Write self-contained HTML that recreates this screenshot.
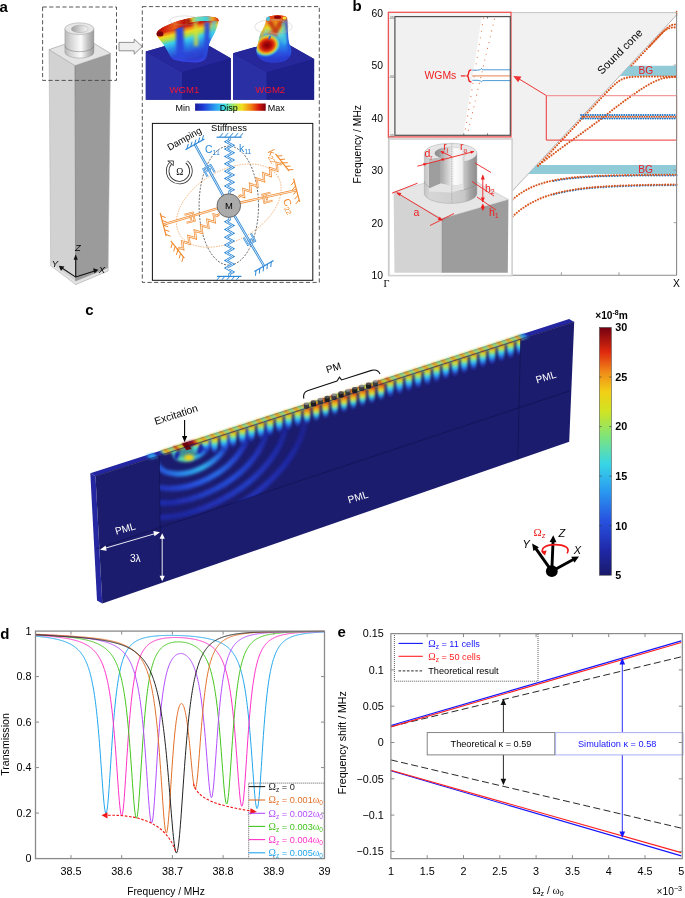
<!DOCTYPE html>
<html><head><meta charset="utf-8"><title>Figure</title>
<style>html,body{margin:0;padding:0;background:#fff;width:685px;height:898px;overflow:hidden;font-family:"Liberation Sans",sans-serif}
svg{display:block;will-change:transform}</style></head>
<body><svg width="685" height="898" viewBox="0 0 685 898">
<rect x="0" y="0" width="685" height="898" fill="#fff"/>
<defs><linearGradient id="cbarC" x1="0" x2="0" y1="1" y2="0"><stop offset="0" stop-color="#1a1a6a"/><stop offset="0.1" stop-color="#1f28a8"/><stop offset="0.22" stop-color="#2752e0"/><stop offset="0.34" stop-color="#2a9af0"/><stop offset="0.45" stop-color="#38d6e6"/><stop offset="0.56" stop-color="#7ee47a"/><stop offset="0.66" stop-color="#cfe424"/><stop offset="0.74" stop-color="#f2d016"/><stop offset="0.82" stop-color="#f08a18"/><stop offset="0.9" stop-color="#e02a0e"/><stop offset="1" stop-color="#740010"/></linearGradient><linearGradient id="lobe" x1="0" x2="0" y1="0" y2="1"><stop offset="0" stop-color="#e88c18"/><stop offset="0.14" stop-color="#ecc820"/><stop offset="0.28" stop-color="#a8e050"/><stop offset="0.44" stop-color="#40d2e8"/><stop offset="0.64" stop-color="#2a78ec"/><stop offset="0.84" stop-color="#2434b4" stop-opacity="0.6"/><stop offset="1" stop-color="#1c1c6e" stop-opacity="0"/></linearGradient><linearGradient id="lobeR" x1="0" x2="0" y1="0" y2="1"><stop offset="0" stop-color="#c81008"/><stop offset="0.2" stop-color="#f08a18"/><stop offset="0.4" stop-color="#d8e030"/><stop offset="0.6" stop-color="#38d0e6"/><stop offset="0.8" stop-color="#2a60e0" stop-opacity="0.7"/><stop offset="1" stop-color="#1c1c6e" stop-opacity="0"/></linearGradient><filter id="bl08" filterUnits="userSpaceOnUse" x="0" y="0" width="685" height="898"><feGaussianBlur stdDeviation="0.8"/></filter><filter id="bl15" filterUnits="userSpaceOnUse" x="0" y="0" width="685" height="898"><feGaussianBlur stdDeviation="1.5"/></filter><filter id="bl25" filterUnits="userSpaceOnUse" x="0" y="0" width="685" height="898"><feGaussianBlur stdDeviation="2.2"/></filter><clipPath id="fieldclip"><polygon points="159.50,455.57 520.60,339.18 518.50,408.08 160.00,527.94"/></clipPath><clipPath id="frontclip"><polygon points="95.50,476.20 574.20,321.90 569.20,441.80 102.30,603.60"/></clipPath></defs>
<text x="85.30" y="314.60" font-family="Liberation Sans" font-size="15" text-anchor="start" fill="#000" font-weight="bold" >c</text>
<polygon points="90.30,473.30 95.50,476.20 102.30,603.60 97.00,600.60" fill="#2427a0" stroke="none" stroke-width="1" />
<polygon points="95.50,476.20 574.20,321.90 569.20,441.80 102.30,603.60" fill="#1c1c6e" stroke="none" stroke-width="1" />
<polygon points="90.30,473.30 569.10,319.10 574.20,321.90 95.50,476.20" fill="#2326a0" stroke="none" stroke-width="1" />
<defs><linearGradient id="rg1" gradientUnits="userSpaceOnUse" x1="150" y1="0" x2="204.0" y2="0"><stop offset="0" stop-color="#2879e8"/><stop offset="0.3" stop-color="#36d1e6"/><stop offset="0.55" stop-color="#64dea1"/><stop offset="0.8" stop-color="#2da7ed"/><stop offset="1" stop-color="#264dda"/></linearGradient><linearGradient id="rg2" gradientUnits="userSpaceOnUse" x1="150" y1="0" x2="224.6" y2="0"><stop offset="0" stop-color="#264eda"/><stop offset="0.3" stop-color="#298fed"/><stop offset="0.55" stop-color="#2fafec"/><stop offset="0.8" stop-color="#286de6"/><stop offset="1" stop-color="#223ac0"/></linearGradient><linearGradient id="rg3" gradientUnits="userSpaceOnUse" x1="150" y1="0" x2="245.2" y2="0"><stop offset="0" stop-color="#2137bc"/><stop offset="0.3" stop-color="#2752e0"/><stop offset="0.55" stop-color="#286ae5"/><stop offset="0.8" stop-color="#2444ce"/><stop offset="1" stop-color="#1f29a9"/></linearGradient><linearGradient id="rg4" gradientUnits="userSpaceOnUse" x1="150" y1="0" x2="265.9" y2="0"><stop offset="0" stop-color="#1f2bac"/><stop offset="0.3" stop-color="#2340c8"/><stop offset="0.55" stop-color="#254bd6"/><stop offset="0.8" stop-color="#2135ba"/><stop offset="1" stop-color="#1e259b"/></linearGradient><linearGradient id="rg5" gradientUnits="userSpaceOnUse" x1="150" y1="0" x2="286.5" y2="0"><stop offset="0" stop-color="#1e26a0"/><stop offset="0.3" stop-color="#2134b8"/><stop offset="0.55" stop-color="#233dc4"/><stop offset="0.8" stop-color="#1f2cad"/><stop offset="1" stop-color="#1d2291"/></linearGradient><linearGradient id="rg6" gradientUnits="userSpaceOnUse" x1="150" y1="0" x2="307.1" y2="0"><stop offset="0" stop-color="#1d2496"/><stop offset="0.3" stop-color="#1f2bac"/><stop offset="0.55" stop-color="#2132b6"/><stop offset="0.8" stop-color="#1e26a2"/><stop offset="1" stop-color="#1c218a"/></linearGradient></defs>
<g clip-path="url(#fieldclip)"><g filter="url(#bl15)"><ellipse cx="192.0" cy="446.0" rx="19.0" ry="11.5" transform="rotate(-27 192.0 446.0)" fill="none" stroke="url(#rg1)" stroke-width="5.0"/><ellipse cx="192.0" cy="446.0" rx="39.6" ry="24.0" transform="rotate(-27 192.0 446.0)" fill="none" stroke="url(#rg2)" stroke-width="5.5"/><ellipse cx="192.0" cy="446.0" rx="60.2" ry="36.5" transform="rotate(-27 192.0 446.0)" fill="none" stroke="url(#rg3)" stroke-width="5.5"/><ellipse cx="192.0" cy="446.0" rx="80.8" ry="49.0" transform="rotate(-27 192.0 446.0)" fill="none" stroke="url(#rg4)" stroke-width="5.5"/><ellipse cx="192.0" cy="446.0" rx="101.5" ry="61.5" transform="rotate(-27 192.0 446.0)" fill="none" stroke="url(#rg5)" stroke-width="5.5"/><ellipse cx="192.0" cy="446.0" rx="122.1" ry="74.0" transform="rotate(-27 192.0 446.0)" fill="none" stroke="url(#rg6)" stroke-width="5.5"/></g><g filter="url(#bl08)"><path d="M192.30,444.99 L199.70,442.62 C199.51,449.31 198.22,454.81 196.00,454.81 C193.78,454.81 192.49,449.31 192.30,444.99 Z" fill="url(#lobe)"/><path d="M201.55,442.01 L208.95,439.64 C208.76,446.32 207.47,451.82 205.25,451.82 C203.03,451.82 201.74,446.32 201.55,442.01 Z" fill="url(#lobe)"/><path d="M210.80,439.03 L218.20,436.66 C218.01,446.59 216.72,455.34 214.50,455.34 C212.28,455.34 210.99,446.59 210.80,439.03 Z" fill="url(#lobe)"/><path d="M220.05,436.05 L227.45,433.68 C227.26,443.61 225.97,452.36 223.75,452.36 C221.53,452.36 220.24,443.61 220.05,436.05 Z" fill="url(#lobe)"/><path d="M229.30,433.06 L236.70,430.70 C236.51,440.63 235.22,449.38 233.00,449.38 C230.78,449.38 229.49,440.63 229.30,433.06 Z" fill="url(#lobe)"/><path d="M238.55,430.08 L245.95,427.71 C245.76,437.65 244.47,446.40 242.25,446.40 C240.03,446.40 238.74,437.65 238.55,430.08 Z" fill="url(#lobe)"/><path d="M247.80,427.10 L255.20,424.73 C255.01,434.67 253.72,443.42 251.50,443.42 C249.28,443.42 247.99,434.67 247.80,427.10 Z" fill="url(#lobe)"/><path d="M257.05,424.12 L264.45,421.75 C264.26,431.68 262.97,440.43 260.75,440.43 C258.53,440.43 257.24,431.68 257.05,424.12 Z" fill="url(#lobe)"/><path d="M266.30,421.14 L273.70,418.77 C273.51,428.70 272.22,437.45 270.00,437.45 C267.78,437.45 266.49,428.70 266.30,421.14 Z" fill="url(#lobe)"/><path d="M275.55,418.16 L282.95,415.79 C282.76,425.72 281.47,434.47 279.25,434.47 C277.03,434.47 275.74,425.72 275.55,418.16 Z" fill="url(#lobe)"/><path d="M284.80,415.17 L292.20,412.81 C292.01,422.74 290.72,431.49 288.50,431.49 C286.28,431.49 284.99,422.74 284.80,415.17 Z" fill="url(#lobe)"/><path d="M294.05,412.19 L301.45,409.82 C301.26,419.76 299.97,428.51 297.75,428.51 C295.53,428.51 294.24,419.76 294.05,412.19 Z" fill="url(#lobe)"/><path d="M303.30,409.21 L310.70,406.84 C310.51,416.78 309.22,425.53 307.00,425.53 C304.78,425.53 303.49,416.78 303.30,409.21 Z" fill="url(#lobeR)"/><path d="M312.55,406.23 L319.95,403.86 C319.76,413.80 318.47,422.55 316.25,422.55 C314.03,422.55 312.74,413.80 312.55,406.23 Z" fill="url(#lobeR)"/><path d="M321.80,403.25 L329.20,400.88 C329.01,410.81 327.72,419.56 325.50,419.56 C323.28,419.56 321.99,410.81 321.80,403.25 Z" fill="url(#lobeR)"/><path d="M331.05,400.27 L338.45,397.90 C338.26,407.83 336.97,416.58 334.75,416.58 C332.53,416.58 331.24,407.83 331.05,400.27 Z" fill="url(#lobeR)"/><path d="M340.30,397.28 L347.70,394.92 C347.51,404.85 346.22,413.60 344.00,413.60 C341.78,413.60 340.49,404.85 340.30,397.28 Z" fill="url(#lobeR)"/><path d="M349.55,394.30 L356.95,391.94 C356.76,401.87 355.47,410.62 353.25,410.62 C351.03,410.62 349.74,401.87 349.55,394.30 Z" fill="url(#lobeR)"/><path d="M358.80,391.32 L366.20,388.95 C366.01,398.89 364.72,407.64 362.50,407.64 C360.28,407.64 358.99,398.89 358.80,391.32 Z" fill="url(#lobeR)"/><path d="M368.05,388.34 L375.45,385.97 C375.26,395.91 373.97,404.66 371.75,404.66 C369.53,404.66 368.24,395.91 368.05,388.34 Z" fill="url(#lobeR)"/><path d="M377.30,385.36 L384.70,382.99 C384.51,392.92 383.22,401.67 381.00,401.67 C378.78,401.67 377.49,392.92 377.30,385.36 Z" fill="url(#lobeR)"/><path d="M386.55,382.38 L393.95,380.01 C393.76,389.94 392.47,398.69 390.25,398.69 C388.03,398.69 386.74,389.94 386.55,382.38 Z" fill="url(#lobe)"/><path d="M395.80,379.40 L403.20,377.03 C403.01,386.96 401.72,395.71 399.50,395.71 C397.28,395.71 395.99,386.96 395.80,379.40 Z" fill="url(#lobe)"/><path d="M405.05,376.41 L412.45,374.05 C412.26,383.98 410.97,392.73 408.75,392.73 C406.53,392.73 405.24,383.98 405.05,376.41 Z" fill="url(#lobe)"/><path d="M414.30,373.43 L421.70,371.06 C421.51,381.00 420.22,389.75 418.00,389.75 C415.78,389.75 414.49,381.00 414.30,373.43 Z" fill="url(#lobe)"/><path d="M423.55,370.45 L430.95,368.08 C430.76,378.02 429.47,386.77 427.25,386.77 C425.03,386.77 423.74,378.02 423.55,370.45 Z" fill="url(#lobe)"/><path d="M432.80,367.47 L440.20,365.10 C440.01,375.04 438.72,383.79 436.50,383.79 C434.28,383.79 432.99,375.04 432.80,367.47 Z" fill="url(#lobe)"/><path d="M442.05,364.49 L449.45,362.12 C449.26,372.05 447.97,380.80 445.75,380.80 C443.53,380.80 442.24,372.05 442.05,364.49 Z" fill="url(#lobe)"/><path d="M451.30,361.51 L458.70,359.14 C458.51,369.07 457.22,377.82 455.00,377.82 C452.78,377.82 451.49,369.07 451.30,361.51 Z" fill="url(#lobe)"/><path d="M460.55,358.52 L467.95,356.16 C467.76,366.09 466.47,374.84 464.25,374.84 C462.03,374.84 460.74,366.09 460.55,358.52 Z" fill="url(#lobe)"/><path d="M469.80,355.54 L477.20,353.17 C477.01,363.11 475.72,371.86 473.50,371.86 C471.28,371.86 469.99,363.11 469.80,355.54 Z" fill="url(#lobe)"/><path d="M479.05,352.56 L486.45,350.19 C486.26,360.13 484.97,368.88 482.75,368.88 C480.53,368.88 479.24,360.13 479.05,352.56 Z" fill="url(#lobe)"/><path d="M488.30,349.58 L495.70,347.21 C495.51,357.15 494.22,365.90 492.00,365.90 C489.78,365.90 488.49,357.15 488.30,349.58 Z" fill="url(#lobe)"/><path d="M497.55,346.60 L504.95,344.23 C504.76,354.16 503.47,362.91 501.25,362.91 C499.03,362.91 497.74,354.16 497.55,346.60 Z" fill="url(#lobe)"/><path d="M506.80,343.62 L514.20,341.25 C514.01,351.18 512.72,359.93 510.50,359.93 C508.28,359.93 506.99,351.18 506.80,343.62 Z" fill="url(#lobe)"/><path d="M516.05,340.63 L523.45,338.27 C523.26,348.20 521.97,356.95 519.75,356.95 C517.53,356.95 516.24,348.20 516.05,340.63 Z" fill="url(#lobe)"/></g><ellipse cx="188" cy="452" rx="11" ry="6" transform="rotate(-15 188 452)" fill="#57dcb4" filter="url(#bl15)" opacity="0.6"/><ellipse cx="189" cy="457.5" rx="5" ry="3" fill="#f2d016" filter="url(#bl15)"/><ellipse cx="176.8" cy="455.5" rx="2.4" ry="4.2" transform="rotate(20 176.8 455.5)" fill="#1f28a8" filter="url(#bl08)"/><ellipse cx="200.2" cy="449.5" rx="2.4" ry="4.2" transform="rotate(20 200.2 449.5)" fill="#1f28a8" filter="url(#bl08)"/></g>
<g filter="url(#bl08)"><polygon points="159.25,450.89 161.40,450.20 166.50,453.81 164.35,454.51" fill="#64dea1" stroke="none" stroke-width="1" /><polygon points="161.10,450.30 163.25,449.61 168.35,453.22 166.20,453.91" fill="#e0da1d" stroke="none" stroke-width="1" /><polygon points="162.95,449.70 165.10,449.01 170.20,452.62 168.05,453.31" fill="#f08a18" stroke="none" stroke-width="1" /><polygon points="164.80,449.11 166.95,448.41 172.05,452.03 169.90,452.72" fill="#f1be16" stroke="none" stroke-width="1" /><polygon points="166.65,448.51 168.80,447.82 173.90,451.43 171.75,452.12" fill="#9ee457" stroke="none" stroke-width="1" /><polygon points="168.50,447.92 170.65,447.22 175.75,450.83 173.60,451.53" fill="#64dea1" stroke="none" stroke-width="1" /><polygon points="170.35,447.32 172.50,446.63 177.60,450.24 175.45,450.93" fill="#e0da1d" stroke="none" stroke-width="1" /><polygon points="172.20,446.72 174.35,446.03 179.45,449.64 177.30,450.33" fill="#ca210e" stroke="none" stroke-width="1" /><polygon points="174.05,446.13 176.20,445.44 181.30,449.04 179.15,449.74" fill="#e85a13" stroke="none" stroke-width="1" /><polygon points="175.90,445.53 178.05,444.84 183.15,448.45 181.00,449.14" fill="#e0da1d" stroke="none" stroke-width="1" /><polygon points="177.75,444.94 179.90,444.24 185.00,447.85 182.85,448.54" fill="#aee446" stroke="none" stroke-width="1" /><polygon points="179.60,444.34 181.75,443.65 186.85,447.26 184.70,447.95" fill="#f09b17" stroke="none" stroke-width="1" /><polygon points="181.45,443.74 183.60,443.05 188.70,446.66 186.55,447.35" fill="#89080f" stroke="none" stroke-width="1" /><polygon points="183.30,443.15 185.45,442.46 190.55,446.06 188.40,446.76" fill="#89080f" stroke="none" stroke-width="1" /><polygon points="185.15,442.55 187.30,441.86 192.40,445.47 190.25,446.16" fill="#89080f" stroke="none" stroke-width="1" /><polygon points="187.00,441.96 189.15,441.26 194.25,444.87 192.10,445.56" fill="#89080f" stroke="none" stroke-width="1" /><polygon points="188.85,441.36 191.00,440.67 196.10,444.27 193.95,444.97" fill="#89080f" stroke="none" stroke-width="1" /><polygon points="190.70,440.77 192.85,440.07 197.95,443.68 195.80,444.37" fill="#ca210e" stroke="none" stroke-width="1" /><polygon points="192.55,440.17 194.70,439.48 199.80,443.08 197.65,443.77" fill="#e85a13" stroke="none" stroke-width="1" /><polygon points="194.40,439.57 196.55,438.88 201.65,442.48 199.50,443.18" fill="#e0da1d" stroke="none" stroke-width="1" /><polygon points="196.25,438.98 198.40,438.29 203.50,441.89 201.35,442.58" fill="#aee446" stroke="none" stroke-width="1" /><polygon points="198.10,438.38 200.25,437.69 205.35,441.29 203.20,441.98" fill="#e0da1d" stroke="none" stroke-width="1" /><polygon points="199.95,437.79 202.10,437.09 207.20,440.70 205.05,441.39" fill="#f08a18" stroke="none" stroke-width="1" /><polygon points="201.80,437.19 203.95,436.50 209.05,440.10 206.90,440.79" fill="#f1be16" stroke="none" stroke-width="1" /><polygon points="203.65,436.60 205.80,435.90 210.90,439.50 208.75,440.20" fill="#9ee457" stroke="none" stroke-width="1" /><polygon points="205.50,436.00 207.65,435.31 212.75,438.91 210.60,439.60" fill="#64dea1" stroke="none" stroke-width="1" /><polygon points="207.35,435.40 209.50,434.71 214.60,438.31 212.45,439.00" fill="#e0da1d" stroke="none" stroke-width="1" /><polygon points="209.20,434.81 211.35,434.12 216.45,437.71 214.30,438.41" fill="#f08a18" stroke="none" stroke-width="1" /><polygon points="211.05,434.21 213.20,433.52 218.30,437.12 216.15,437.81" fill="#f1be16" stroke="none" stroke-width="1" /><polygon points="212.90,433.62 215.05,432.92 220.15,436.52 218.00,437.21" fill="#9ee457" stroke="none" stroke-width="1" /><polygon points="214.75,433.02 216.90,432.33 222.00,435.93 219.85,436.62" fill="#64dea1" stroke="none" stroke-width="1" /><polygon points="216.60,432.42 218.75,431.73 223.85,435.33 221.70,436.02" fill="#e0da1d" stroke="none" stroke-width="1" /><polygon points="218.45,431.83 220.60,431.14 225.70,434.73 223.55,435.43" fill="#f08a18" stroke="none" stroke-width="1" /><polygon points="220.30,431.23 222.45,430.54 227.55,434.14 225.40,434.83" fill="#f1be16" stroke="none" stroke-width="1" /><polygon points="222.15,430.64 224.30,429.94 229.40,433.54 227.25,434.23" fill="#9ee457" stroke="none" stroke-width="1" /><polygon points="224.00,430.04 226.15,429.35 231.25,432.94 229.10,433.64" fill="#64dea1" stroke="none" stroke-width="1" /><polygon points="225.85,429.45 228.00,428.75 233.10,432.35 230.95,433.04" fill="#e0da1d" stroke="none" stroke-width="1" /><polygon points="227.70,428.85 229.85,428.16 234.95,431.75 232.80,432.44" fill="#f08a18" stroke="none" stroke-width="1" /><polygon points="229.55,428.25 231.70,427.56 236.80,431.15 234.65,431.85" fill="#f1be16" stroke="none" stroke-width="1" /><polygon points="231.40,427.66 233.55,426.97 238.65,430.56 236.50,431.25" fill="#9ee457" stroke="none" stroke-width="1" /><polygon points="233.25,427.06 235.40,426.37 240.50,429.96 238.35,430.65" fill="#64dea1" stroke="none" stroke-width="1" /><polygon points="235.10,426.47 237.25,425.77 242.35,429.37 240.20,430.06" fill="#e0da1d" stroke="none" stroke-width="1" /><polygon points="236.95,425.87 239.10,425.18 244.20,428.77 242.05,429.46" fill="#f08a18" stroke="none" stroke-width="1" /><polygon points="238.80,425.27 240.95,424.58 246.05,428.17 243.90,428.87" fill="#f1be16" stroke="none" stroke-width="1" /><polygon points="240.65,424.68 242.80,423.99 247.90,427.58 245.75,428.27" fill="#9ee457" stroke="none" stroke-width="1" /><polygon points="242.50,424.08 244.65,423.39 249.75,426.98 247.60,427.67" fill="#64dea1" stroke="none" stroke-width="1" /><polygon points="244.35,423.49 246.50,422.79 251.60,426.38 249.45,427.08" fill="#e0da1d" stroke="none" stroke-width="1" /><polygon points="246.20,422.89 248.35,422.20 253.45,425.79 251.30,426.48" fill="#f08a18" stroke="none" stroke-width="1" /><polygon points="248.05,422.30 250.20,421.60 255.30,425.19 253.15,425.88" fill="#f1be16" stroke="none" stroke-width="1" /><polygon points="249.90,421.70 252.05,421.01 257.15,424.60 255.00,425.29" fill="#9ee457" stroke="none" stroke-width="1" /><polygon points="251.75,421.10 253.90,420.41 259.00,424.00 256.85,424.69" fill="#64dea1" stroke="none" stroke-width="1" /><polygon points="253.60,420.51 255.75,419.82 260.85,423.40 258.70,424.10" fill="#e0da1d" stroke="none" stroke-width="1" /><polygon points="255.45,419.91 257.60,419.22 262.70,422.81 260.55,423.50" fill="#f08a18" stroke="none" stroke-width="1" /><polygon points="257.30,419.32 259.45,418.62 264.55,422.21 262.40,422.90" fill="#f1be16" stroke="none" stroke-width="1" /><polygon points="259.15,418.72 261.30,418.03 266.40,421.61 264.25,422.31" fill="#9ee457" stroke="none" stroke-width="1" /><polygon points="261.00,418.13 263.15,417.43 268.25,421.02 266.10,421.71" fill="#64dea1" stroke="none" stroke-width="1" /><polygon points="262.85,417.53 265.00,416.84 270.10,420.42 267.95,421.11" fill="#e0da1d" stroke="none" stroke-width="1" /><polygon points="264.70,416.93 266.85,416.24 271.95,419.82 269.80,420.52" fill="#f08a18" stroke="none" stroke-width="1" /><polygon points="266.55,416.34 268.70,415.65 273.80,419.23 271.65,419.92" fill="#f1be16" stroke="none" stroke-width="1" /><polygon points="268.40,415.74 270.55,415.05 275.65,418.63 273.50,419.33" fill="#9ee457" stroke="none" stroke-width="1" /><polygon points="270.25,415.15 272.40,414.45 277.50,418.04 275.35,418.73" fill="#64dea1" stroke="none" stroke-width="1" /><polygon points="272.10,414.55 274.25,413.86 279.35,417.44 277.20,418.13" fill="#e0da1d" stroke="none" stroke-width="1" /><polygon points="273.95,413.95 276.10,413.26 281.20,416.84 279.05,417.54" fill="#f08a18" stroke="none" stroke-width="1" /><polygon points="275.80,413.36 277.95,412.67 283.05,416.25 280.90,416.94" fill="#f1be16" stroke="none" stroke-width="1" /><polygon points="277.65,412.76 279.80,412.07 284.90,415.65 282.75,416.34" fill="#9ee457" stroke="none" stroke-width="1" /><polygon points="279.50,412.17 281.65,411.47 286.75,415.05 284.60,415.75" fill="#64dea1" stroke="none" stroke-width="1" /><polygon points="281.35,411.57 283.50,410.88 288.60,414.46 286.45,415.15" fill="#e0da1d" stroke="none" stroke-width="1" /><polygon points="283.20,410.98 285.35,410.28 290.45,413.86 288.30,414.55" fill="#f08a18" stroke="none" stroke-width="1" /><polygon points="285.05,410.38 287.20,409.69 292.30,413.27 290.15,413.96" fill="#f1be16" stroke="none" stroke-width="1" /><polygon points="286.90,409.78 289.05,409.09 294.15,412.67 292.00,413.36" fill="#9ee457" stroke="none" stroke-width="1" /><polygon points="288.75,409.19 290.90,408.50 296.00,412.07 293.85,412.77" fill="#64dea1" stroke="none" stroke-width="1" /><polygon points="290.60,408.59 292.75,407.90 297.85,411.48 295.70,412.17" fill="#e0da1d" stroke="none" stroke-width="1" /><polygon points="292.45,408.00 294.60,407.30 299.70,410.88 297.55,411.57" fill="#f08a18" stroke="none" stroke-width="1" /><polygon points="294.30,407.40 296.45,406.71 301.55,410.28 299.40,410.98" fill="#f1be16" stroke="none" stroke-width="1" /><polygon points="296.15,406.80 298.30,406.11 303.40,409.69 301.25,410.38" fill="#9ee457" stroke="none" stroke-width="1" /><polygon points="298.00,406.21 300.15,405.52 305.25,409.09 303.10,409.78" fill="#64dea1" stroke="none" stroke-width="1" /><polygon points="299.85,405.61 302.00,404.92 307.10,408.49 304.95,409.19" fill="#e0da1d" stroke="none" stroke-width="1" /><polygon points="301.70,405.02 303.85,404.33 308.95,407.90 306.80,408.59" fill="#f08a18" stroke="none" stroke-width="1" /><polygon points="303.55,404.42 305.70,403.73 310.80,407.30 308.65,408.00" fill="#f1be16" stroke="none" stroke-width="1" /><polygon points="305.40,403.83 307.55,403.13 312.65,406.71 310.50,407.40" fill="#d7df20" stroke="none" stroke-width="1" /><polygon points="307.25,403.23 309.40,402.54 314.50,406.11 312.35,406.80" fill="#9ee457" stroke="none" stroke-width="1" /><polygon points="309.10,402.63 311.25,401.94 316.35,405.51 314.20,406.21" fill="#f1ad17" stroke="none" stroke-width="1" /><polygon points="310.95,402.04 313.10,401.35 318.20,404.92 316.05,405.61" fill="#e02a0e" stroke="none" stroke-width="1" /><polygon points="312.80,401.44 314.95,400.75 320.05,404.32 317.90,405.01" fill="#ec7215" stroke="none" stroke-width="1" /><polygon points="314.65,400.85 316.80,400.15 321.90,403.72 319.75,404.42" fill="#d7df20" stroke="none" stroke-width="1" /><polygon points="316.50,400.25 318.65,399.56 323.75,403.13 321.60,403.82" fill="#9ee457" stroke="none" stroke-width="1" /><polygon points="318.35,399.66 320.50,398.96 325.60,402.53 323.45,403.22" fill="#f1ad17" stroke="none" stroke-width="1" /><polygon points="320.20,399.06 322.35,398.37 327.45,401.94 325.30,402.63" fill="#e02a0e" stroke="none" stroke-width="1" /><polygon points="322.05,398.46 324.20,397.77 329.30,401.34 327.15,402.03" fill="#ec7215" stroke="none" stroke-width="1" /><polygon points="323.90,397.87 326.05,397.18 331.15,400.74 329.00,401.44" fill="#d7df20" stroke="none" stroke-width="1" /><polygon points="325.75,397.27 327.90,396.58 333.00,400.15 330.85,400.84" fill="#9ee457" stroke="none" stroke-width="1" /><polygon points="327.60,396.68 329.75,395.98 334.85,399.55 332.70,400.24" fill="#f1ad17" stroke="none" stroke-width="1" /><polygon points="329.45,396.08 331.60,395.39 336.70,398.95 334.55,399.65" fill="#e02a0e" stroke="none" stroke-width="1" /><polygon points="331.30,395.48 333.45,394.79 338.55,398.36 336.40,399.05" fill="#ec7215" stroke="none" stroke-width="1" /><polygon points="333.15,394.89 335.30,394.20 340.40,397.76 338.25,398.45" fill="#d7df20" stroke="none" stroke-width="1" /><polygon points="335.00,394.29 337.15,393.60 342.25,397.16 340.10,397.86" fill="#9ee457" stroke="none" stroke-width="1" /><polygon points="336.85,393.70 339.00,393.00 344.10,396.57 341.95,397.26" fill="#f1ad17" stroke="none" stroke-width="1" /><polygon points="338.70,393.10 340.85,392.41 345.95,395.97 343.80,396.67" fill="#e02a0e" stroke="none" stroke-width="1" /><polygon points="340.55,392.51 342.70,391.81 347.80,395.38 345.65,396.07" fill="#ec7215" stroke="none" stroke-width="1" /><polygon points="342.40,391.91 344.55,391.22 349.65,394.78 347.50,395.47" fill="#d7df20" stroke="none" stroke-width="1" /><polygon points="344.25,391.31 346.40,390.62 351.50,394.18 349.35,394.88" fill="#9ee457" stroke="none" stroke-width="1" /><polygon points="346.10,390.72 348.25,390.03 353.35,393.59 351.20,394.28" fill="#f1ad17" stroke="none" stroke-width="1" /><polygon points="347.95,390.12 350.10,389.43 355.20,392.99 353.05,393.68" fill="#e02a0e" stroke="none" stroke-width="1" /><polygon points="349.80,389.53 351.95,388.83 357.05,392.39 354.90,393.09" fill="#ec7215" stroke="none" stroke-width="1" /><polygon points="351.65,388.93 353.80,388.24 358.90,391.80 356.75,392.49" fill="#d7df20" stroke="none" stroke-width="1" /><polygon points="353.50,388.34 355.65,387.64 360.75,391.20 358.60,391.89" fill="#9ee457" stroke="none" stroke-width="1" /><polygon points="355.35,387.74 357.50,387.05 362.60,390.61 360.45,391.30" fill="#f1ad17" stroke="none" stroke-width="1" /><polygon points="357.20,387.14 359.35,386.45 364.45,390.01 362.30,390.70" fill="#e02a0e" stroke="none" stroke-width="1" /><polygon points="359.05,386.55 361.20,385.86 366.30,389.41 364.15,390.11" fill="#ec7215" stroke="none" stroke-width="1" /><polygon points="360.90,385.95 363.05,385.26 368.15,388.82 366.00,389.51" fill="#d7df20" stroke="none" stroke-width="1" /><polygon points="362.75,385.36 364.90,384.66 370.00,388.22 367.85,388.91" fill="#9ee457" stroke="none" stroke-width="1" /><polygon points="364.60,384.76 366.75,384.07 371.85,387.62 369.70,388.32" fill="#f1ad17" stroke="none" stroke-width="1" /><polygon points="366.45,384.16 368.60,383.47 373.70,387.03 371.55,387.72" fill="#e02a0e" stroke="none" stroke-width="1" /><polygon points="368.30,383.57 370.45,382.88 375.55,386.43 373.40,387.12" fill="#ec7215" stroke="none" stroke-width="1" /><polygon points="370.15,382.97 372.30,382.28 377.40,385.83 375.25,386.53" fill="#d7df20" stroke="none" stroke-width="1" /><polygon points="372.00,382.38 374.15,381.68 379.25,385.24 377.10,385.93" fill="#9ee457" stroke="none" stroke-width="1" /><polygon points="373.85,381.78 376.00,381.09 381.10,384.64 378.95,385.34" fill="#f1ad17" stroke="none" stroke-width="1" /><polygon points="375.70,381.19 377.85,380.49 382.95,384.05 380.80,384.74" fill="#e02a0e" stroke="none" stroke-width="1" /><polygon points="377.55,380.59 379.70,379.90 384.80,383.45 382.65,384.14" fill="#ec7215" stroke="none" stroke-width="1" /><polygon points="379.40,379.99 381.55,379.30 386.65,382.85 384.50,383.55" fill="#d7df20" stroke="none" stroke-width="1" /><polygon points="381.25,379.40 383.40,378.71 388.50,382.26 386.35,382.95" fill="#9ee457" stroke="none" stroke-width="1" /><polygon points="383.10,378.80 385.25,378.11 390.35,381.66 388.20,382.35" fill="#f1ad17" stroke="none" stroke-width="1" /><polygon points="384.95,378.21 387.10,377.51 392.20,381.06 390.05,381.76" fill="#e02a0e" stroke="none" stroke-width="1" /><polygon points="386.80,377.61 388.95,376.92 394.05,380.47 391.90,381.16" fill="#f1be16" stroke="none" stroke-width="1" /><polygon points="388.65,377.01 390.80,376.32 395.90,379.87 393.75,380.56" fill="#9ee457" stroke="none" stroke-width="1" /><polygon points="390.50,376.42 392.65,375.73 397.75,379.28 395.60,379.97" fill="#64dea1" stroke="none" stroke-width="1" /><polygon points="392.35,375.82 394.50,375.13 399.60,378.68 397.45,379.37" fill="#e0da1d" stroke="none" stroke-width="1" /><polygon points="394.20,375.23 396.35,374.54 401.45,378.08 399.30,378.78" fill="#f08a18" stroke="none" stroke-width="1" /><polygon points="396.05,374.63 398.20,373.94 403.30,377.49 401.15,378.18" fill="#f1be16" stroke="none" stroke-width="1" /><polygon points="397.90,374.04 400.05,373.34 405.15,376.89 403.00,377.58" fill="#9ee457" stroke="none" stroke-width="1" /><polygon points="399.75,373.44 401.90,372.75 407.00,376.29 404.85,376.99" fill="#64dea1" stroke="none" stroke-width="1" /><polygon points="401.60,372.84 403.75,372.15 408.85,375.70 406.70,376.39" fill="#e0da1d" stroke="none" stroke-width="1" /><polygon points="403.45,372.25 405.60,371.56 410.70,375.10 408.55,375.79" fill="#f08a18" stroke="none" stroke-width="1" /><polygon points="405.30,371.65 407.45,370.96 412.55,374.50 410.40,375.20" fill="#f1be16" stroke="none" stroke-width="1" /><polygon points="407.15,371.06 409.30,370.36 414.40,373.91 412.25,374.60" fill="#9ee457" stroke="none" stroke-width="1" /><polygon points="409.00,370.46 411.15,369.77 416.25,373.31 414.10,374.01" fill="#64dea1" stroke="none" stroke-width="1" /><polygon points="410.85,369.87 413.00,369.17 418.10,372.72 415.95,373.41" fill="#e0da1d" stroke="none" stroke-width="1" /><polygon points="412.70,369.27 414.85,368.58 419.95,372.12 417.80,372.81" fill="#f08a18" stroke="none" stroke-width="1" /><polygon points="414.55,368.67 416.70,367.98 421.80,371.52 419.65,372.22" fill="#f1be16" stroke="none" stroke-width="1" /><polygon points="416.40,368.08 418.55,367.39 423.65,370.93 421.50,371.62" fill="#9ee457" stroke="none" stroke-width="1" /><polygon points="418.25,367.48 420.40,366.79 425.50,370.33 423.35,371.02" fill="#64dea1" stroke="none" stroke-width="1" /><polygon points="420.10,366.89 422.25,366.19 427.35,369.73 425.20,370.43" fill="#e0da1d" stroke="none" stroke-width="1" /><polygon points="421.95,366.29 424.10,365.60 429.20,369.14 427.05,369.83" fill="#f08a18" stroke="none" stroke-width="1" /><polygon points="423.80,365.69 425.95,365.00 431.05,368.54 428.90,369.23" fill="#f1be16" stroke="none" stroke-width="1" /><polygon points="425.65,365.10 427.80,364.41 432.90,367.95 430.75,368.64" fill="#9ee457" stroke="none" stroke-width="1" /><polygon points="427.50,364.50 429.65,363.81 434.75,367.35 432.60,368.04" fill="#64dea1" stroke="none" stroke-width="1" /><polygon points="429.35,363.91 431.50,363.21 436.60,366.75 434.45,367.45" fill="#e0da1d" stroke="none" stroke-width="1" /><polygon points="431.20,363.31 433.35,362.62 438.45,366.16 436.30,366.85" fill="#f08a18" stroke="none" stroke-width="1" /><polygon points="433.05,362.72 435.20,362.02 440.30,365.56 438.15,366.25" fill="#f1be16" stroke="none" stroke-width="1" /><polygon points="434.90,362.12 437.05,361.43 442.15,364.96 440.00,365.66" fill="#9ee457" stroke="none" stroke-width="1" /><polygon points="436.75,361.52 438.90,360.83 444.00,364.37 441.85,365.06" fill="#64dea1" stroke="none" stroke-width="1" /><polygon points="438.60,360.93 440.75,360.24 445.85,363.77 443.70,364.46" fill="#e0da1d" stroke="none" stroke-width="1" /><polygon points="440.45,360.33 442.60,359.64 447.70,363.17 445.55,363.87" fill="#f08a18" stroke="none" stroke-width="1" /><polygon points="442.30,359.74 444.45,359.04 449.55,362.58 447.40,363.27" fill="#f1be16" stroke="none" stroke-width="1" /><polygon points="444.15,359.14 446.30,358.45 451.40,361.98 449.25,362.68" fill="#9ee457" stroke="none" stroke-width="1" /><polygon points="446.00,358.54 448.15,357.85 453.25,361.39 451.10,362.08" fill="#64dea1" stroke="none" stroke-width="1" /><polygon points="447.85,357.95 450.00,357.26 455.10,360.79 452.95,361.48" fill="#e0da1d" stroke="none" stroke-width="1" /><polygon points="449.70,357.35 451.85,356.66 456.95,360.19 454.80,360.89" fill="#f08a18" stroke="none" stroke-width="1" /><polygon points="451.55,356.76 453.70,356.07 458.80,359.60 456.65,360.29" fill="#f1be16" stroke="none" stroke-width="1" /><polygon points="453.40,356.16 455.55,355.47 460.65,359.00 458.50,359.69" fill="#9ee457" stroke="none" stroke-width="1" /><polygon points="455.25,355.57 457.40,354.87 462.50,358.40 460.35,359.10" fill="#64dea1" stroke="none" stroke-width="1" /><polygon points="457.10,354.97 459.25,354.28 464.35,357.81 462.20,358.50" fill="#e0da1d" stroke="none" stroke-width="1" /><polygon points="458.95,354.37 461.10,353.68 466.20,357.21 464.05,357.90" fill="#f08a18" stroke="none" stroke-width="1" /><polygon points="460.80,353.78 462.95,353.09 468.05,356.62 465.90,357.31" fill="#f1be16" stroke="none" stroke-width="1" /><polygon points="462.65,353.18 464.80,352.49 469.90,356.02 467.75,356.71" fill="#9ee457" stroke="none" stroke-width="1" /><polygon points="464.50,352.59 466.65,351.89 471.75,355.42 469.60,356.12" fill="#64dea1" stroke="none" stroke-width="1" /><polygon points="466.35,351.99 468.50,351.30 473.60,354.83 471.45,355.52" fill="#e0da1d" stroke="none" stroke-width="1" /><polygon points="468.20,351.40 470.35,350.70 475.45,354.23 473.30,354.92" fill="#f08a18" stroke="none" stroke-width="1" /><polygon points="470.05,350.80 472.20,350.11 477.30,353.63 475.15,354.33" fill="#f1be16" stroke="none" stroke-width="1" /><polygon points="471.90,350.20 474.05,349.51 479.15,353.04 477.00,353.73" fill="#9ee457" stroke="none" stroke-width="1" /><polygon points="473.75,349.61 475.90,348.92 481.00,352.44 478.85,353.13" fill="#64dea1" stroke="none" stroke-width="1" /><polygon points="475.60,349.01 477.75,348.32 482.85,351.84 480.70,352.54" fill="#e0da1d" stroke="none" stroke-width="1" /><polygon points="477.45,348.42 479.60,347.72 484.70,351.25 482.55,351.94" fill="#f08a18" stroke="none" stroke-width="1" /><polygon points="479.30,347.82 481.45,347.13 486.55,350.65 484.40,351.35" fill="#f1be16" stroke="none" stroke-width="1" /><polygon points="481.15,347.22 483.30,346.53 488.40,350.06 486.25,350.75" fill="#9ee457" stroke="none" stroke-width="1" /><polygon points="483.00,346.63 485.15,345.94 490.25,349.46 488.10,350.15" fill="#64dea1" stroke="none" stroke-width="1" /><polygon points="484.85,346.03 487.00,345.34 492.10,348.86 489.95,349.56" fill="#e0da1d" stroke="none" stroke-width="1" /><polygon points="486.70,345.44 488.85,344.74 493.95,348.27 491.80,348.96" fill="#f08a18" stroke="none" stroke-width="1" /><polygon points="488.55,344.84 490.70,344.15 495.80,347.67 493.65,348.36" fill="#f1be16" stroke="none" stroke-width="1" /><polygon points="490.40,344.25 492.55,343.55 497.65,347.07 495.50,347.77" fill="#9ee457" stroke="none" stroke-width="1" /><polygon points="492.25,343.65 494.40,342.96 499.50,346.48 497.35,347.17" fill="#64dea1" stroke="none" stroke-width="1" /><polygon points="494.10,343.05 496.25,342.36 501.35,345.88 499.20,346.57" fill="#e0da1d" stroke="none" stroke-width="1" /><polygon points="495.95,342.46 498.10,341.77 503.20,345.29 501.05,345.98" fill="#f08a18" stroke="none" stroke-width="1" /><polygon points="497.80,341.86 499.95,341.17 505.05,344.69 502.90,345.38" fill="#f1be16" stroke="none" stroke-width="1" /><polygon points="499.65,341.27 501.80,340.57 506.90,344.09 504.75,344.79" fill="#9ee457" stroke="none" stroke-width="1" /><polygon points="501.50,340.67 503.65,339.98 508.75,343.50 506.60,344.19" fill="#64dea1" stroke="none" stroke-width="1" /><polygon points="503.35,340.08 505.50,339.38 510.60,342.90 508.45,343.59" fill="#e0da1d" stroke="none" stroke-width="1" /><polygon points="505.20,339.48 507.35,338.79 512.45,342.30 510.30,343.00" fill="#f08a18" stroke="none" stroke-width="1" /><polygon points="507.05,338.88 509.20,338.19 514.30,341.71 512.15,342.40" fill="#f1be16" stroke="none" stroke-width="1" /><polygon points="508.90,338.29 511.05,337.60 516.15,341.11 514.00,341.80" fill="#9ee457" stroke="none" stroke-width="1" /><polygon points="510.75,337.69 512.90,337.00 518.00,340.52 515.85,341.21" fill="#64dea1" stroke="none" stroke-width="1" /><polygon points="512.60,337.10 514.75,336.40 519.85,339.92 517.70,340.61" fill="#e0da1d" stroke="none" stroke-width="1" /><polygon points="514.45,336.50 516.60,335.81 521.70,339.32 519.55,340.02" fill="#f08a18" stroke="none" stroke-width="1" /><polygon points="516.30,335.90 518.45,335.21 523.55,338.73 521.40,339.42" fill="#f1be16" stroke="none" stroke-width="1" /><polygon points="518.15,335.31 520.30,334.62 525.40,338.13 523.25,338.82" fill="#9ee457" stroke="none" stroke-width="1" /></g>
<path d="M146,455.4 L153,453.1 L158,457.1 L151,459.3 Z" fill="#2a9af0" filter="url(#bl08)"/>
<path d="M518,335.6 L524,333.6 L529,337.5 L523,339.4 Z" fill="#2a9af0" filter="url(#bl08)" opacity="0.8"/>
<polygon points="182.00,443.77 187.00,442.16 191.50,448.76 186.50,450.37" fill="#6e0008" stroke="none" stroke-width="1" />
<rect x="303.90" y="403.79" width="5.2" height="3.8" fill="#3c3c3c"/><ellipse cx="306.50" cy="403.79" rx="2.6" ry="1.3" fill="#8a8a8a"/><ellipse cx="306.50" cy="407.59" rx="2.6" ry="1.2" fill="#3c3c3c"/><rect x="310.80" y="401.56" width="5.2" height="3.8" fill="#1e1e1e"/><ellipse cx="313.40" cy="401.56" rx="2.6" ry="1.3" fill="#555"/><ellipse cx="313.40" cy="405.36" rx="2.6" ry="1.2" fill="#1e1e1e"/><rect x="317.70" y="399.34" width="5.2" height="3.8" fill="#3c3c3c"/><ellipse cx="320.30" cy="399.34" rx="2.6" ry="1.3" fill="#8a8a8a"/><ellipse cx="320.30" cy="403.14" rx="2.6" ry="1.2" fill="#3c3c3c"/><rect x="324.60" y="397.12" width="5.2" height="3.8" fill="#1e1e1e"/><ellipse cx="327.20" cy="397.12" rx="2.6" ry="1.3" fill="#555"/><ellipse cx="327.20" cy="400.92" rx="2.6" ry="1.2" fill="#1e1e1e"/><rect x="331.50" y="394.89" width="5.2" height="3.8" fill="#3c3c3c"/><ellipse cx="334.10" cy="394.89" rx="2.6" ry="1.3" fill="#8a8a8a"/><ellipse cx="334.10" cy="398.69" rx="2.6" ry="1.2" fill="#3c3c3c"/><rect x="338.40" y="392.67" width="5.2" height="3.8" fill="#1e1e1e"/><ellipse cx="341.00" cy="392.67" rx="2.6" ry="1.3" fill="#555"/><ellipse cx="341.00" cy="396.47" rx="2.6" ry="1.2" fill="#1e1e1e"/><rect x="345.30" y="390.44" width="5.2" height="3.8" fill="#3c3c3c"/><ellipse cx="347.90" cy="390.44" rx="2.6" ry="1.3" fill="#8a8a8a"/><ellipse cx="347.90" cy="394.24" rx="2.6" ry="1.2" fill="#3c3c3c"/><rect x="352.20" y="388.22" width="5.2" height="3.8" fill="#1e1e1e"/><ellipse cx="354.80" cy="388.22" rx="2.6" ry="1.3" fill="#555"/><ellipse cx="354.80" cy="392.02" rx="2.6" ry="1.2" fill="#1e1e1e"/><rect x="359.10" y="386.00" width="5.2" height="3.8" fill="#3c3c3c"/><ellipse cx="361.70" cy="386.00" rx="2.6" ry="1.3" fill="#8a8a8a"/><ellipse cx="361.70" cy="389.80" rx="2.6" ry="1.2" fill="#3c3c3c"/><rect x="366.00" y="383.77" width="5.2" height="3.8" fill="#1e1e1e"/><ellipse cx="368.60" cy="383.77" rx="2.6" ry="1.3" fill="#555"/><ellipse cx="368.60" cy="387.57" rx="2.6" ry="1.2" fill="#1e1e1e"/><rect x="372.90" y="381.55" width="5.2" height="3.8" fill="#3c3c3c"/><ellipse cx="375.50" cy="381.55" rx="2.6" ry="1.3" fill="#8a8a8a"/><ellipse cx="375.50" cy="385.35" rx="2.6" ry="1.2" fill="#3c3c3c"/>
<line x1="159.50" y1="455.57" x2="160.60" y2="582.00" stroke="#0c0c40" stroke-width="0.5" />
<line x1="520.60" y1="339.18" x2="517.80" y2="459.50" stroke="#0c0c40" stroke-width="0.5" />
<line x1="96.00" y1="548.80" x2="569.60" y2="391.00" stroke="#0c0c40" stroke-width="0.5" />
<polyline points="95.50,476.20 574.20,321.90" fill="none" stroke="#12124a" stroke-width="0.6" />
<line x1="103.50" y1="548.70" x2="156.60" y2="533.20" stroke="#fff" stroke-width="0.9" />
<polygon points="100.00,549.70 105.60,545.60 106.60,550.80" fill="#fff" stroke="none" stroke-width="1" />
<polygon points="160.00,532.20 154.40,536.30 153.40,531.10" fill="#fff" stroke="none" stroke-width="1" />
<line x1="162.20" y1="537.00" x2="162.20" y2="577.50" stroke="#fff" stroke-width="0.9" />
<polygon points="162.20,533.20 159.60,538.80 164.80,538.80" fill="#fff" stroke="none" stroke-width="1" />
<polygon points="162.20,581.30 159.60,575.70 164.80,575.70" fill="#fff" stroke="none" stroke-width="1" />
<text x="126.20" y="532.00" font-family="Liberation Sans" font-size="10.1" text-anchor="middle" fill="#fff" font-weight="normal" transform="rotate(-16 126.20 532.00)" >PML</text>
<text x="135.30" y="561.60" font-family="Liberation Sans" font-size="10.2" text-anchor="middle" fill="#fff" font-weight="normal" >3λ</text>
<text x="359.00" y="500.50" font-family="Liberation Sans" font-size="10.1" text-anchor="middle" fill="#fff" font-weight="normal" transform="rotate(-17 359.00 500.50)" >PML</text>
<text x="547.00" y="380.50" font-family="Liberation Sans" font-size="10.1" text-anchor="middle" fill="#fff" font-weight="normal" transform="rotate(-17 547.00 380.50)" >PML</text>
<text x="177.20" y="418.00" font-family="Liberation Sans" font-size="10.4" text-anchor="middle" fill="#000" font-weight="normal" transform="rotate(-18 177.20 418.00)" >Excitation</text>
<line x1="184.60" y1="420.00" x2="184.60" y2="437.00" stroke="#000" stroke-width="1.1" />
<polygon points="184.60,442.20 182.00,436.00 187.20,436.00" fill="#000" stroke="none" stroke-width="1" />
<path d="M303.8,398.6 C303,394 304,392 307.5,390.8 L337,381 L339.5,377.2 L341.5,379.9 L371.5,370.4 C375,369.5 378.5,370.5 380,374" fill="none" stroke="#111" stroke-width="1.1"/>
<text x="334.50" y="371.00" font-family="Liberation Sans" font-size="10.0" text-anchor="middle" fill="#000" font-weight="normal" transform="rotate(-17 334.50 371.00)" >PM</text>
<line x1="551.80" y1="571.20" x2="553.03" y2="541.69" stroke="#000" stroke-width="2.9" /><polygon points="553.30,535.20 556.41,542.34 549.61,542.05" fill="#000" stroke="none" stroke-width="1" />
<line x1="551.80" y1="571.20" x2="535.86" y2="548.70" stroke="#000" stroke-width="2.9" /><polygon points="532.10,543.40 538.92,547.15 533.37,551.08" fill="#000" stroke="none" stroke-width="1" />
<line x1="551.80" y1="571.20" x2="573.29" y2="559.51" stroke="#000" stroke-width="2.9" /><polygon points="579.00,556.40 574.48,562.73 571.23,556.76" fill="#000" stroke="none" stroke-width="1" />
<circle cx="551.8" cy="571.2" r="5.9" fill="#000"/>
<path d="M543.8,553.6 C539.5,549 545,544.6 554.7,544.6 C564,544.6 570.5,547.5 567.2,553.4" fill="none" stroke="#f01818" stroke-width="1.6"/>
<polygon points="545.00,555.60 541.00,551.20 546.60,550.40" fill="#f01818" stroke="none" stroke-width="1" />
<text x="561.80" y="536.60" font-family="Liberation Sans" font-size="11.0" text-anchor="middle" fill="#000" font-weight="normal" font-style="italic" >Z</text>
<text x="526.20" y="547.80" font-family="Liberation Sans" font-size="11.0" text-anchor="middle" fill="#000" font-weight="normal" font-style="italic" >Y</text>
<text x="577.40" y="554.40" font-family="Liberation Sans" font-size="11.0" text-anchor="middle" fill="#000" font-weight="normal" font-style="italic" >X</text>
<text x="533.60" y="535.80" font-family="Liberation Serif" font-size="11.0" text-anchor="start" fill="#f01818" font-weight="normal" >Ω<tspan font-family="Liberation Sans" font-size="7.5" dy="2">z</tspan></text>
<rect x="599.5" y="327.5" width="11.8" height="247.7" fill="url(#cbarC)" stroke="#333" stroke-width="0.5"/>
<text x="615.20" y="331.40" font-family="Liberation Sans" font-size="10.8" text-anchor="start" fill="#000" font-weight="bold" >30</text>
<line x1="599.50" y1="377.04" x2="601.50" y2="377.04" stroke="#333" stroke-width="0.6" />
<line x1="611.30" y1="377.04" x2="609.30" y2="377.04" stroke="#333" stroke-width="0.6" />
<text x="615.20" y="380.94" font-family="Liberation Sans" font-size="10.8" text-anchor="start" fill="#000" font-weight="bold" >25</text>
<line x1="599.50" y1="426.58" x2="601.50" y2="426.58" stroke="#333" stroke-width="0.6" />
<line x1="611.30" y1="426.58" x2="609.30" y2="426.58" stroke="#333" stroke-width="0.6" />
<text x="615.20" y="430.48" font-family="Liberation Sans" font-size="10.8" text-anchor="start" fill="#000" font-weight="bold" >20</text>
<line x1="599.50" y1="476.12" x2="601.50" y2="476.12" stroke="#333" stroke-width="0.6" />
<line x1="611.30" y1="476.12" x2="609.30" y2="476.12" stroke="#333" stroke-width="0.6" />
<text x="615.20" y="480.02" font-family="Liberation Sans" font-size="10.8" text-anchor="start" fill="#000" font-weight="bold" >15</text>
<line x1="599.50" y1="525.66" x2="601.50" y2="525.66" stroke="#333" stroke-width="0.6" />
<line x1="611.30" y1="525.66" x2="609.30" y2="525.66" stroke="#333" stroke-width="0.6" />
<text x="615.20" y="529.56" font-family="Liberation Sans" font-size="10.8" text-anchor="start" fill="#000" font-weight="bold" >10</text>
<text x="615.20" y="579.10" font-family="Liberation Sans" font-size="10.8" text-anchor="start" fill="#000" font-weight="bold" >5</text>
<text x="595.20" y="319.00" font-family="Liberation Sans" font-size="10.2" text-anchor="start" fill="#000" font-weight="bold" >×10<tspan font-size="7" dy="-3.8">-8</tspan><tspan dy="3.8">m</tspan></text>
<defs><linearGradient id="cylA" x1="0" x2="1" y1="0" y2="0"><stop offset="0" stop-color="#b8b8b8"/><stop offset="0.2" stop-color="#d4d4d4"/><stop offset="0.55" stop-color="#fbfbfb"/><stop offset="0.8" stop-color="#c0c0c0"/><stop offset="1" stop-color="#9a9a9a"/></linearGradient><linearGradient id="holeA" x1="0" x2="1" y1="0" y2="0"><stop offset="0" stop-color="#a0a0a0"/><stop offset="0.6" stop-color="#d8d8d8"/><stop offset="1" stop-color="#f4f4f4"/></linearGradient><linearGradient id="jetH" x1="0" x2="1" y1="0" y2="0"><stop offset="0" stop-color="#1a1a9a"/><stop offset="0.12" stop-color="#1f3ed8"/><stop offset="0.3" stop-color="#2aa6f2"/><stop offset="0.42" stop-color="#3ee0e0"/><stop offset="0.55" stop-color="#a6e85a"/><stop offset="0.66" stop-color="#f2e21e"/><stop offset="0.8" stop-color="#f07a12"/><stop offset="0.9" stop-color="#d81a0e"/><stop offset="1" stop-color="#7a0008"/></linearGradient><linearGradient id="wgm1g" x1="0" x2="0" y1="1" y2="0"><stop offset="0" stop-color="#2a34c8"/><stop offset="0.25" stop-color="#2f7ee8"/><stop offset="0.45" stop-color="#3cc8ec"/><stop offset="0.6" stop-color="#9ee27a"/><stop offset="0.72" stop-color="#f2dc28"/><stop offset="0.84" stop-color="#f0741a"/><stop offset="0.93" stop-color="#c8140c"/><stop offset="1" stop-color="#e65a10"/></linearGradient><linearGradient id="wgm2g" x1="0" x2="0" y1="1" y2="0"><stop offset="0" stop-color="#2a34c8"/><stop offset="0.18" stop-color="#3aa8f0"/><stop offset="0.3" stop-color="#f0e030"/><stop offset="0.42" stop-color="#d01a0c"/><stop offset="0.55" stop-color="#f08a1a"/><stop offset="0.7" stop-color="#3cc8ec"/><stop offset="0.85" stop-color="#e03a10"/><stop offset="1" stop-color="#f0c020"/></linearGradient><filter id="blur1" filterUnits="userSpaceOnUse" x="0" y="0" width="685" height="898"><feGaussianBlur stdDeviation="1.2"/></filter><filter id="blur15a" filterUnits="userSpaceOnUse" x="0" y="0" width="685" height="898"><feGaussianBlur stdDeviation="1.6"/></filter><filter id="blur06" filterUnits="userSpaceOnUse" x="0" y="0" width="685" height="898"><feGaussianBlur stdDeviation="0.6"/></filter></defs>
<text x="-0.50" y="11.80" font-family="Liberation Sans" font-size="15" text-anchor="start" fill="#000" font-weight="bold" >a</text>
<polygon points="49.00,49.60 75.00,65.60 75.70,284.60 50.70,265.70" fill="#d2d2d2" stroke="none" stroke-width="1" />
<polygon points="75.00,65.60 110.60,53.50 108.10,271.00 75.70,284.60" fill="#9b9b9b" stroke="none" stroke-width="1" />
<polygon points="49.00,49.60 84.60,37.50 110.60,53.50 75.00,65.60" fill="#e4e4e4" stroke="#8a8a8a" stroke-width="0.5" />
<line x1="75.00" y1="65.60" x2="75.70" y2="284.60" stroke="#7c7c7c" stroke-width="0.7" />
<polygon points="50.70,265.70 50.90,262.50 75.70,281.30 108.20,268.00 108.10,271.00 75.70,284.60" fill="#e2e2e2" stroke="none" stroke-width="1" />
<polyline points="49.00,49.60 50.70,265.70 75.70,284.60 108.10,271.00 110.60,53.50" fill="none" stroke="#b0b0b0" stroke-width="0.5" />
<path d="M64.9,28.7 L64.9,52.2 A14.5,5.9 0 0 0 93.9,52.2 L93.9,28.7 Z" fill="url(#cylA)" stroke="#888" stroke-width="0.4"/>
<path d="M64.9,45.8 A14.5,5.9 0 0 0 93.9,45.8" fill="none" stroke="#777" stroke-width="0.5"/>
<ellipse cx="79.4" cy="28.7" rx="14.5" ry="5.9" fill="#e6e6e6" stroke="#888" stroke-width="0.4"/>
<ellipse cx="79.7" cy="29.0" rx="8.4" ry="3.7" fill="url(#holeA)" stroke="#888" stroke-width="0.3"/>
<rect x="42.6" y="7.0" width="73.9" height="73.4" fill="none" stroke="#444" stroke-width="0.9" stroke-dasharray="4.2,2.4"/>
<line x1="75.70" y1="277.10" x2="75.70" y2="258.00" stroke="#111" stroke-width="1.1" />
<polygon points="75.70,254.30 73.60,259.80 77.80,259.80" fill="#111" stroke="none" stroke-width="1" />
<line x1="75.70" y1="277.10" x2="62.00" y2="268.00" stroke="#111" stroke-width="1.1" />
<polygon points="58.90,265.70 61.00,271.00 64.40,266.60" fill="#111" stroke="none" stroke-width="1" />
<line x1="75.70" y1="277.10" x2="94.60" y2="271.00" stroke="#111" stroke-width="1.1" />
<polygon points="98.30,269.80 93.00,268.30 94.60,273.40" fill="#111" stroke="none" stroke-width="1" />
<text x="77.90" y="251.20" font-family="Liberation Sans" font-size="9.5" text-anchor="middle" fill="#000" font-weight="normal" font-style="italic" >Z</text>
<text x="54.80" y="266.60" font-family="Liberation Sans" font-size="9.5" text-anchor="middle" fill="#000" font-weight="normal" font-style="italic" >Y</text>
<text x="101.80" y="273.20" font-family="Liberation Sans" font-size="9.5" text-anchor="middle" fill="#000" font-weight="normal" font-style="italic" >X</text>
<polygon points="119.00,42.40 134.20,42.40 134.20,39.00 142.20,46.60 134.20,54.20 134.20,50.80 119.00,50.80" fill="#efefef" stroke="#666" stroke-width="0.7" />
<rect x="142.3" y="6.6" width="177.0" height="275.8" fill="none" stroke="#444" stroke-width="0.9" stroke-dasharray="4.2,2.4"/>
<polygon points="145.80,51.40 194.60,37.50 230.80,58.30 230.80,99.70 145.80,99.70" fill="#1d1f8a" stroke="none" stroke-width="1" /><polygon points="145.80,51.40 182.00,72.20 182.00,99.70 145.80,99.70" fill="#2b2fa4" stroke="none" stroke-width="1" /><polygon points="182.00,72.20 230.80,58.30 230.80,99.70 182.00,99.70" fill="#1d1f8a" stroke="none" stroke-width="1" /><polygon points="145.80,51.40 194.60,37.50 230.80,58.30 182.00,72.20" fill="#25279a" stroke="none" stroke-width="1" />
<polygon points="233.10,53.20 280.50,40.00 314.10,59.00 314.10,99.70 233.10,99.70" fill="#1d1f8a" stroke="none" stroke-width="1" /><polygon points="233.10,53.20 266.70,72.20 266.70,99.70 233.10,99.70" fill="#2b2fa4" stroke="none" stroke-width="1" /><polygon points="266.70,72.20 314.10,59.00 314.10,99.70 266.70,99.70" fill="#1d1f8a" stroke="none" stroke-width="1" /><polygon points="233.10,53.20 280.50,40.00 314.10,59.00 266.70,72.20" fill="#25279a" stroke="none" stroke-width="1" />
<clipPath id="cw1"><path d="M156.4,34.6 C156.2,32.5 157.5,30.6 160,29 C164,26.4 168.5,24.4 173.4,22.6 C177,21.2 181,20 185,19.1 C189,18 193,17.3 196.7,16.8 C201,16.2 205,16.0 208.4,16.2 C211,16.4 213.5,16.7 215.4,17.3 C217.5,18 219.2,19.2 218.9,20.8 C218,24.5 216.8,28 215.4,31.4 C213.6,35.5 211.2,39 209.6,43 C208.2,47 207.8,51 207.2,54.7 C206.6,57 205.8,58.6 204.9,59.4 C202.5,61.5 199.5,62.2 196.7,62.4 C192.8,62.6 189,62.3 185,61.7 C180.5,61.1 176.5,60.6 173.4,59.4 C171.5,58.3 170.3,56.6 169.3,54.7 C167.5,51.2 165.8,48.2 164,45.4 C162.5,43.3 160.8,41.4 159.3,39.5 C158,37.8 156.9,36.3 156.4,34.6 Z"/></clipPath>
<linearGradient id="w1side" gradientUnits="userSpaceOnUse" x1="188" y1="25.5" x2="197" y2="63"><stop offset="0" stop-color="#c81a0c"/><stop offset="0.07" stop-color="#f07a18"/><stop offset="0.15" stop-color="#f0d820"/><stop offset="0.24" stop-color="#a8e050"/><stop offset="0.34" stop-color="#3cd0e8"/><stop offset="0.5" stop-color="#2a8ae8"/><stop offset="0.7" stop-color="#2a4ad8"/><stop offset="1" stop-color="#2a34c0"/></linearGradient><linearGradient id="w1top" gradientUnits="userSpaceOnUse" x1="156" y1="0" x2="219" y2="0"><stop offset="0" stop-color="#8a0408"/><stop offset="0.12" stop-color="#d02010"/><stop offset="0.3" stop-color="#e86018"/><stop offset="0.45" stop-color="#c01008"/><stop offset="0.55" stop-color="#f0c020"/><stop offset="0.65" stop-color="#70e0b0"/><stop offset="0.8" stop-color="#40d0e0"/><stop offset="0.9" stop-color="#f0a020"/><stop offset="1" stop-color="#d02010"/></linearGradient>
<g clip-path="url(#cw1)"><path d="M156.4,34.6 C156.2,32.5 157.5,30.6 160,29 C164,26.4 168.5,24.4 173.4,22.6 C177,21.2 181,20 185,19.1 C189,18 193,17.3 196.7,16.8 C201,16.2 205,16.0 208.4,16.2 C211,16.4 213.5,16.7 215.4,17.3 C217.5,18 219.2,19.2 218.9,20.8 C218,24.5 216.8,28 215.4,31.4 C213.6,35.5 211.2,39 209.6,43 C208.2,47 207.8,51 207.2,54.7 C206.6,57 205.8,58.6 204.9,59.4 C202.5,61.5 199.5,62.2 196.7,62.4 C192.8,62.6 189,62.3 185,61.7 C180.5,61.1 176.5,60.6 173.4,59.4 C171.5,58.3 170.3,56.6 169.3,54.7 C167.5,51.2 165.8,48.2 164,45.4 C162.5,43.3 160.8,41.4 159.3,39.5 C158,37.8 156.9,36.3 156.4,34.6 Z" fill="url(#w1side)"/><path d="M179.5,27 C180,38 180.5,50 181,66" stroke="#2a46dc" stroke-width="8" fill="none" filter="url(#blur15a)"/><path d="M207,22 C207.5,34 207,48 206,62" stroke="#2a4ada" stroke-width="5.5" fill="none" filter="url(#blur15a)" opacity="0.95"/><path d="M195.5,22 C196,30 196.5,38 196,46" stroke="#d8e030" stroke-width="4" fill="none" filter="url(#blur15a)" opacity="0.8"/><path d="M214.5,20 C214,27 213,32 211.5,38" stroke="#40c8f0" stroke-width="4" fill="none" filter="url(#blur15a)" opacity="0.8"/><path d="M170,60 C180,64 195,64 206,60" stroke="#3a44e8" stroke-width="5" fill="none" filter="url(#blur15a)" opacity="0.9"/><path d="M156.4,34.6 C156.2,32.5 157.5,30.6 160,29 C164,26.4 168.5,24.4 173.4,22.6 C180,20.2 188,18 196.7,16.8 C204,16 211,16.2 215.4,17.3 C217.5,18 219.2,19.2 218.9,20.8 C212,21 204,21 199,21.3 C194,21.8 190,22.5 186,24.5 C180,27.5 175,29.5 170,31 C165,32.5 160,34 156.4,34.6 Z" fill="url(#w1top)" filter="url(#blur06)"/><ellipse cx="188.5" cy="21.5" rx="3" ry="3.5" fill="#a00808" filter="url(#blur1)" opacity="0.8"/><ellipse cx="160" cy="34" rx="3.5" ry="2.5" fill="#7a0408" filter="url(#blur06)"/></g>
<ellipse cx="184.5" cy="20.5" rx="14.8" ry="4.6" fill="none" stroke="#aaa" stroke-width="0.35"/>
<ellipse cx="184.5" cy="54.5" rx="13" ry="3.6" fill="none" stroke="#6060c0" stroke-width="0.3" opacity="0.6"/>
<clipPath id="cw2"><path d="M266.5,17.6 C268,16.6 269.5,16.2 271.3,15.9 C273.6,15.4 276,15.1 278.3,15.0 C281,15 284,15.8 286.2,16.8 C287,17.3 287.5,17.9 287.5,18.5 C287.7,22.5 287.8,26 287.9,29.9 C288.1,33 288.2,36 288.4,38.7 C288.7,41 289.1,43 289.7,44.8 C290.4,46.5 291.2,48.2 291.4,50 C291.6,52 291.3,53.8 290.5,55.3 C289.6,57.2 288.5,58.6 287,59.7 C285,61.1 282.6,61.9 280,62.3 C277,62.8 274,62.9 271.3,62.7 C268,62.4 265,61.8 262.5,60.6 C260.2,59.4 258.4,57.6 257.3,55.3 C256.5,53.4 256.2,51.3 256.4,49.2 C256.7,47 257.4,45 258.1,43 C258.8,40 259.2,37 259.9,34.3 C260.5,32.6 261.5,31.2 262.5,29.9 C263.6,27.9 264.5,25.8 265.1,23.8 C265.6,21.6 265.8,19.4 266.5,17.6 Z"/></clipPath>
<linearGradient id="w2side" gradientUnits="userSpaceOnUse" x1="0" y1="16" x2="0" y2="63"><stop offset="0" stop-color="#e03a10"/><stop offset="0.12" stop-color="#f08a18"/><stop offset="0.25" stop-color="#e8d828"/><stop offset="0.4" stop-color="#60d8d0"/><stop offset="0.6" stop-color="#2a90ee"/><stop offset="0.8" stop-color="#2a50e0"/><stop offset="1" stop-color="#2a34c0"/></linearGradient><radialGradient id="w2bulge" cx="0.5" cy="0.5" r="0.5"><stop offset="0" stop-color="#7a0006"/><stop offset="0.3" stop-color="#b80a0a"/><stop offset="0.5" stop-color="#e04010"/><stop offset="0.66" stop-color="#f0b820"/><stop offset="0.8" stop-color="#80e0a0" stop-opacity="0.8"/><stop offset="0.92" stop-color="#30a0f0" stop-opacity="0.4"/><stop offset="1" stop-color="#3070f0" stop-opacity="0"/></radialGradient>
<g clip-path="url(#cw2)"><path d="M266.5,17.6 C268,16.6 269.5,16.2 271.3,15.9 C273.6,15.4 276,15.1 278.3,15.0 C281,15 284,15.8 286.2,16.8 C287,17.3 287.5,17.9 287.5,18.5 C287.7,22.5 287.8,26 287.9,29.9 C288.1,33 288.2,36 288.4,38.7 C288.7,41 289.1,43 289.7,44.8 C290.4,46.5 291.2,48.2 291.4,50 C291.6,52 291.3,53.8 290.5,55.3 C289.6,57.2 288.5,58.6 287,59.7 C285,61.1 282.6,61.9 280,62.3 C277,62.8 274,62.9 271.3,62.7 C268,62.4 265,61.8 262.5,60.6 C260.2,59.4 258.4,57.6 257.3,55.3 C256.5,53.4 256.2,51.3 256.4,49.2 C256.7,47 257.4,45 258.1,43 C258.8,40 259.2,37 259.9,34.3 C260.5,32.6 261.5,31.2 262.5,29.9 C263.6,27.9 264.5,25.8 265.1,23.8 C265.6,21.6 265.8,19.4 266.5,17.6 Z" fill="url(#w2side)"/><path d="M262,40 C265,34 271,30 276,29 C279,31 278,36 274,40 Z" fill="#e85a14" filter="url(#blur15a)" opacity="0.8"/><ellipse cx="267" cy="45.2" rx="14.5" ry="12" transform="rotate(-20 267 45.2)" fill="url(#w2bulge)"/><path d="M267,19 C271,20 274,22 275.5,27 C277,22 280,20 285,19 C283,25 280,30 276,34 C272,31 269,26 267,19 Z" fill="#c01a0c" filter="url(#blur1)" opacity="0.75"/><path d="M262,22 C263,28 263,33 261,38" stroke="#f0a018" stroke-width="3" fill="none" filter="url(#blur1)" opacity="0.8"/><path d="M286,20 C287,30 289,42 290,56" stroke="#2a50e0" stroke-width="4" fill="none" filter="url(#blur1)" opacity="0.85"/><path d="M283,22 C283.5,30 284,36 285,44" stroke="#40c8e8" stroke-width="2.5" fill="none" filter="url(#blur1)" opacity="0.8"/><path d="M258,58 C266,63 280,63 290,57" stroke="#2a3cd0" stroke-width="4" fill="none" filter="url(#blur1)" opacity="0.9"/><ellipse cx="277" cy="16.8" rx="10" ry="2" fill="#e84a14" filter="url(#blur06)"/><ellipse cx="277.5" cy="17.2" rx="3.5" ry="1.6" fill="#8a0408" filter="url(#blur06)"/><ellipse cx="268" cy="18.5" rx="2" ry="2.5" fill="#40c8e8" filter="url(#blur06)"/><ellipse cx="284.5" cy="18" rx="2" ry="1.5" fill="#f0e040" filter="url(#blur06)"/><ellipse cx="269.6" cy="37.6" rx="0.9" ry="2.2" transform="rotate(25 269.6 37.6)" fill="#2a60e0"/></g>
<ellipse cx="273.5" cy="26.8" rx="18.8" ry="7.4" fill="none" stroke="#aaa" stroke-width="0.35"/>
<ellipse cx="276.5" cy="26.8" rx="12.5" ry="6.6" fill="none" stroke="#bbb" stroke-width="0.3"/>
<text x="184.50" y="92.80" font-family="Liberation Sans" font-size="9.6" text-anchor="middle" fill="#ee1530" font-weight="normal" >WGM1</text>
<text x="270.30" y="92.80" font-family="Liberation Sans" font-size="9.6" text-anchor="middle" fill="#ee1530" font-weight="normal" >WGM2</text>
<rect x="195.1" y="103.5" width="70.6" height="7.3" fill="url(#jetH)"/>
<text x="175.50" y="110.60" font-family="Liberation Sans" font-size="9.0" text-anchor="start" fill="#000" font-weight="normal" >Min</text>
<text x="228.70" y="110.60" font-family="Liberation Sans" font-size="9.0" text-anchor="middle" fill="#000" font-weight="normal" >Disp</text>
<text x="267.70" y="110.60" font-family="Liberation Sans" font-size="9.0" text-anchor="start" fill="#000" font-weight="normal" >Max</text>
<rect x="152.4" y="123.4" width="160.4" height="156.9" fill="#fff" stroke="#111" stroke-width="1"/>
<ellipse cx="228.8" cy="205.6" rx="29.7" ry="59.5" fill="none" stroke="#222" stroke-width="0.7" stroke-dasharray="2,1.4"/>
<ellipse cx="228.8" cy="205.6" rx="57" ry="35" transform="rotate(-30 228.8 205.6)" fill="none" stroke="#f08a2e" stroke-width="0.6" stroke-dasharray="1.4,1.2"/>
<path d="M229.50,137.30 L229.50,139.80 L226.10,141.65 L232.90,145.34 L226.10,149.03 L232.90,152.73 L226.10,156.42 L232.90,160.11 L226.10,163.80 L232.90,167.50 L226.10,171.19 L232.90,174.88 L226.10,178.57 L232.90,182.27 L226.10,185.96 L232.90,189.65 L229.50,191.50 L229.50,194.00" fill="none" stroke="#2a86d6" stroke-width="2.3" stroke-linejoin="miter"/><path d="M229.50,137.30 L229.50,139.80 L226.10,141.65 L232.90,145.34 L226.10,149.03 L232.90,152.73 L226.10,156.42 L232.90,160.11 L226.10,163.80 L232.90,167.50 L226.10,171.19 L232.90,174.88 L226.10,178.57 L232.90,182.27 L226.10,185.96 L232.90,189.65 L229.50,191.50 L229.50,194.00" fill="none" stroke="#fff" stroke-width="0.8" stroke-linejoin="miter"/>
<path d="M229.50,217.30 L229.50,219.80 L226.10,221.73 L232.90,225.60 L226.10,229.46 L232.90,233.32 L226.10,237.19 L232.90,241.05 L226.10,244.92 L232.90,248.78 L226.10,252.65 L232.90,256.51 L226.10,260.38 L232.90,264.24 L226.10,268.10 L232.90,271.97 L229.50,273.90 L229.50,276.40" fill="none" stroke="#2a86d6" stroke-width="2.3" stroke-linejoin="miter"/><path d="M229.50,217.30 L229.50,219.80 L226.10,221.73 L232.90,225.60 L226.10,229.46 L232.90,233.32 L226.10,237.19 L232.90,241.05 L226.10,244.92 L232.90,248.78 L226.10,252.65 L232.90,256.51 L226.10,260.38 L232.90,264.24 L226.10,268.10 L232.90,271.97 L229.50,273.90 L229.50,276.40" fill="none" stroke="#fff" stroke-width="0.8" stroke-linejoin="miter"/>
<line x1="216.60" y1="137.20" x2="241.60" y2="137.20" stroke="#2a86d6" stroke-width="1.2" /><line x1="219.60" y1="137.20" x2="222.94" y2="133.22" stroke="#2a86d6" stroke-width="1.0" /><line x1="224.60" y1="137.20" x2="227.94" y2="133.22" stroke="#2a86d6" stroke-width="1.0" /><line x1="229.60" y1="137.20" x2="232.94" y2="133.22" stroke="#2a86d6" stroke-width="1.0" /><line x1="234.60" y1="137.20" x2="237.94" y2="133.22" stroke="#2a86d6" stroke-width="1.0" /><line x1="239.60" y1="137.20" x2="242.94" y2="133.22" stroke="#2a86d6" stroke-width="1.0" />
<line x1="217.00" y1="276.40" x2="241.40" y2="276.40" stroke="#2a86d6" stroke-width="1.2" /><line x1="219.93" y1="276.40" x2="216.97" y2="279.92" stroke="#2a86d6" stroke-width="1.0" /><line x1="224.81" y1="276.40" x2="221.85" y2="279.92" stroke="#2a86d6" stroke-width="1.0" /><line x1="229.69" y1="276.40" x2="226.73" y2="279.92" stroke="#2a86d6" stroke-width="1.0" /><line x1="234.57" y1="276.40" x2="231.61" y2="279.92" stroke="#2a86d6" stroke-width="1.0" /><line x1="239.45" y1="276.40" x2="236.49" y2="279.92" stroke="#2a86d6" stroke-width="1.0" />
<path d="M194.90,144.40 L223.12,195.60" fill="none" stroke="#2a86d6" stroke-width="2.4" stroke-linejoin="miter"/><path d="M194.90,144.40 L223.12,195.60" fill="none" stroke="#fff" stroke-width="0.8" stroke-linejoin="miter"/>
<path d="M234.48,215.60 L264.00,266.00" fill="none" stroke="#2a86d6" stroke-width="2.4" stroke-linejoin="miter"/><path d="M234.48,215.60 L264.00,266.00" fill="none" stroke="#fff" stroke-width="0.8" stroke-linejoin="miter"/>
<path d="M214.76,172.30 L210.59,164.95 L203.36,169.06 L207.53,176.41" fill="none" stroke="#2a86d6" stroke-width="1.9"/><path d="M214.76,172.30 L210.59,164.95 L203.36,169.06 L207.53,176.41" fill="none" stroke="#fff" stroke-width="0.6"/><path d="M210.84,168.55 L206.32,171.12" fill="none" stroke="#2a86d6" stroke-width="1.8"/><path d="M210.84,168.55 L206.32,171.12" fill="none" stroke="#fff" stroke-width="0.5"/>
<path d="M243.74,237.70 L247.91,245.05 L255.14,240.94 L250.97,233.59" fill="none" stroke="#2a86d6" stroke-width="1.9"/><path d="M243.74,237.70 L247.91,245.05 L255.14,240.94 L250.97,233.59" fill="none" stroke="#fff" stroke-width="0.6"/><path d="M247.66,241.45 L252.18,238.88" fill="none" stroke="#2a86d6" stroke-width="1.8"/><path d="M247.66,241.45 L252.18,238.88" fill="none" stroke="#fff" stroke-width="0.5"/>
<line x1="204.46" y1="138.97" x2="185.34" y2="149.83" stroke="#2a86d6" stroke-width="1.2" /><line x1="202.17" y1="140.27" x2="203.55" y2="135.26" stroke="#2a86d6" stroke-width="1.0" /><line x1="198.34" y1="142.44" x2="199.72" y2="137.43" stroke="#2a86d6" stroke-width="1.0" /><line x1="194.52" y1="144.62" x2="195.90" y2="139.60" stroke="#2a86d6" stroke-width="1.0" /><line x1="190.69" y1="146.79" x2="192.07" y2="141.78" stroke="#2a86d6" stroke-width="1.0" /><line x1="186.87" y1="148.97" x2="188.25" y2="143.95" stroke="#2a86d6" stroke-width="1.0" />
<line x1="273.56" y1="260.57" x2="254.44" y2="271.43" stroke="#2a86d6" stroke-width="1.2" /><line x1="271.27" y1="261.87" x2="270.78" y2="267.05" stroke="#2a86d6" stroke-width="1.0" /><line x1="267.44" y1="264.04" x2="266.95" y2="269.22" stroke="#2a86d6" stroke-width="1.0" /><line x1="263.62" y1="266.22" x2="263.13" y2="271.39" stroke="#2a86d6" stroke-width="1.0" /><line x1="259.79" y1="268.39" x2="259.30" y2="273.57" stroke="#2a86d6" stroke-width="1.0" /><line x1="255.97" y1="270.57" x2="255.48" y2="275.74" stroke="#2a86d6" stroke-width="1.0" />
<path d="M163.20,224.60 L217.66,208.47" fill="none" stroke="#f08a2e" stroke-width="2.4" stroke-linejoin="miter"/><path d="M163.20,224.60 L217.66,208.47" fill="none" stroke="#fff" stroke-width="0.8" stroke-linejoin="miter"/>
<path d="M239.94,202.73 L296.60,190.20" fill="none" stroke="#f08a2e" stroke-width="2.4" stroke-linejoin="miter"/><path d="M239.94,202.73 L296.60,190.20" fill="none" stroke="#fff" stroke-width="0.8" stroke-linejoin="miter"/>
<path d="M270.57,192.64 L262.38,194.75 L264.46,202.80 L272.64,200.69" fill="none" stroke="#f08a2e" stroke-width="1.9"/><path d="M270.57,192.64 L262.38,194.75 L264.46,202.80 L272.64,200.69" fill="none" stroke="#fff" stroke-width="0.6"/><path d="M265.92,195.44 L267.22,200.48" fill="none" stroke="#f08a2e" stroke-width="1.8"/><path d="M265.92,195.44 L267.22,200.48" fill="none" stroke="#fff" stroke-width="0.5"/>
<path d="M186.63,222.76 L194.82,220.65 L192.74,212.60 L184.56,214.71" fill="none" stroke="#f08a2e" stroke-width="1.9"/><path d="M186.63,222.76 L194.82,220.65 L192.74,212.60 L184.56,214.71" fill="none" stroke="#fff" stroke-width="0.6"/><path d="M191.28,219.96 L189.98,214.92" fill="none" stroke="#f08a2e" stroke-width="1.8"/><path d="M191.28,219.96 L189.98,214.92" fill="none" stroke="#fff" stroke-width="0.5"/>
<line x1="293.60" y1="178.58" x2="299.60" y2="201.82" stroke="#f08a2e" stroke-width="1.2" /><line x1="294.32" y1="181.37" x2="290.94" y2="185.32" stroke="#f08a2e" stroke-width="1.0" /><line x1="295.52" y1="186.02" x2="292.14" y2="189.97" stroke="#f08a2e" stroke-width="1.0" /><line x1="296.72" y1="190.66" x2="293.34" y2="194.62" stroke="#f08a2e" stroke-width="1.0" /><line x1="297.92" y1="195.31" x2="294.54" y2="199.26" stroke="#f08a2e" stroke-width="1.0" /><line x1="299.12" y1="199.96" x2="295.74" y2="203.91" stroke="#f08a2e" stroke-width="1.0" />
<line x1="160.20" y1="212.98" x2="166.20" y2="236.22" stroke="#f08a2e" stroke-width="1.2" /><line x1="160.92" y1="215.77" x2="165.79" y2="217.59" stroke="#f08a2e" stroke-width="1.0" /><line x1="162.12" y1="220.42" x2="166.99" y2="222.24" stroke="#f08a2e" stroke-width="1.0" /><line x1="163.32" y1="225.06" x2="168.19" y2="226.89" stroke="#f08a2e" stroke-width="1.0" /><line x1="164.52" y1="229.71" x2="169.39" y2="231.54" stroke="#f08a2e" stroke-width="1.0" /><line x1="165.72" y1="234.36" x2="170.59" y2="236.19" stroke="#f08a2e" stroke-width="1.0" />
<path d="M238.50,197.20 L240.46,195.65 L244.11,196.85 L243.46,189.20 L250.75,191.60 L250.11,183.95 L257.40,186.35 L256.75,178.70 L264.05,181.10 L263.40,173.45 L270.69,175.85 L270.05,168.20 L277.34,170.60 L276.69,162.95 L280.34,164.15 L282.30,162.60" fill="none" stroke="#f08a2e" stroke-width="2.3" stroke-linejoin="miter"/><path d="M238.50,197.20 L240.46,195.65 L244.11,196.85 L243.46,189.20 L250.75,191.60 L250.11,183.95 L257.40,186.35 L256.75,178.70 L264.05,181.10 L263.40,173.45 L270.69,175.85 L270.05,168.20 L277.34,170.60 L276.69,162.95 L280.34,164.15 L282.30,162.60" fill="none" stroke="#fff" stroke-width="0.8" stroke-linejoin="miter"/>
<path d="M219.30,214.00 L217.40,215.62 L213.74,214.54 L214.74,222.10 L207.43,219.93 L208.42,227.49 L201.11,225.32 L202.11,232.89 L194.79,230.71 L195.79,238.28 L188.48,236.11 L189.47,243.67 L182.16,241.50 L183.16,249.06 L179.50,247.98 L177.60,249.60" fill="none" stroke="#f08a2e" stroke-width="2.3" stroke-linejoin="miter"/><path d="M219.30,214.00 L217.40,215.62 L213.74,214.54 L214.74,222.10 L207.43,219.93 L208.42,227.49 L201.11,225.32 L202.11,232.89 L194.79,230.71 L195.79,238.28 L188.48,236.11 L189.47,243.67 L182.16,241.50 L183.16,249.06 L179.50,247.98 L177.60,249.60" fill="none" stroke="#fff" stroke-width="0.8" stroke-linejoin="miter"/>
<line x1="275.48" y1="153.97" x2="289.12" y2="171.23" stroke="#f08a2e" stroke-width="1.2" /><line x1="277.12" y1="156.04" x2="282.31" y2="155.74" stroke="#f08a2e" stroke-width="1.0" /><line x1="279.85" y1="159.49" x2="285.04" y2="159.19" stroke="#f08a2e" stroke-width="1.0" /><line x1="282.57" y1="162.95" x2="287.76" y2="162.65" stroke="#f08a2e" stroke-width="1.0" /><line x1="285.30" y1="166.40" x2="290.49" y2="166.10" stroke="#f08a2e" stroke-width="1.0" /><line x1="288.03" y1="169.85" x2="293.22" y2="169.55" stroke="#f08a2e" stroke-width="1.0" />
<line x1="170.78" y1="240.97" x2="184.42" y2="258.23" stroke="#f08a2e" stroke-width="1.2" /><line x1="172.42" y1="243.04" x2="170.92" y2="248.02" stroke="#f08a2e" stroke-width="1.0" /><line x1="175.15" y1="246.49" x2="173.65" y2="251.47" stroke="#f08a2e" stroke-width="1.0" /><line x1="177.87" y1="249.95" x2="176.38" y2="254.93" stroke="#f08a2e" stroke-width="1.0" /><line x1="180.60" y1="253.40" x2="179.11" y2="258.38" stroke="#f08a2e" stroke-width="1.0" /><line x1="183.33" y1="256.85" x2="181.83" y2="261.83" stroke="#f08a2e" stroke-width="1.0" />
<circle cx="228.8" cy="205.6" r="11.8" fill="#ababab" stroke="#444" stroke-width="0.7"/>
<text x="228.80" y="209.00" font-family="Liberation Sans" font-size="9.4" text-anchor="middle" fill="#000" font-weight="normal" >M</text>
<text x="185.80" y="141.60" font-family="Liberation Sans" font-size="9.4" text-anchor="middle" fill="#000" font-weight="normal" transform="rotate(-29 185.80 141.60)" >Damping</text>
<text x="229.00" y="131.00" font-family="Liberation Sans" font-size="9.4" text-anchor="middle" fill="#000" font-weight="normal" >Stiffness</text>
<text x="205.00" y="153.00" font-family="Liberation Sans" font-size="10.4" text-anchor="start" fill="#2a86d6" font-weight="normal" >C<tspan font-size="7" dy="2.3">11</tspan></text>
<text x="239.00" y="152.00" font-family="Liberation Sans" font-size="10.4" text-anchor="start" fill="#2a86d6" font-weight="normal" >k<tspan font-size="7" dy="2.3">11</tspan></text>
<text x="270.50" y="157.50" font-family="Liberation Sans" font-size="10.0" text-anchor="middle" fill="#f08a2e" font-weight="normal" transform="rotate(62 270.50 157.50)" >k<tspan font-size="7" dy="2.3">22</tspan></text>
<text x="286.00" y="207.50" font-family="Liberation Sans" font-size="10.4" text-anchor="middle" fill="#f08a2e" font-weight="normal" transform="rotate(62 286.00 207.50)" >C<tspan font-size="7" dy="2.3">22</tspan></text>
<path d="M186.47,161.82 A11.65,11.65 0 1 1 170.64,163.20" fill="none" stroke="#2a2a2a" stroke-width="3.4"/>
<path d="M186.47,161.82 A11.65,11.65 0 1 1 170.64,163.20" fill="none" stroke="#fff" stroke-width="1.8"/>
<polygon points="173.47,160.91 167.79,161.00 170.92,162.91 173.22,165.72" fill="#fff" stroke="#2a2a2a" stroke-width="0.8" />
<text x="179.90" y="174.60" font-family="Liberation Serif" font-size="9.5" text-anchor="middle" fill="#000" font-weight="normal" >Ω</text>
<text x="352.60" y="11.00" font-family="Liberation Sans" font-size="15" text-anchor="start" fill="#000" font-weight="bold" >b</text>
<polygon points="388.50,12.60 676.60,12.60 676.60,15.00 433.72,275.20 388.50,275.20" fill="#f1f1f1" stroke="none" stroke-width="1" />
<line x1="676.60" y1="15.00" x2="433.72" y2="275.20" stroke="#9a9a9a" stroke-width="0.7" />
<polygon points="629.27,65.70 676.60,65.70 676.60,75.90 619.75,75.90" fill="#92cbd8" stroke="none" stroke-width="1" />
<polygon points="536.58,165.00 676.60,165.00 676.60,173.90 528.28,173.90" fill="#92cbd8" stroke="none" stroke-width="1" />
<text x="645.80" y="74.40" font-family="Liberation Sans" font-size="10.2" text-anchor="middle" fill="#e8202a" font-weight="normal" >BG</text>
<text x="645.60" y="173.00" font-family="Liberation Sans" font-size="10.2" text-anchor="middle" fill="#e8202a" font-weight="normal" >BG</text>
<text x="622.60" y="54.20" font-family="Liberation Sans" font-size="11.0" text-anchor="middle" fill="#000" font-weight="normal" transform="rotate(-45 622.60 54.20)" >Sound cone</text>
<path d="M553.60,181.03 L554.97,180.76 L556.33,180.50 L557.70,180.25 L559.07,180.02 L560.43,179.79 L561.80,179.58 L563.17,179.38 L564.53,179.18 L565.90,179.00 L567.27,178.82 L568.63,178.65 L570.00,178.49 L571.37,178.34 L572.73,178.20 L574.10,178.06 L575.47,177.93 L576.83,177.80 L578.20,177.68 L579.57,177.57 L580.93,177.46 L582.30,177.36 L583.67,177.26 L585.03,177.17 L586.40,177.08 L587.77,176.99 L589.13,176.91 L590.50,176.84 L591.87,176.76 L593.23,176.69 L594.60,176.63 L595.97,176.56 L597.33,176.50 L598.70,176.45 L600.07,176.39 L601.43,176.34 L602.80,176.29 L604.17,176.24 L605.53,176.20 L606.90,176.15 L608.27,176.11 L609.63,176.08 L611.00,176.04 L612.37,176.00 L613.73,175.97 L615.10,175.94 L616.47,175.91 L617.83,175.88 L619.20,175.85 L620.57,175.82 L621.93,175.80 L623.30,175.78 L624.67,175.75 L626.03,175.73 L627.40,175.71 L628.77,175.69 L630.13,175.67 L631.50,175.66 L632.87,175.64 L634.23,175.62 L635.60,175.61 L636.97,175.59 L638.33,175.58 L639.70,175.56 L641.07,175.55 L642.43,175.54 L643.80,175.53 L645.17,175.52 L646.53,175.51 L647.90,175.50 L649.27,175.49 L650.63,175.48 L652.00,175.47 L653.37,175.46 L654.73,175.45 L656.10,175.45 L657.47,175.44 L658.83,175.43 L660.20,175.43 L661.57,175.42 L662.93,175.42 L664.30,175.41 L665.67,175.40 L667.03,175.40 L668.40,175.40 L669.77,175.39 L671.13,175.39 L672.50,175.38 L673.87,175.38 L675.23,175.37 L676.60,175.37" fill="none" stroke="#1f77c4" stroke-width="2.0" stroke-linecap="round" stroke-dasharray="0,2.8"/>
<path d="M553.60,194.54 L554.97,194.16 L556.33,193.80 L557.70,193.45 L559.07,193.11 L560.43,192.79 L561.80,192.48 L563.17,192.18 L564.53,191.89 L565.90,191.61 L567.27,191.35 L568.63,191.10 L570.00,190.85 L571.37,190.62 L572.73,190.39 L574.10,190.18 L575.47,189.97 L576.83,189.77 L578.20,189.58 L579.57,189.39 L580.93,189.22 L582.30,189.05 L583.67,188.88 L585.03,188.73 L586.40,188.57 L587.77,188.43 L589.13,188.29 L590.50,188.16 L591.87,188.03 L593.23,187.91 L594.60,187.79 L595.97,187.67 L597.33,187.56 L598.70,187.46 L600.07,187.36 L601.43,187.26 L602.80,187.17 L604.17,187.08 L605.53,186.99 L606.90,186.91 L608.27,186.83 L609.63,186.76 L611.00,186.68 L612.37,186.61 L613.73,186.54 L615.10,186.48 L616.47,186.42 L617.83,186.36 L619.20,186.30 L620.57,186.25 L621.93,186.19 L623.30,186.14 L624.67,186.09 L626.03,186.05 L627.40,186.00 L628.77,185.96 L630.13,185.92 L631.50,185.88 L632.87,185.84 L634.23,185.80 L635.60,185.76 L636.97,185.73 L638.33,185.70 L639.70,185.67 L641.07,185.64 L642.43,185.61 L643.80,185.58 L645.17,185.55 L646.53,185.53 L647.90,185.50 L649.27,185.48 L650.63,185.46 L652.00,185.43 L653.37,185.41 L654.73,185.39 L656.10,185.37 L657.47,185.35 L658.83,185.34 L660.20,185.32 L661.57,185.30 L662.93,185.29 L664.30,185.27 L665.67,185.26 L667.03,185.24 L668.40,185.23 L669.77,185.22 L671.13,185.20 L672.50,185.19 L673.87,185.18 L675.23,185.17 L676.60,185.16" fill="none" stroke="#1f77c4" stroke-width="2.0" stroke-linecap="round" stroke-dasharray="0,2.8"/>
<path d="M512.60,199.50 L513.97,198.32 L515.33,197.19 L516.70,196.12 L518.07,195.10 L519.43,194.13 L520.80,193.20 L522.17,192.32 L523.53,191.48 L524.90,190.68 L526.27,189.92 L527.63,189.20 L529.00,188.51 L530.37,187.85 L531.73,187.22 L533.10,186.63 L534.47,186.06 L535.83,185.52 L537.20,185.00 L538.57,184.51 L539.93,184.04 L541.30,183.60 L542.67,183.17 L544.03,182.77 L545.40,182.39 L546.77,182.02 L548.13,181.67 L549.50,181.34 L550.87,181.02 L552.23,180.72 L553.60,180.43 L554.97,180.16 L556.33,179.90 L557.70,179.65 L559.07,179.42 L560.43,179.19 L561.80,178.98 L563.17,178.78 L564.53,178.58 L565.90,178.40 L567.27,178.22 L568.63,178.05 L570.00,177.89 L571.37,177.74 L572.73,177.60 L574.10,177.46 L575.47,177.33 L576.83,177.20 L578.20,177.08 L579.57,176.97 L580.93,176.86 L582.30,176.76 L583.67,176.66 L585.03,176.57 L586.40,176.48 L587.77,176.39 L589.13,176.31 L590.50,176.24 L591.87,176.16 L593.23,176.09 L594.60,176.03 L595.97,175.96 L597.33,175.90 L598.70,175.85 L600.07,175.79 L601.43,175.74 L602.80,175.69 L604.17,175.64 L605.53,175.60 L606.90,175.55 L608.27,175.51 L609.63,175.48 L611.00,175.44 L612.37,175.40 L613.73,175.37 L615.10,175.34 L616.47,175.31 L617.83,175.28 L619.20,175.25 L620.57,175.22 L621.93,175.20 L623.30,175.18 L624.67,175.15 L626.03,175.13 L627.40,175.11 L628.77,175.09 L630.13,175.07 L631.50,175.06 L632.87,175.04 L634.23,175.02 L635.60,175.01 L636.97,174.99 L638.33,174.98 L639.70,174.96 L641.07,174.95 L642.43,174.94 L643.80,174.93 L645.17,174.92 L646.53,174.91 L647.90,174.90 L649.27,174.89 L650.63,174.88 L652.00,174.87 L653.37,174.86 L654.73,174.85 L656.10,174.85 L657.47,174.84 L658.83,174.83 L660.20,174.83 L661.57,174.82 L662.93,174.82 L664.30,174.81 L665.67,174.80 L667.03,174.80 L668.40,174.80 L669.77,174.79 L671.13,174.79 L672.50,174.78 L673.87,174.78 L675.23,174.77 L676.60,174.77" fill="none" stroke="#d9541c" stroke-width="2.1" stroke-linecap="round" stroke-dasharray="0,2.8"/>
<path d="M512.60,216.50 L513.97,215.23 L515.33,214.01 L516.70,212.84 L518.07,211.72 L519.43,210.64 L520.80,209.60 L522.17,208.60 L523.53,207.65 L524.90,206.73 L526.27,205.84 L527.63,204.99 L529.00,204.18 L530.37,203.39 L531.73,202.64 L533.10,201.92 L534.47,201.23 L535.83,200.56 L537.20,199.92 L538.57,199.30 L539.93,198.71 L541.30,198.14 L542.67,197.60 L544.03,197.07 L545.40,196.57 L546.77,196.09 L548.13,195.62 L549.50,195.18 L550.87,194.75 L552.23,194.34 L553.60,193.94 L554.97,193.56 L556.33,193.20 L557.70,192.85 L559.07,192.51 L560.43,192.19 L561.80,191.88 L563.17,191.58 L564.53,191.29 L565.90,191.01 L567.27,190.75 L568.63,190.50 L570.00,190.25 L571.37,190.02 L572.73,189.79 L574.10,189.58 L575.47,189.37 L576.83,189.17 L578.20,188.98 L579.57,188.79 L580.93,188.62 L582.30,188.45 L583.67,188.28 L585.03,188.13 L586.40,187.97 L587.77,187.83 L589.13,187.69 L590.50,187.56 L591.87,187.43 L593.23,187.31 L594.60,187.19 L595.97,187.07 L597.33,186.96 L598.70,186.86 L600.07,186.76 L601.43,186.66 L602.80,186.57 L604.17,186.48 L605.53,186.39 L606.90,186.31 L608.27,186.23 L609.63,186.16 L611.00,186.08 L612.37,186.01 L613.73,185.94 L615.10,185.88 L616.47,185.82 L617.83,185.76 L619.20,185.70 L620.57,185.65 L621.93,185.59 L623.30,185.54 L624.67,185.49 L626.03,185.45 L627.40,185.40 L628.77,185.36 L630.13,185.32 L631.50,185.28 L632.87,185.24 L634.23,185.20 L635.60,185.16 L636.97,185.13 L638.33,185.10 L639.70,185.07 L641.07,185.04 L642.43,185.01 L643.80,184.98 L645.17,184.95 L646.53,184.93 L647.90,184.90 L649.27,184.88 L650.63,184.86 L652.00,184.83 L653.37,184.81 L654.73,184.79 L656.10,184.77 L657.47,184.75 L658.83,184.74 L660.20,184.72 L661.57,184.70 L662.93,184.69 L664.30,184.67 L665.67,184.66 L667.03,184.64 L668.40,184.63 L669.77,184.62 L671.13,184.60 L672.50,184.59 L673.87,184.58 L675.23,184.57 L676.60,184.56" fill="none" stroke="#d9541c" stroke-width="2.1" stroke-linecap="round" stroke-dasharray="0,2.8"/>
<path d="M631.50,65.52 L632.14,64.83 L632.79,64.14 L633.43,63.44 L634.08,62.75 L634.72,62.06 L635.37,61.37 L636.01,60.68 L636.65,59.99 L637.30,59.30 L637.94,58.61 L638.59,57.92 L639.23,57.23 L639.88,56.54 L640.52,55.85 L641.16,55.16 L641.81,54.47 L642.45,53.78 L643.10,53.09 L643.74,52.40 L644.39,51.71 L645.03,51.02 L645.67,50.33 L646.32,49.64 L646.96,48.95 L647.61,48.26 L648.25,47.57 L648.90,46.88 L649.54,46.19 L650.18,45.50 L650.83,44.81 L651.47,44.12 L652.12,43.43 L652.76,42.74 L653.41,42.05 L654.05,41.37 L654.69,40.68 L655.34,39.99 L655.98,39.31 L656.63,38.62 L657.27,37.94 L657.92,37.26 L658.56,36.59 L659.20,35.92 L659.85,35.25 L660.49,34.59 L661.14,33.95 L661.78,33.31 L662.43,32.69 L663.07,32.09 L663.71,31.52 L664.36,30.97 L665.00,30.46 L665.65,29.98 L666.29,29.55 L666.94,29.16 L667.58,28.82 L668.22,28.53 L668.87,28.29 L669.51,28.08 L670.16,27.91 L670.80,27.78 L671.45,27.67 L672.09,27.59 L672.73,27.52 L673.38,27.47 L674.02,27.43 L674.67,27.40 L675.31,27.38 L675.96,27.36 L676.60,27.34" fill="none" stroke="#d9541c" stroke-width="2.1" stroke-linecap="round" stroke-dasharray="0,2.8"/>
<path d="M650.00,45.90 L650.68,45.17 L651.36,44.44 L652.05,43.70 L652.73,42.97 L653.41,42.24 L654.09,41.51 L654.77,40.78 L655.46,40.05 L656.14,39.32 L656.82,38.59 L657.50,37.86 L658.18,37.13 L658.87,36.40 L659.55,35.67 L660.23,34.95 L660.91,34.22 L661.59,33.50 L662.28,32.77 L662.96,32.06 L663.64,31.34 L664.32,30.64 L665.01,29.94 L665.69,29.27 L666.37,28.61 L667.05,27.98 L667.73,27.38 L668.42,26.83 L669.10,26.33 L669.78,25.90 L670.46,25.53 L671.14,25.23 L671.83,24.99 L672.51,24.80 L673.19,24.66 L673.87,24.56 L674.55,24.48 L675.24,24.43 L675.92,24.39 L676.60,24.36" fill="none" stroke="#d9541c" stroke-width="2.1" stroke-linecap="round" stroke-dasharray="0,2.8"/>
<path d="M538.00,165.78 L538.99,164.72 L539.98,163.66 L540.97,162.60 L541.96,161.54 L542.95,160.48 L543.94,159.42 L544.93,158.36 L545.92,157.30 L546.91,156.24 L547.90,155.18 L548.89,154.12 L549.88,153.06 L550.87,151.99 L551.86,150.93 L552.85,149.87 L553.84,148.81 L554.83,147.75 L555.82,146.69 L556.81,145.63 L557.80,144.57 L558.79,143.51 L559.78,142.45 L560.77,141.39 L561.76,140.33 L562.75,139.27 L563.74,138.21 L564.73,137.15 L565.72,136.09 L566.71,135.03 L567.70,133.96 L568.69,132.90 L569.68,131.84 L570.67,130.78 L571.66,129.72 L572.65,128.66 L573.64,127.60 L574.63,126.54 L575.62,125.48 L576.61,124.42 L577.60,123.36 L578.59,122.30 L579.58,121.24 L580.57,120.18 L581.56,119.12 L582.55,118.06 L583.54,117.00 L584.53,115.94 L585.52,114.87 L586.51,113.81 L587.50,112.75 L588.49,111.69 L589.48,110.63 L590.47,109.57 L591.46,108.51 L592.45,107.45 L593.44,106.40 L594.43,105.34 L595.42,104.28 L596.41,103.22 L597.40,102.16 L598.39,101.11 L599.38,100.05 L600.37,99.00 L601.36,97.94 L602.35,96.89 L603.34,95.85 L604.33,94.80 L605.32,93.76 L606.31,92.73 L607.30,91.70 L608.29,90.68 L609.28,89.67 L610.27,88.68 L611.26,87.70 L612.25,86.74 L613.24,85.80 L614.23,84.89 L615.22,84.02 L616.21,83.18 L617.20,82.39 L618.19,81.65 L619.18,80.96 L620.17,80.33 L621.16,79.77 L622.15,79.26 L623.14,78.82 L624.13,78.43 L625.12,78.11 L626.11,77.83 L627.10,77.60 L628.09,77.41 L629.08,77.25 L630.07,77.12 L631.06,77.02 L632.05,76.93 L633.04,76.86 L634.03,76.81 L635.02,76.77 L636.01,76.73 L637.00,76.70 L637.99,76.68 L638.98,76.67 L639.97,76.65 L640.96,76.64 L641.95,76.63 L642.94,76.63 L643.93,76.62 L644.92,76.62 L645.91,76.61 L646.90,76.61 L647.89,76.61 L648.88,76.61 L649.87,76.60 L650.86,76.60 L651.85,76.60 L652.84,76.60 L653.83,76.60 L654.82,76.60 L655.81,76.60 L656.80,76.60 L657.79,76.60 L658.78,76.60 L659.77,76.60 L660.76,76.60 L661.75,76.60 L662.74,76.60 L663.73,76.60 L664.72,76.60 L665.71,76.60 L666.70,76.60 L667.69,76.60 L668.68,76.60 L669.67,76.60 L670.66,76.60 L671.65,76.60 L672.64,76.60 L673.63,76.60 L674.62,76.60 L675.61,76.60 L676.60,76.60" fill="none" stroke="#d9541c" stroke-width="2.1" stroke-linecap="round" stroke-dasharray="0,2.8"/>
<path d="M538.00,165.50 L539.07,164.70 L540.42,163.68 L542.00,162.49 L543.78,161.15 L545.71,159.69 L547.75,158.16 L549.86,156.57 L552.00,154.96 L554.12,153.37 L556.19,151.83 L558.17,150.36 L560.00,149.00 L561.74,147.72 L563.45,146.47 L565.14,145.24 L566.81,144.03 L568.48,142.83 L570.12,141.64 L571.77,140.45 L573.41,139.27 L575.05,138.09 L576.69,136.91 L578.34,135.71 L580.00,134.50 L581.68,133.28 L583.37,132.05 L585.07,130.81 L586.78,129.56 L588.49,128.32 L590.19,127.07 L591.88,125.84 L593.56,124.60 L595.21,123.38 L596.84,122.17 L598.44,120.98 L600.00,119.80 L601.52,118.64 L603.02,117.48 L604.48,116.34 L605.93,115.20 L607.35,114.08 L608.75,112.96 L610.14,111.86 L611.52,110.76 L612.89,109.68 L614.26,108.61 L615.63,107.55 L617.00,106.50 L618.37,105.46 L619.74,104.44 L621.09,103.42 L622.44,102.41 L623.79,101.42 L625.12,100.43 L626.45,99.46 L627.78,98.50 L629.09,97.55 L630.40,96.62 L631.70,95.70 L633.00,94.80 L634.29,93.91 L635.57,93.02 L636.84,92.14 L638.11,91.27 L639.37,90.41 L640.62,89.57 L641.87,88.75 L643.11,87.94 L644.34,87.17 L645.57,86.41 L646.79,85.69 L648.00,85.00 L649.20,84.33 L650.38,83.68 L651.56,83.05 L652.72,82.44 L653.87,81.86 L655.02,81.30 L656.17,80.77 L657.33,80.27 L658.48,79.80 L659.64,79.36 L660.82,78.96 L662.00,78.60 L663.24,78.28 L664.57,78.01 L665.95,77.78 L667.36,77.59 L668.78,77.43 L670.17,77.30 L671.52,77.19 L672.79,77.10 L673.96,77.02 L675.00,76.94 L675.89,76.87 L676.60,76.80" fill="none" stroke="#d9541c" stroke-width="2.1" stroke-linecap="round" stroke-dasharray="0,2.8"/>
<path d="M581.00,114.90 L676.60,114.90" fill="none" stroke="#1f77c4" stroke-width="2.0" stroke-linecap="round" stroke-dasharray="0,2.4"/>
<path d="M581.00,118.60 L676.60,118.60" fill="none" stroke="#1f77c4" stroke-width="2.0" stroke-linecap="round" stroke-dasharray="0,2.4"/>
<path d="M582.20,116.75 L676.60,116.75" fill="none" stroke="#d9541c" stroke-width="1.9" stroke-linecap="round" stroke-dasharray="0,2.4"/>
<path d="M676.60,11.60 L676.60,16.00" fill="none" stroke="#d9541c" stroke-width="1.6" stroke-linecap="round" stroke-dasharray="0,1.8"/>
<polyline points="546.30,95.50 546.30,140.10 676.60,140.10 676.60,95.50" fill="none" stroke="#ee3434" stroke-width="1" />
<line x1="546.30" y1="95.70" x2="676.60" y2="95.70" stroke="#f59a9a" stroke-width="1.2" />
<line x1="546.30" y1="95.50" x2="518.50" y2="78.60" stroke="#ee3434" stroke-width="1" />
<polygon points="513.20,76.00 521.40,76.60 518.20,82.20" fill="#ee3434" stroke="none" stroke-width="1" />
<line x1="388.50" y1="12.60" x2="676.60" y2="12.60" stroke="#b8b8b8" stroke-width="0.8" />
<line x1="676.60" y1="12.60" x2="676.60" y2="275.20" stroke="#8a8a8a" stroke-width="1.1" />
<line x1="388.50" y1="275.20" x2="676.60" y2="275.20" stroke="#8a8a8a" stroke-width="1.1" />
<line x1="388.50" y1="12.60" x2="388.50" y2="275.20" stroke="#8a8a8a" stroke-width="1.1" />
<line x1="446.12" y1="275.20" x2="446.12" y2="272.20" stroke="#8a8a8a" stroke-width="0.8" />
<line x1="503.74" y1="275.20" x2="503.74" y2="272.20" stroke="#8a8a8a" stroke-width="0.8" />
<line x1="561.36" y1="275.20" x2="561.36" y2="272.20" stroke="#8a8a8a" stroke-width="0.8" />
<line x1="618.98" y1="275.20" x2="618.98" y2="272.20" stroke="#8a8a8a" stroke-width="0.8" />
<line x1="676.60" y1="222.68" x2="673.60" y2="222.68" stroke="#8a8a8a" stroke-width="0.8" />
<line x1="676.60" y1="170.16" x2="673.60" y2="170.16" stroke="#8a8a8a" stroke-width="0.8" />
<line x1="676.60" y1="117.64" x2="673.60" y2="117.64" stroke="#8a8a8a" stroke-width="0.8" />
<line x1="676.60" y1="65.12" x2="673.60" y2="65.12" stroke="#8a8a8a" stroke-width="0.8" />
<text x="382.90" y="279.20" font-family="Liberation Sans" font-size="10.3" text-anchor="end" fill="#000" font-weight="normal" >10</text>
<text x="382.90" y="226.68" font-family="Liberation Sans" font-size="10.3" text-anchor="end" fill="#000" font-weight="normal" >20</text>
<text x="382.90" y="174.16" font-family="Liberation Sans" font-size="10.3" text-anchor="end" fill="#000" font-weight="normal" >30</text>
<text x="382.90" y="121.64" font-family="Liberation Sans" font-size="10.3" text-anchor="end" fill="#000" font-weight="normal" >40</text>
<text x="382.90" y="69.12" font-family="Liberation Sans" font-size="10.3" text-anchor="end" fill="#000" font-weight="normal" >50</text>
<text x="382.90" y="16.60" font-family="Liberation Sans" font-size="10.3" text-anchor="end" fill="#000" font-weight="normal" >60</text>
<text x="386.40" y="287.00" font-family="Liberation Serif" font-size="10.3" text-anchor="middle" fill="#000" font-weight="normal" >Γ</text>
<text x="676.40" y="287.00" font-family="Liberation Sans" font-size="10.3" text-anchor="middle" fill="#000" font-weight="normal" >X</text>
<text x="361.40" y="144.20" font-family="Liberation Sans" font-size="10.3" text-anchor="middle" fill="#000" font-weight="normal" transform="rotate(-90 361.40 144.20)" >Frequency / MHz</text>
<rect x="388.4" y="12.3" width="122.6" height="124.6" fill="#f4f4f4" stroke="#f05555" stroke-width="1.3"/>
<rect x="394.9" y="16.6" width="115.4" height="118.7" fill="#fff"/>
<polygon points="394.90,16.60 481.80,16.60 463.40,135.30 394.90,135.30" fill="#f1f1f1" stroke="none" stroke-width="1" />
<path d="M483.50,18.20 L465.00,132.80" fill="none" stroke="#e07448" stroke-width="1.2" stroke-linecap="round" stroke-dasharray="0,6.6"/>
<path d="M494.40,19.20 L467.80,132.80" fill="none" stroke="#e07448" stroke-width="1.2" stroke-linecap="round" stroke-dasharray="0,6.0"/>
<polyline points="472.30,70.20 478.00,70.10 480.50,69.60 481.50,68.40 482.50,69.80 510.30,69.80" fill="none" stroke="#3a8fd0" stroke-width="0.9" />
<polyline points="472.30,75.90 510.30,75.90" fill="none" stroke="#e0753a" stroke-width="0.9" />
<polyline points="472.30,80.30 478.00,80.30 480.50,81.00 481.50,81.80 482.50,80.60 510.30,80.60" fill="none" stroke="#3a8fd0" stroke-width="0.9" />
<rect x="394.9" y="16.6" width="115.4" height="118.7" fill="none" stroke="#505050" stroke-width="1.2"/>
<line x1="463.80" y1="135.30" x2="463.80" y2="133.30" stroke="#4a4a4a" stroke-width="0.7" />
<line x1="487.50" y1="135.30" x2="487.50" y2="133.30" stroke="#4a4a4a" stroke-width="0.7" />
<line x1="487.50" y1="16.60" x2="487.50" y2="18.60" stroke="#4a4a4a" stroke-width="0.7" />
<text x="391.80" y="18.60" font-family="Liberation Sans" font-size="4.2" text-anchor="middle" fill="#666" font-weight="normal" >45</text>
<text x="391.80" y="77.50" font-family="Liberation Sans" font-size="4.2" text-anchor="middle" fill="#666" font-weight="normal" >40</text>
<text x="391.80" y="136.50" font-family="Liberation Sans" font-size="4.2" text-anchor="middle" fill="#666" font-weight="normal" >35</text>
<text x="456.30" y="79.20" font-family="Liberation Sans" font-size="10.4" text-anchor="end" fill="#ee2020" font-weight="normal" >WGMs</text>
<line x1="460.80" y1="75.90" x2="465.60" y2="75.90" stroke="#ee2020" stroke-width="1.2" />
<path d="M471.4,69.8 C468.8,69.8 468.6,71 468.6,73 C468.6,74.8 468.2,75.6 466.6,75.9 C468.2,76.2 468.6,77 468.6,78.8 C468.6,80.8 468.8,82 471.4,82" fill="none" stroke="#ee2020" stroke-width="1.3"/>
<rect x="388.9" y="139.0" width="123.2" height="136.6" fill="#fff" stroke="#d0d0d0" stroke-width="1.6"/>
<polygon points="393.60,191.90 442.00,218.50 442.00,272.80 394.50,272.80" fill="#d3d3d3" stroke="none" stroke-width="1" />
<polygon points="442.00,218.50 508.40,199.50 507.80,272.80 442.00,272.80" fill="#9d9d9d" stroke="none" stroke-width="1" />
<polygon points="393.60,191.90 460.00,172.90 508.40,199.50 442.00,218.50" fill="#e6e6e6" stroke="#aaa" stroke-width="0.4" />
<line x1="442.00" y1="218.50" x2="442.00" y2="272.80" stroke="#888" stroke-width="0.4" />
<defs><linearGradient id="cylB" gradientUnits="userSpaceOnUse" x1="424.3" x2="476.9" y1="0" y2="0"><stop offset="0" stop-color="#c4c4c4"/><stop offset="0.1" stop-color="#d6d6d6"/><stop offset="0.5" stop-color="#d0d0d0"/><stop offset="0.76" stop-color="#c8c8c8"/><stop offset="0.86" stop-color="#a8a8a8"/><stop offset="1" stop-color="#8c8c8c"/></linearGradient><linearGradient id="cylBin" gradientUnits="userSpaceOnUse" x1="440.7" x2="464" y1="0" y2="0"><stop offset="0" stop-color="#a8a8a8"/><stop offset="0.3" stop-color="#d0d0d0"/><stop offset="0.6" stop-color="#fbfbfb"/><stop offset="0.9" stop-color="#f0f0f0"/><stop offset="1" stop-color="#d8d8d8"/></linearGradient><linearGradient id="holeB" gradientUnits="userSpaceOnUse" x1="434.8" x2="466.4" y1="0" y2="0"><stop offset="0" stop-color="#8a8a8a"/><stop offset="0.5" stop-color="#c0c0c0"/><stop offset="1" stop-color="#e8e8e8"/></linearGradient></defs>
<path d="M424.3,153.2 L424.3,193.5 A26.3,9.9 0 0 0 476.90000000000003,193.5 L476.90000000000003,153.2 Z" fill="url(#cylB)" stroke="#9a9a9a" stroke-width="0.4"/>
<path d="M424.3,181.2 A26.3,9.9 0 0 0 476.90000000000003,181.2" fill="none" stroke="#8a8a8a" stroke-width="0.5"/>
<ellipse cx="450.6" cy="153.2" rx="26.3" ry="9.9" fill="#e6e6e6" stroke="#9a9a9a" stroke-width="0.4"/>
<ellipse cx="450.6" cy="153.2" rx="15.8" ry="5.95" fill="url(#holeB)" stroke="#999" stroke-width="0.3"/>
<polygon points="440.70,148.56 442.64,148.06 444.58,147.70 446.52,147.45 448.47,147.30 450.41,147.25 452.35,147.29 454.29,147.41 456.23,147.64 458.18,147.98 460.12,148.45 462.06,149.10 464.00,150.05 464.00,184.20 451.80,185.80 440.70,183.60" fill="url(#cylBin)" stroke="none" stroke-width="1" />
<polygon points="429.00,159.40 434.80,158.60 440.70,157.40 440.70,183.60 429.00,188.40" fill="#9e9e9e" stroke="none" stroke-width="1" />
<polygon points="429.00,159.40 440.70,157.40 440.70,160.50 429.00,163.00" fill="#bdbdbd" stroke="none" stroke-width="1" />
<polygon points="429.00,188.40 440.70,183.60 451.80,185.80 464.00,184.20 464.00,189.50 451.80,192.60 429.00,191.60" fill="#e4e4e4" stroke="none" stroke-width="1" />
<line x1="464.00" y1="157.00" x2="464.00" y2="189.50" stroke="#b0b0b0" stroke-width="0.5" />
<line x1="451.80" y1="143.30" x2="451.80" y2="203.40" stroke="#888" stroke-width="0.5" stroke-dasharray="1.5,1"/>
<line x1="392.00" y1="193.20" x2="417.50" y2="183.20" stroke="#ee2020" stroke-width="0.9" />
<line x1="430.00" y1="225.50" x2="454.00" y2="213.50" stroke="#ee2020" stroke-width="0.9" />
<line x1="397.00" y1="192.80" x2="442.00" y2="220.00" stroke="#ee2020" stroke-width="0.9" />
<polygon points="396.00,192.20 401.50,193.00 399.40,196.00" fill="#ee2020" stroke="none" stroke-width="1" />
<polygon points="443.20,220.60 437.60,219.80 439.60,216.80" fill="#ee2020" stroke="none" stroke-width="1" />
<text x="416.40" y="216.00" font-family="Liberation Sans" font-size="10.5" text-anchor="middle" fill="#ee2020" font-weight="normal" >a</text>
<line x1="475.00" y1="163.00" x2="491.00" y2="172.50" stroke="#ee2020" stroke-width="0.9" />
<line x1="472.00" y1="181.50" x2="494.00" y2="196.00" stroke="#ee2020" stroke-width="0.9" />
<line x1="477.00" y1="197.00" x2="496.00" y2="210.00" stroke="#ee2020" stroke-width="0.9" />
<line x1="482.80" y1="175.50" x2="482.80" y2="202.00" stroke="#ee2020" stroke-width="0.9" />
<polygon points="482.80,174.50 480.80,179.50 484.80,179.50" fill="#ee2020" stroke="none" stroke-width="1" />
<polygon points="482.80,202.50 480.80,197.50 484.80,197.50" fill="#ee2020" stroke="none" stroke-width="1" />
<polygon points="482.80,203.50 480.80,207.50 484.80,207.50" fill="#ee2020" stroke="none" stroke-width="1" />
<polygon points="482.80,211.00 480.80,207.00 484.80,207.00" fill="#ee2020" stroke="none" stroke-width="1" />
<text x="485.00" y="191.50" font-family="Liberation Sans" font-size="10.5" text-anchor="start" fill="#ee2020" font-weight="normal" >h<tspan font-size="7" dy="2.5">2</tspan></text>
<text x="489.00" y="215.50" font-family="Liberation Sans" font-size="10.5" text-anchor="start" fill="#ee2020" font-weight="normal" >h<tspan font-size="7" dy="2.5">1</tspan></text>
<line x1="417.30" y1="166.20" x2="474.00" y2="151.50" stroke="#ee2020" stroke-width="0.9" />
<polygon points="427.00,163.60 423.94,166.08 423.11,162.99" fill="#ee2020" stroke="none" stroke-width="1" />
<polygon points="440.30,160.10 443.38,157.64 444.19,160.74" fill="#ee2020" stroke="none" stroke-width="1" />
<polygon points="474.20,151.40 471.12,153.86 470.31,150.76" fill="#ee2020" stroke="none" stroke-width="1" />
<line x1="451.80" y1="156.60" x2="441.00" y2="151.50" stroke="#ee2020" stroke-width="0.9" />
<polygon points="440.40,151.20 444.34,151.30 442.97,154.19" fill="#ee2020" stroke="none" stroke-width="1" />
<text x="428.50" y="157.00" font-family="Liberation Sans" font-size="10.5" text-anchor="middle" fill="#ee2020" font-weight="normal" >d<tspan font-size="6.5" dy="2.5">r</tspan></text>
<text x="445.80" y="150.00" font-family="Liberation Sans" font-size="10.5" text-anchor="middle" fill="#ee2020" font-weight="normal" >r<tspan font-size="6.5" dy="2.5">i</tspan></text>
<text x="463.60" y="150.00" font-family="Liberation Sans" font-size="10.5" text-anchor="middle" fill="#ee2020" font-weight="normal" >r<tspan font-size="6.5" dy="2.5">o</tspan></text>
<text x="0.20" y="639.20" font-family="Liberation Sans" font-size="15" text-anchor="start" fill="#000" font-weight="bold" >d</text>
<rect x="248.7" y="783.1" width="75.6" height="75.5" fill="#fff" stroke="#333" stroke-width="0.8" stroke-dasharray="1,1"/>
<g clip-path="url(#clipd)"><path d="M35.50,636.16 L35.91,636.20 L36.33,636.24 L36.74,636.28 L37.15,636.32 L37.56,636.36 L37.98,636.40 L38.39,636.44 L38.80,636.49 L39.22,636.53 L39.63,636.57 L40.04,636.62 L40.45,636.66 L40.87,636.71 L41.28,636.76 L41.69,636.80 L42.11,636.85 L42.52,636.90 L42.93,636.95 L43.34,637.00 L43.76,637.05 L44.17,637.11 L44.58,637.16 L45.00,637.22 L45.41,637.27 L45.82,637.33 L46.23,637.38 L46.65,637.44 L47.06,637.50 L47.47,637.56 L47.89,637.62 L48.30,637.69 L48.71,637.75 L49.12,637.82 L49.54,637.88 L49.95,637.95 L50.36,638.02 L50.78,638.09 L51.19,638.16 L51.60,638.23 L52.01,638.31 L52.43,638.38 L52.84,638.46 L53.25,638.54 L53.67,638.62 L54.08,638.70 L54.49,638.79 L54.90,638.87 L55.32,638.96 L55.73,639.05 L56.14,639.14 L56.56,639.23 L56.97,639.33 L57.38,639.43 L57.79,639.53 L58.21,639.63 L58.62,639.73 L59.03,639.84 L59.45,639.95 L59.86,640.06 L60.27,640.17 L60.68,640.29 L61.10,640.41 L61.51,640.53 L61.92,640.66 L62.34,640.79 L62.75,640.92 L63.16,641.05 L63.57,641.19 L63.99,641.33 L64.40,641.48 L64.81,641.63 L65.23,641.78 L65.64,641.94 L66.05,642.10 L66.46,642.27 L66.88,642.44 L67.29,642.61 L67.70,642.79 L68.12,642.98 L68.53,643.17 L68.94,643.36 L69.35,643.56 L69.77,643.77 L70.18,643.99 L70.59,644.21 L71.01,644.43 L71.42,644.67 L71.83,644.91 L72.24,645.16 L72.66,645.41 L73.07,645.68 L73.48,645.95 L73.90,646.23 L74.31,646.52 L74.72,646.83 L75.13,647.14 L75.55,647.46 L75.96,647.79 L76.37,648.14 L76.79,648.50 L77.20,648.87 L77.61,649.25 L78.02,649.65 L78.44,650.07 L78.85,650.50 L79.26,650.94 L79.68,651.41 L80.09,651.89 L80.50,652.39 L80.91,652.91 L81.33,653.45 L81.74,654.02 L82.15,654.61 L82.57,655.23 L82.98,655.87 L83.39,656.54 L83.80,657.24 L84.22,657.97 L84.63,658.74 L85.04,659.54 L85.46,660.38 L85.87,661.26 L86.28,662.18 L86.69,663.15 L87.11,664.16 L87.52,665.23 L87.93,666.35 L88.35,667.53 L88.76,668.78 L89.17,670.08 L89.58,671.46 L90.00,672.92 L90.41,674.45 L90.82,676.08 L91.24,677.79 L91.65,679.60 L92.06,681.52 L92.47,683.54 L92.89,685.69 L93.30,687.97 L93.71,690.38 L94.13,692.93 L94.54,695.64 L94.95,698.51 L95.36,701.56 L95.78,704.79 L96.19,708.21 L96.60,711.83 L97.02,715.66 L97.43,719.71 L97.84,723.98 L98.25,728.48 L98.67,733.21 L99.08,738.16 L99.49,743.33 L99.91,748.69 L100.32,754.24 L100.73,759.93 L101.14,765.73 L101.56,771.58 L101.97,777.42 L102.38,783.16 L102.80,788.71 L103.21,793.98 L103.62,798.84 L104.03,803.19 L104.45,806.89 L104.86,809.84 L105.27,811.95 L105.69,813.13 L106.10,813.33 L106.51,812.53 L106.92,810.75 L107.34,808.02 L107.75,804.43 L108.16,800.06 L108.58,795.03 L108.99,789.47 L109.40,783.50 L109.81,777.24 L110.23,770.81 L110.64,764.31 L111.05,757.82 L111.47,751.43 L111.88,745.19 L112.29,739.14 L112.70,733.32 L113.12,727.75 L113.53,722.45 L113.94,717.42 L114.36,712.67 L114.77,708.18 L115.18,703.96 L115.59,700.00 L116.01,696.28 L116.42,692.80 L116.83,689.53 L117.25,686.47 L117.66,683.61 L118.07,680.93 L118.48,678.42 L118.90,676.08 L119.31,673.88 L119.72,671.82 L120.14,669.89 L120.55,668.08 L120.96,666.38 L121.37,664.79 L121.79,663.29 L122.20,661.88 L122.61,660.56 L123.03,659.32 L123.44,658.14 L123.85,657.04 L124.26,656.00 L124.68,655.02 L125.09,654.09 L125.50,653.21 L125.92,652.39 L126.33,651.60 L126.74,650.86 L127.15,650.16 L127.57,649.50 L127.98,648.87 L128.39,648.27 L128.81,647.70 L129.22,647.16 L129.63,646.65 L130.04,646.16 L130.46,645.70 L130.87,645.26 L131.28,644.84 L131.70,644.44 L132.11,644.06 L132.52,643.69 L132.93,643.35 L133.35,643.02 L133.76,642.70 L134.17,642.40 L134.59,642.11 L135.00,641.84 L135.41,641.57 L135.82,641.32 L136.24,641.08 L136.65,640.85 L137.06,640.63 L137.48,640.42 L137.89,640.22 L138.30,640.02 L138.71,639.84 L139.13,639.66 L139.54,639.48 L139.95,639.31 L140.37,639.15 L140.78,638.99 L141.19,638.84 L141.60,638.70 L142.02,638.56 L142.43,638.42 L142.84,638.30 L143.26,638.17 L143.67,638.05 L144.08,637.94 L144.49,637.83 L144.91,637.72 L145.32,637.62 L145.73,637.52 L146.15,637.43 L146.56,637.34 L146.97,637.25 L147.38,637.17 L147.80,637.08 L148.21,637.01 L148.62,636.93 L149.04,636.86 L149.45,636.79 L149.86,636.72 L150.27,636.65 L150.69,636.59 L151.10,636.53 L151.51,636.47 L151.93,636.42 L152.34,636.36 L152.75,636.31 L153.16,636.26 L153.58,636.22 L153.99,636.17 L154.40,636.13 L154.82,636.08 L155.23,636.04 L155.64,636.00 L156.05,635.97 L156.47,635.93 L156.88,635.90 L157.29,635.86 L157.71,635.83 L158.12,635.80 L158.53,635.77 L158.94,635.75 L159.36,635.72 L159.77,635.69 L160.18,635.67 L160.60,635.65 L161.01,635.63 L161.42,635.60 L161.83,635.59 L162.25,635.57 L162.66,635.55 L163.07,635.53 L163.49,635.52 L163.90,635.50 L164.31,635.49 L164.72,635.48 L165.14,635.47 L165.55,635.46 L165.96,635.45 L166.38,635.44 L166.79,635.43 L167.20,635.42 L167.61,635.42 L168.03,635.41 L168.44,635.41 L168.85,635.40 L169.27,635.40 L169.68,635.40 L170.09,635.39 L170.50,635.39 L170.92,635.39 L171.33,635.39 L171.74,635.40 L172.16,635.40 L172.57,635.40 L172.98,635.40 L173.39,635.41 L173.81,635.41 L174.22,635.42 L174.63,635.42 L175.05,635.43 L175.46,635.44 L175.87,635.45 L176.28,635.45 L176.70,635.46 L177.11,635.47 L177.52,635.48 L177.94,635.50 L178.35,635.51 L178.76,635.52 L179.17,635.53 L179.59,635.55 L180.00,635.56 L180.41,635.58 L180.83,635.59 L181.24,635.61 L181.65,635.63 L182.06,635.64 L182.48,635.66 L182.89,635.68 L183.30,635.70 L183.72,635.72 L184.13,635.74 L184.54,635.77 L184.95,635.79 L185.37,635.81 L185.78,635.84 L186.19,635.86 L186.61,635.89 L187.02,635.91 L187.43,635.94 L187.84,635.97 L188.26,636.00 L188.67,636.02 L189.08,636.05 L189.50,636.08 L189.91,636.12 L190.32,636.15 L190.73,636.18 L191.15,636.22 L191.56,636.26 L191.97,636.30 L192.39,636.34 L192.80,636.38 L193.21,636.42 L193.62,636.46 L194.04,636.51 L194.45,636.55 L194.86,636.59 L195.28,636.64 L195.69,636.69 L196.10,636.73 L196.51,636.78 L196.93,636.83 L197.34,636.88 L197.75,636.93 L198.17,636.99 L198.58,637.04 L198.99,637.09 L199.40,637.15 L199.82,637.21 L200.23,637.27 L200.64,637.33 L201.06,637.39 L201.47,637.45 L201.88,637.51 L202.29,637.58 L202.71,637.64 L203.12,637.71 L203.53,637.78 L203.95,637.85 L204.36,637.92 L204.77,637.99 L205.18,638.07 L205.60,638.15 L206.01,638.22 L206.42,638.31 L206.84,638.39 L207.25,638.47 L207.66,638.56 L208.07,638.65 L208.49,638.74 L208.90,638.83 L209.31,638.92 L209.73,639.02 L210.14,639.12 L210.55,639.22 L210.96,639.32 L211.38,639.43 L211.79,639.54 L212.20,639.65 L212.62,639.77 L213.03,639.88 L213.44,640.00 L213.85,640.13 L214.27,640.25 L214.68,640.38 L215.09,640.52 L215.51,640.66 L215.92,640.80 L216.33,640.94 L216.74,641.09 L217.16,641.24 L217.57,641.40 L217.98,641.56 L218.40,641.73 L218.81,641.90 L219.22,642.08 L219.63,642.26 L220.05,642.44 L220.46,642.64 L220.87,642.83 L221.29,643.04 L221.70,643.25 L222.11,643.46 L222.52,643.69 L222.94,643.92 L223.35,644.16 L223.76,644.40 L224.18,644.66 L224.59,644.92 L225.00,645.19 L225.41,645.47 L225.83,645.76 L226.24,646.06 L226.65,646.37 L227.07,646.69 L227.48,647.03 L227.89,647.37 L228.30,647.73 L228.72,648.10 L229.13,648.49 L229.54,648.89 L229.96,649.31 L230.37,649.74 L230.78,650.19 L231.19,650.65 L231.61,651.14 L232.02,651.65 L232.43,652.17 L232.85,652.72 L233.26,653.30 L233.67,653.89 L234.08,654.52 L234.50,655.17 L234.91,655.85 L235.32,656.56 L235.74,657.31 L236.15,658.09 L236.56,658.91 L236.97,659.77 L237.39,660.66 L237.80,661.61 L238.21,662.60 L238.63,663.64 L239.04,664.74 L239.45,665.89 L239.86,667.10 L240.28,668.38 L240.69,669.73 L241.10,671.15 L241.52,672.65 L241.93,674.24 L242.34,675.91 L242.75,677.68 L243.17,679.56 L243.58,681.54 L243.99,683.65 L244.41,685.87 L244.82,688.23 L245.23,690.74 L245.64,693.39 L246.06,696.21 L246.47,699.19 L246.88,702.35 L247.30,705.71 L247.71,709.26 L248.12,713.01 L248.53,716.99 L248.95,721.18 L249.36,725.59 L249.77,730.22 L250.19,735.08 L250.60,740.14 L251.01,745.41 L251.42,750.84 L251.84,756.42 L252.25,762.10 L252.66,767.83 L253.08,773.55 L253.49,779.17 L253.90,784.60 L254.31,789.75 L254.73,794.50 L255.14,798.74 L255.55,802.34 L255.97,805.21 L256.38,807.24 L256.79,808.36 L257.20,808.52 L257.62,807.71 L258.03,805.92 L258.44,803.22 L258.86,799.66 L259.27,795.35 L259.68,790.40 L260.09,784.92 L260.51,779.05 L260.92,772.90 L261.33,766.59 L261.75,760.21 L262.16,753.85 L262.57,747.57 L262.98,741.45 L263.40,735.52 L263.81,729.82 L264.22,724.36 L264.64,719.16 L265.05,714.23 L265.46,709.57 L265.87,705.17 L266.29,701.04 L266.70,697.15 L267.11,693.50 L267.53,690.08 L267.94,686.88 L268.35,683.88 L268.76,681.07 L269.18,678.43 L269.59,675.97 L270.00,673.66 L270.42,671.50 L270.83,669.48 L271.24,667.58 L271.65,665.80 L272.07,664.12 L272.48,662.55 L272.89,661.08 L273.31,659.69 L273.72,658.38 L274.13,657.15 L274.54,656.00 L274.96,654.90 L275.37,653.87 L275.78,652.90 L276.20,651.98 L276.61,651.11 L277.02,650.29 L277.43,649.51 L277.85,648.77 L278.26,648.08 L278.67,647.41 L279.09,646.78 L279.50,646.18 L279.91,645.62 L280.32,645.08 L280.74,644.56 L281.15,644.07 L281.56,643.60 L281.98,643.16 L282.39,642.74 L282.80,642.33 L283.21,641.94 L283.63,641.57 L284.04,641.22 L284.45,640.88 L284.87,640.56 L285.28,640.25 L285.69,639.96 L286.10,639.67 L286.52,639.40 L286.93,639.14 L287.34,638.89 L287.76,638.65 L288.17,638.42 L288.58,638.20 L288.99,637.98 L289.41,637.78 L289.82,637.58 L290.23,637.39 L290.65,637.21 L291.06,637.03 L291.47,636.86 L291.88,636.70 L292.30,636.54 L292.71,636.39 L293.12,636.25 L293.54,636.11 L293.95,635.97 L294.36,635.84 L294.77,635.71 L295.19,635.59 L295.60,635.47 L296.01,635.35 L296.43,635.24 L296.84,635.14 L297.25,635.03 L297.66,634.93 L298.08,634.84 L298.49,634.74 L298.90,634.65 L299.32,634.56 L299.73,634.48 L300.14,634.39 L300.55,634.31 L300.97,634.24 L301.38,634.16 L301.79,634.09 L302.21,634.02 L302.62,633.95 L303.03,633.88 L303.44,633.81 L303.86,633.75 L304.27,633.69 L304.68,633.63 L305.10,633.57 L305.51,633.52 L305.92,633.46 L306.33,633.41 L306.75,633.36 L307.16,633.30 L307.57,633.26 L307.99,633.21 L308.40,633.16 L308.81,633.12 L309.22,633.07 L309.64,633.03 L310.05,632.99 L310.46,632.95 L310.88,632.91 L311.29,632.87 L311.70,632.83 L312.11,632.79 L312.53,632.76 L312.94,632.72 L313.35,632.69 L313.77,632.66 L314.18,632.63 L314.59,632.59 L315.00,632.56 L315.42,632.53 L315.83,632.50 L316.24,632.48 L316.66,632.45 L317.07,632.42 L317.48,632.39 L317.89,632.37 L318.31,632.34 L318.72,632.32 L319.13,632.29 L319.55,632.27 L319.96,632.25 L320.37,632.22 L320.78,632.20 L321.20,632.18 L321.61,632.16 L322.02,632.14 L322.44,632.12 L322.85,632.10 L323.26,632.08 L323.67,632.06 L324.09,632.04 L324.50,632.02" fill="none" stroke="#21a6ec" stroke-width="1"/><path d="M35.50,635.25 L35.91,635.27 L36.33,635.30 L36.74,635.32 L37.15,635.35 L37.56,635.37 L37.98,635.40 L38.39,635.42 L38.80,635.45 L39.22,635.48 L39.63,635.50 L40.04,635.53 L40.45,635.56 L40.87,635.59 L41.28,635.62 L41.69,635.65 L42.11,635.67 L42.52,635.70 L42.93,635.73 L43.34,635.76 L43.76,635.79 L44.17,635.83 L44.58,635.86 L45.00,635.89 L45.41,635.92 L45.82,635.95 L46.23,635.99 L46.65,636.02 L47.06,636.06 L47.47,636.09 L47.89,636.13 L48.30,636.16 L48.71,636.20 L49.12,636.23 L49.54,636.27 L49.95,636.31 L50.36,636.35 L50.78,636.39 L51.19,636.43 L51.60,636.47 L52.01,636.51 L52.43,636.55 L52.84,636.59 L53.25,636.63 L53.67,636.67 L54.08,636.72 L54.49,636.76 L54.90,636.81 L55.32,636.85 L55.73,636.90 L56.14,636.95 L56.56,636.99 L56.97,637.04 L57.38,637.09 L57.79,637.14 L58.21,637.19 L58.62,637.25 L59.03,637.30 L59.45,637.35 L59.86,637.41 L60.27,637.46 L60.68,637.52 L61.10,637.58 L61.51,637.64 L61.92,637.69 L62.34,637.76 L62.75,637.82 L63.16,637.88 L63.57,637.94 L63.99,638.01 L64.40,638.07 L64.81,638.14 L65.23,638.21 L65.64,638.28 L66.05,638.35 L66.46,638.42 L66.88,638.50 L67.29,638.57 L67.70,638.65 L68.12,638.73 L68.53,638.81 L68.94,638.89 L69.35,638.97 L69.77,639.06 L70.18,639.15 L70.59,639.23 L71.01,639.32 L71.42,639.42 L71.83,639.51 L72.24,639.61 L72.66,639.70 L73.07,639.80 L73.48,639.91 L73.90,640.01 L74.31,640.12 L74.72,640.23 L75.13,640.34 L75.55,640.46 L75.96,640.57 L76.37,640.69 L76.79,640.81 L77.20,640.94 L77.61,641.07 L78.02,641.20 L78.44,641.34 L78.85,641.47 L79.26,641.62 L79.68,641.76 L80.09,641.91 L80.50,642.06 L80.91,642.22 L81.33,642.38 L81.74,642.55 L82.15,642.72 L82.57,642.89 L82.98,643.07 L83.39,643.25 L83.80,643.44 L84.22,643.64 L84.63,643.84 L85.04,644.04 L85.46,644.26 L85.87,644.47 L86.28,644.70 L86.69,644.93 L87.11,645.17 L87.52,645.41 L87.93,645.67 L88.35,645.93 L88.76,646.20 L89.17,646.48 L89.58,646.76 L90.00,647.06 L90.41,647.37 L90.82,647.68 L91.24,648.01 L91.65,648.35 L92.06,648.70 L92.47,649.07 L92.89,649.44 L93.30,649.83 L93.71,650.24 L94.13,650.66 L94.54,651.10 L94.95,651.55 L95.36,652.02 L95.78,652.51 L96.19,653.02 L96.60,653.55 L97.02,654.10 L97.43,654.67 L97.84,655.27 L98.25,655.89 L98.67,656.54 L99.08,657.22 L99.49,657.93 L99.91,658.67 L100.32,659.45 L100.73,660.26 L101.14,661.10 L101.56,661.99 L101.97,662.93 L102.38,663.90 L102.80,664.93 L103.21,666.01 L103.62,667.14 L104.03,668.33 L104.45,669.59 L104.86,670.91 L105.27,672.30 L105.69,673.77 L106.10,675.31 L106.51,676.95 L106.92,678.68 L107.34,680.50 L107.75,682.43 L108.16,684.48 L108.58,686.64 L108.99,688.93 L109.40,691.36 L109.81,693.93 L110.23,696.66 L110.64,699.55 L111.05,702.62 L111.47,705.87 L111.88,709.31 L112.29,712.96 L112.70,716.82 L113.12,720.89 L113.53,725.19 L113.94,729.72 L114.36,734.48 L114.77,739.47 L115.18,744.67 L115.59,750.08 L116.01,755.67 L116.42,761.41 L116.83,767.26 L117.25,773.17 L117.66,779.06 L118.07,784.87 L118.48,790.50 L118.90,795.84 L119.31,800.78 L119.72,805.20 L120.14,808.99 L120.55,812.03 L120.96,814.22 L121.37,815.48 L121.79,815.76 L122.20,815.02 L122.61,813.29 L123.03,810.61 L123.44,807.04 L123.85,802.69 L124.26,797.66 L124.68,792.08 L125.09,786.08 L125.50,779.78 L125.92,773.30 L126.33,766.74 L126.74,760.20 L127.15,753.74 L127.57,747.43 L127.98,741.31 L128.39,735.43 L128.81,729.79 L129.22,724.42 L129.63,719.33 L130.04,714.52 L130.46,709.98 L130.87,705.70 L131.28,701.69 L131.70,697.92 L132.11,694.39 L132.52,691.08 L132.93,687.98 L133.35,685.08 L133.76,682.37 L134.17,679.83 L134.59,677.45 L135.00,675.22 L135.41,673.14 L135.82,671.18 L136.24,669.35 L136.65,667.63 L137.06,666.02 L137.48,664.51 L137.89,663.08 L138.30,661.74 L138.71,660.48 L139.13,659.30 L139.54,658.18 L139.95,657.13 L140.37,656.14 L140.78,655.20 L141.19,654.32 L141.60,653.48 L142.02,652.69 L142.43,651.94 L142.84,651.23 L143.26,650.56 L143.67,649.93 L144.08,649.32 L144.49,648.75 L144.91,648.21 L145.32,647.69 L145.73,647.20 L146.15,646.73 L146.56,646.29 L146.97,645.87 L147.38,645.47 L147.80,645.08 L148.21,644.72 L148.62,644.37 L149.04,644.04 L149.45,643.72 L149.86,643.42 L150.27,643.13 L150.69,642.86 L151.10,642.60 L151.51,642.35 L151.93,642.11 L152.34,641.88 L152.75,641.66 L153.16,641.45 L153.58,641.25 L153.99,641.06 L154.40,640.87 L154.82,640.70 L155.23,640.53 L155.64,640.37 L156.05,640.21 L156.47,640.07 L156.88,639.93 L157.29,639.79 L157.71,639.66 L158.12,639.54 L158.53,639.42 L158.94,639.31 L159.36,639.20 L159.77,639.10 L160.18,639.00 L160.60,638.90 L161.01,638.81 L161.42,638.73 L161.83,638.65 L162.25,638.57 L162.66,638.49 L163.07,638.42 L163.49,638.35 L163.90,638.29 L164.31,638.23 L164.72,638.17 L165.14,638.12 L165.55,638.06 L165.96,638.01 L166.38,637.97 L166.79,637.92 L167.20,637.88 L167.61,637.84 L168.03,637.81 L168.44,637.77 L168.85,637.74 L169.27,637.71 L169.68,637.68 L170.09,637.66 L170.50,637.64 L170.92,637.62 L171.33,637.60 L171.74,637.58 L172.16,637.56 L172.57,637.55 L172.98,637.54 L173.39,637.53 L173.81,637.52 L174.22,637.52 L174.63,637.51 L175.05,637.51 L175.46,637.51 L175.87,637.51 L176.28,637.51 L176.70,637.52 L177.11,637.53 L177.52,637.53 L177.94,637.54 L178.35,637.55 L178.76,637.57 L179.17,637.58 L179.59,637.60 L180.00,637.61 L180.41,637.63 L180.83,637.65 L181.24,637.68 L181.65,637.70 L182.06,637.73 L182.48,637.75 L182.89,637.78 L183.30,637.81 L183.72,637.85 L184.13,637.88 L184.54,637.91 L184.95,637.95 L185.37,637.99 L185.78,638.03 L186.19,638.07 L186.61,638.12 L187.02,638.16 L187.43,638.21 L187.84,638.26 L188.26,638.31 L188.67,638.36 L189.08,638.42 L189.50,638.48 L189.91,638.54 L190.32,638.60 L190.73,638.66 L191.15,638.72 L191.56,638.79 L191.97,638.86 L192.39,638.93 L192.80,639.01 L193.21,639.08 L193.62,639.16 L194.04,639.24 L194.45,639.32 L194.86,639.41 L195.28,639.50 L195.69,639.59 L196.10,639.68 L196.51,639.78 L196.93,639.88 L197.34,639.98 L197.75,640.09 L198.17,640.20 L198.58,640.31 L198.99,640.43 L199.40,640.55 L199.82,640.67 L200.23,640.80 L200.64,640.93 L201.06,641.06 L201.47,641.20 L201.88,641.34 L202.29,641.49 L202.71,641.64 L203.12,641.80 L203.53,641.96 L203.95,642.12 L204.36,642.29 L204.77,642.47 L205.18,642.65 L205.60,642.84 L206.01,643.03 L206.42,643.24 L206.84,643.45 L207.25,643.67 L207.66,643.89 L208.07,644.12 L208.49,644.36 L208.90,644.61 L209.31,644.86 L209.73,645.13 L210.14,645.40 L210.55,645.68 L210.96,645.98 L211.38,646.28 L211.79,646.59 L212.20,646.92 L212.62,647.26 L213.03,647.61 L213.44,647.97 L213.85,648.35 L214.27,648.74 L214.68,649.14 L215.09,649.56 L215.51,650.00 L215.92,650.46 L216.33,650.94 L216.74,651.43 L217.16,651.95 L217.57,652.48 L217.98,653.04 L218.40,653.63 L218.81,654.24 L219.22,654.88 L219.63,655.54 L220.05,656.24 L220.46,656.97 L220.87,657.73 L221.29,658.53 L221.70,659.37 L222.11,660.25 L222.52,661.17 L222.94,662.14 L223.35,663.16 L223.76,664.23 L224.18,665.36 L224.59,666.54 L225.00,667.79 L225.41,669.11 L225.83,670.50 L226.24,671.97 L226.65,673.52 L227.07,675.16 L227.48,676.89 L227.89,678.72 L228.30,680.66 L228.72,682.72 L229.13,684.89 L229.54,687.20 L229.96,689.65 L230.37,692.24 L230.78,694.99 L231.19,697.91 L231.61,701.00 L232.02,704.28 L232.43,707.75 L232.85,711.43 L233.26,715.31 L233.67,719.41 L234.08,723.73 L234.50,728.27 L234.91,733.02 L235.32,737.99 L235.74,743.15 L236.15,748.49 L236.56,753.98 L236.97,759.57 L237.39,765.22 L237.80,770.87 L238.21,776.44 L238.63,781.83 L239.04,786.96 L239.45,791.72 L239.86,795.99 L240.28,799.65 L240.69,802.60 L241.10,804.74 L241.52,805.99 L241.93,806.31 L242.34,805.65 L242.75,804.04 L243.17,801.51 L243.58,798.13 L243.99,793.98 L244.41,789.19 L244.82,783.86 L245.23,778.12 L245.64,772.09 L246.06,765.87 L246.47,759.58 L246.88,753.29 L247.30,747.08 L247.71,741.01 L248.12,735.13 L248.53,729.46 L248.95,724.04 L249.36,718.86 L249.77,713.96 L250.19,709.32 L250.60,704.94 L251.01,700.81 L251.42,696.94 L251.84,693.30 L252.25,689.89 L252.66,686.69 L253.08,683.70 L253.49,680.90 L253.90,678.27 L254.31,675.82 L254.73,673.51 L255.14,671.36 L255.55,669.34 L255.97,667.45 L256.38,665.67 L256.79,664.00 L257.20,662.44 L257.62,660.96 L258.03,659.58 L258.44,658.28 L258.86,657.05 L259.27,655.90 L259.68,654.81 L260.09,653.79 L260.51,652.82 L260.92,651.90 L261.33,651.03 L261.75,650.22 L262.16,649.44 L262.57,648.71 L262.98,648.01 L263.40,647.35 L263.81,646.72 L264.22,646.13 L264.64,645.56 L265.05,645.02 L265.46,644.51 L265.87,644.02 L266.29,643.56 L266.70,643.12 L267.11,642.69 L267.53,642.29 L267.94,641.91 L268.35,641.54 L268.76,641.19 L269.18,640.85 L269.59,640.53 L270.00,640.22 L270.42,639.93 L270.83,639.65 L271.24,639.38 L271.65,639.12 L272.07,638.87 L272.48,638.63 L272.89,638.40 L273.31,638.18 L273.72,637.97 L274.13,637.76 L274.54,637.57 L274.96,637.38 L275.37,637.20 L275.78,637.02 L276.20,636.85 L276.61,636.69 L277.02,636.54 L277.43,636.38 L277.85,636.24 L278.26,636.10 L278.67,635.96 L279.09,635.83 L279.50,635.71 L279.91,635.58 L280.32,635.47 L280.74,635.35 L281.15,635.24 L281.56,635.14 L281.98,635.03 L282.39,634.93 L282.80,634.84 L283.21,634.74 L283.63,634.65 L284.04,634.56 L284.45,634.48 L284.87,634.40 L285.28,634.32 L285.69,634.24 L286.10,634.16 L286.52,634.09 L286.93,634.02 L287.34,633.95 L287.76,633.88 L288.17,633.82 L288.58,633.76 L288.99,633.70 L289.41,633.64 L289.82,633.58 L290.23,633.52 L290.65,633.47 L291.06,633.42 L291.47,633.36 L291.88,633.31 L292.30,633.26 L292.71,633.22 L293.12,633.17 L293.54,633.13 L293.95,633.08 L294.36,633.04 L294.77,633.00 L295.19,632.96 L295.60,632.92 L296.01,632.88 L296.43,632.84 L296.84,632.81 L297.25,632.77 L297.66,632.74 L298.08,632.70 L298.49,632.67 L298.90,632.64 L299.32,632.61 L299.73,632.57 L300.14,632.55 L300.55,632.52 L300.97,632.49 L301.38,632.46 L301.79,632.43 L302.21,632.41 L302.62,632.38 L303.03,632.36 L303.44,632.33 L303.86,632.31 L304.27,632.28 L304.68,632.26 L305.10,632.24 L305.51,632.22 L305.92,632.19 L306.33,632.17 L306.75,632.15 L307.16,632.13 L307.57,632.11 L307.99,632.09 L308.40,632.07 L308.81,632.06 L309.22,632.04 L309.64,632.02 L310.05,632.00 L310.46,631.99 L310.88,631.97 L311.29,631.95 L311.70,631.94 L312.11,631.92 L312.53,631.91 L312.94,631.89 L313.35,631.88 L313.77,631.86 L314.18,631.85 L314.59,631.84 L315.00,631.82 L315.42,631.81 L315.83,631.80 L316.24,631.79 L316.66,631.77 L317.07,631.76 L317.48,631.75 L317.89,631.74 L318.31,631.73 L318.72,631.72 L319.13,631.70 L319.55,631.69 L319.96,631.68 L320.37,631.67 L320.78,631.66 L321.20,631.65 L321.61,631.64 L322.02,631.63 L322.44,631.63 L322.85,631.62 L323.26,631.61 L323.67,631.60 L324.09,631.59 L324.50,631.58" fill="none" stroke="#ff30c8" stroke-width="1"/><path d="M35.50,634.77 L35.91,634.79 L36.33,634.81 L36.74,634.83 L37.15,634.85 L37.56,634.86 L37.98,634.88 L38.39,634.90 L38.80,634.92 L39.22,634.94 L39.63,634.96 L40.04,634.98 L40.45,635.00 L40.87,635.02 L41.28,635.04 L41.69,635.06 L42.11,635.08 L42.52,635.10 L42.93,635.12 L43.34,635.15 L43.76,635.17 L44.17,635.19 L44.58,635.21 L45.00,635.23 L45.41,635.26 L45.82,635.28 L46.23,635.30 L46.65,635.33 L47.06,635.35 L47.47,635.38 L47.89,635.40 L48.30,635.42 L48.71,635.45 L49.12,635.47 L49.54,635.50 L49.95,635.52 L50.36,635.55 L50.78,635.58 L51.19,635.60 L51.60,635.63 L52.01,635.66 L52.43,635.69 L52.84,635.71 L53.25,635.74 L53.67,635.77 L54.08,635.80 L54.49,635.83 L54.90,635.86 L55.32,635.89 L55.73,635.92 L56.14,635.95 L56.56,635.98 L56.97,636.01 L57.38,636.04 L57.79,636.08 L58.21,636.11 L58.62,636.14 L59.03,636.18 L59.45,636.21 L59.86,636.24 L60.27,636.28 L60.68,636.31 L61.10,636.35 L61.51,636.39 L61.92,636.42 L62.34,636.46 L62.75,636.50 L63.16,636.54 L63.57,636.58 L63.99,636.61 L64.40,636.65 L64.81,636.70 L65.23,636.74 L65.64,636.78 L66.05,636.82 L66.46,636.86 L66.88,636.91 L67.29,636.95 L67.70,637.00 L68.12,637.04 L68.53,637.09 L68.94,637.13 L69.35,637.18 L69.77,637.23 L70.18,637.28 L70.59,637.33 L71.01,637.38 L71.42,637.43 L71.83,637.48 L72.24,637.54 L72.66,637.59 L73.07,637.64 L73.48,637.70 L73.90,637.76 L74.31,637.81 L74.72,637.87 L75.13,637.93 L75.55,637.99 L75.96,638.05 L76.37,638.12 L76.79,638.18 L77.20,638.24 L77.61,638.31 L78.02,638.38 L78.44,638.44 L78.85,638.51 L79.26,638.58 L79.68,638.66 L80.09,638.73 L80.50,638.80 L80.91,638.88 L81.33,638.96 L81.74,639.03 L82.15,639.11 L82.57,639.20 L82.98,639.28 L83.39,639.36 L83.80,639.45 L84.22,639.54 L84.63,639.63 L85.04,639.72 L85.46,639.81 L85.87,639.91 L86.28,640.01 L86.69,640.11 L87.11,640.21 L87.52,640.31 L87.93,640.42 L88.35,640.53 L88.76,640.64 L89.17,640.75 L89.58,640.87 L90.00,640.98 L90.41,641.10 L90.82,641.23 L91.24,641.35 L91.65,641.48 L92.06,641.62 L92.47,641.75 L92.89,641.89 L93.30,642.03 L93.71,642.18 L94.13,642.33 L94.54,642.48 L94.95,642.64 L95.36,642.80 L95.78,642.96 L96.19,643.13 L96.60,643.30 L97.02,643.48 L97.43,643.66 L97.84,643.85 L98.25,644.05 L98.67,644.24 L99.08,644.45 L99.49,644.66 L99.91,644.87 L100.32,645.09 L100.73,645.32 L101.14,645.56 L101.56,645.80 L101.97,646.05 L102.38,646.30 L102.80,646.57 L103.21,646.84 L103.62,647.12 L104.03,647.41 L104.45,647.71 L104.86,648.02 L105.27,648.34 L105.69,648.67 L106.10,649.01 L106.51,649.37 L106.92,649.73 L107.34,650.11 L107.75,650.50 L108.16,650.91 L108.58,651.33 L108.99,651.76 L109.40,652.20 L109.81,652.67 L110.23,653.15 L110.64,653.65 L111.05,654.17 L111.47,654.72 L111.88,655.28 L112.29,655.87 L112.70,656.49 L113.12,657.13 L113.53,657.79 L113.94,658.49 L114.36,659.22 L114.77,659.98 L115.18,660.78 L115.59,661.61 L116.01,662.48 L116.42,663.40 L116.83,664.36 L117.25,665.36 L117.66,666.42 L118.07,667.53 L118.48,668.70 L118.90,669.92 L119.31,671.21 L119.72,672.57 L120.14,674.01 L120.55,675.52 L120.96,677.12 L121.37,678.80 L121.79,680.58 L122.20,682.47 L122.61,684.46 L123.03,686.57 L123.44,688.80 L123.85,691.16 L124.26,693.67 L124.68,696.33 L125.09,699.14 L125.50,702.13 L125.92,705.29 L126.33,708.65 L126.74,712.20 L127.15,715.96 L127.57,719.93 L127.98,724.13 L128.39,728.56 L128.81,733.22 L129.22,738.11 L129.63,743.23 L130.04,748.56 L130.46,754.09 L130.87,759.79 L131.28,765.62 L131.70,771.55 L132.11,777.52 L132.52,783.44 L132.93,789.24 L133.35,794.81 L133.76,800.06 L134.17,804.86 L134.59,809.09 L135.00,812.63 L135.41,815.37 L135.82,817.23 L136.24,818.12 L136.65,818.01 L137.06,816.88 L137.48,814.75 L137.89,811.69 L138.30,807.78 L138.71,803.11 L139.13,797.82 L139.54,792.02 L139.95,785.84 L140.37,779.41 L140.78,772.84 L141.19,766.23 L141.60,759.66 L142.02,753.21 L142.43,746.93 L142.84,740.86 L143.26,735.02 L143.67,729.46 L144.08,724.16 L144.49,719.15 L144.91,714.41 L145.32,709.95 L145.73,705.76 L146.15,701.82 L146.56,698.12 L146.97,694.67 L147.38,691.43 L147.80,688.40 L148.21,685.56 L148.62,682.91 L149.04,680.43 L149.45,678.11 L149.86,675.93 L150.27,673.90 L150.69,671.99 L151.10,670.21 L151.51,668.53 L151.93,666.96 L152.34,665.49 L152.75,664.10 L153.16,662.80 L153.58,661.58 L153.99,660.43 L154.40,659.35 L154.82,658.33 L155.23,657.38 L155.64,656.47 L156.05,655.62 L156.47,654.81 L156.88,654.06 L157.29,653.34 L157.71,652.66 L158.12,652.02 L158.53,651.42 L158.94,650.84 L159.36,650.30 L159.77,649.79 L160.18,649.30 L160.60,648.84 L161.01,648.41 L161.42,647.99 L161.83,647.60 L162.25,647.23 L162.66,646.88 L163.07,646.55 L163.49,646.23 L163.90,645.93 L164.31,645.65 L164.72,645.38 L165.14,645.13 L165.55,644.89 L165.96,644.66 L166.38,644.44 L166.79,644.24 L167.20,644.05 L167.61,643.87 L168.03,643.69 L168.44,643.53 L168.85,643.38 L169.27,643.24 L169.68,643.10 L170.09,642.98 L170.50,642.86 L170.92,642.75 L171.33,642.64 L171.74,642.55 L172.16,642.46 L172.57,642.38 L172.98,642.30 L173.39,642.24 L173.81,642.17 L174.22,642.12 L174.63,642.07 L175.05,642.02 L175.46,641.98 L175.87,641.95 L176.28,641.92 L176.70,641.90 L177.11,641.88 L177.52,641.87 L177.94,641.86 L178.35,641.86 L178.76,641.87 L179.17,641.87 L179.59,641.89 L180.00,641.91 L180.41,641.93 L180.83,641.96 L181.24,641.99 L181.65,642.03 L182.06,642.07 L182.48,642.11 L182.89,642.17 L183.30,642.22 L183.72,642.29 L184.13,642.35 L184.54,642.42 L184.95,642.50 L185.37,642.58 L185.78,642.67 L186.19,642.76 L186.61,642.86 L187.02,642.96 L187.43,643.07 L187.84,643.19 L188.26,643.31 L188.67,643.43 L189.08,643.57 L189.50,643.71 L189.91,643.85 L190.32,644.00 L190.73,644.16 L191.15,644.33 L191.56,644.50 L191.97,644.68 L192.39,644.87 L192.80,645.07 L193.21,645.27 L193.62,645.49 L194.04,645.71 L194.45,645.94 L194.86,646.18 L195.28,646.43 L195.69,646.69 L196.10,646.96 L196.51,647.25 L196.93,647.54 L197.34,647.85 L197.75,648.17 L198.17,648.50 L198.58,648.85 L198.99,649.21 L199.40,649.59 L199.82,649.99 L200.23,650.40 L200.64,650.83 L201.06,651.27 L201.47,651.74 L201.88,652.23 L202.29,652.74 L202.71,653.27 L203.12,653.82 L203.53,654.41 L203.95,655.01 L204.36,655.65 L204.77,656.32 L205.18,657.02 L205.60,657.75 L206.01,658.52 L206.42,659.33 L206.84,660.18 L207.25,661.07 L207.66,662.00 L208.07,662.99 L208.49,664.02 L208.90,665.11 L209.31,666.26 L209.73,667.47 L210.14,668.75 L210.55,670.10 L210.96,671.52 L211.38,673.03 L211.79,674.62 L212.20,676.30 L212.62,678.09 L213.03,679.97 L213.44,681.97 L213.85,684.09 L214.27,686.34 L214.68,688.72 L215.09,691.25 L215.51,693.93 L215.92,696.77 L216.33,699.79 L216.74,702.98 L217.16,706.37 L217.57,709.96 L217.98,713.75 L218.40,717.75 L218.81,721.97 L219.22,726.41 L219.63,731.06 L220.05,735.92 L220.46,740.98 L220.87,746.22 L221.29,751.61 L221.70,757.11 L222.11,762.68 L222.52,768.25 L222.94,773.76 L223.35,779.11 L223.76,784.22 L224.18,788.98 L224.59,793.27 L225.00,796.98 L225.41,800.01 L225.83,802.25 L226.24,803.63 L226.65,804.08 L227.07,803.59 L227.48,802.15 L227.89,799.79 L228.30,796.58 L228.72,792.60 L229.13,787.97 L229.54,782.78 L229.96,777.18 L230.37,771.27 L230.78,765.16 L231.19,758.95 L231.61,752.75 L232.02,746.61 L232.43,740.59 L232.85,734.76 L233.26,729.13 L233.67,723.74 L234.08,718.59 L234.50,713.71 L234.91,709.09 L235.32,704.73 L235.74,700.62 L236.15,696.76 L236.56,693.13 L236.97,689.73 L237.39,686.55 L237.80,683.56 L238.21,680.77 L238.63,678.15 L239.04,675.70 L239.45,673.40 L239.86,671.25 L240.28,669.24 L240.69,667.35 L241.10,665.58 L241.52,663.92 L241.93,662.36 L242.34,660.89 L242.75,659.51 L243.17,658.21 L243.58,656.99 L243.99,655.84 L244.41,654.76 L244.82,653.74 L245.23,652.77 L245.64,651.86 L246.06,650.99 L246.47,650.18 L246.88,649.41 L247.30,648.67 L247.71,647.98 L248.12,647.32 L248.53,646.70 L248.95,646.11 L249.36,645.54 L249.77,645.01 L250.19,644.50 L250.60,644.01 L251.01,643.55 L251.42,643.11 L251.84,642.69 L252.25,642.29 L252.66,641.90 L253.08,641.54 L253.49,641.19 L253.90,640.85 L254.31,640.53 L254.73,640.23 L255.14,639.93 L255.55,639.65 L255.97,639.38 L256.38,639.12 L256.79,638.88 L257.20,638.64 L257.62,638.41 L258.03,638.19 L258.44,637.98 L258.86,637.78 L259.27,637.58 L259.68,637.39 L260.09,637.21 L260.51,637.04 L260.92,636.87 L261.33,636.71 L261.75,636.55 L262.16,636.40 L262.57,636.26 L262.98,636.12 L263.40,635.98 L263.81,635.85 L264.22,635.73 L264.64,635.61 L265.05,635.49 L265.46,635.38 L265.87,635.27 L266.29,635.16 L266.70,635.06 L267.11,634.96 L267.53,634.86 L267.94,634.77 L268.35,634.68 L268.76,634.59 L269.18,634.50 L269.59,634.42 L270.00,634.34 L270.42,634.27 L270.83,634.19 L271.24,634.12 L271.65,634.05 L272.07,633.98 L272.48,633.91 L272.89,633.85 L273.31,633.78 L273.72,633.72 L274.13,633.66 L274.54,633.61 L274.96,633.55 L275.37,633.50 L275.78,633.44 L276.20,633.39 L276.61,633.34 L277.02,633.29 L277.43,633.25 L277.85,633.20 L278.26,633.15 L278.67,633.11 L279.09,633.07 L279.50,633.03 L279.91,632.99 L280.32,632.95 L280.74,632.91 L281.15,632.87 L281.56,632.83 L281.98,632.80 L282.39,632.76 L282.80,632.73 L283.21,632.70 L283.63,632.66 L284.04,632.63 L284.45,632.60 L284.87,632.57 L285.28,632.54 L285.69,632.52 L286.10,632.49 L286.52,632.46 L286.93,632.43 L287.34,632.41 L287.76,632.38 L288.17,632.36 L288.58,632.33 L288.99,632.31 L289.41,632.29 L289.82,632.26 L290.23,632.24 L290.65,632.22 L291.06,632.20 L291.47,632.18 L291.88,632.16 L292.30,632.14 L292.71,632.12 L293.12,632.10 L293.54,632.08 L293.95,632.07 L294.36,632.05 L294.77,632.03 L295.19,632.01 L295.60,632.00 L296.01,631.98 L296.43,631.96 L296.84,631.95 L297.25,631.93 L297.66,631.92 L298.08,631.90 L298.49,631.89 L298.90,631.88 L299.32,631.86 L299.73,631.85 L300.14,631.84 L300.55,631.82 L300.97,631.81 L301.38,631.80 L301.79,631.79 L302.21,631.77 L302.62,631.76 L303.03,631.75 L303.44,631.74 L303.86,631.73 L304.27,631.72 L304.68,631.71 L305.10,631.70 L305.51,631.69 L305.92,631.68 L306.33,631.67 L306.75,631.66 L307.16,631.65 L307.57,631.64 L307.99,631.63 L308.40,631.62 L308.81,631.61 L309.22,631.60 L309.64,631.60 L310.05,631.59 L310.46,631.58 L310.88,631.57 L311.29,631.57 L311.70,631.56 L312.11,631.56 L312.53,631.55 L312.94,631.55 L313.35,631.55 L313.77,631.54 L314.18,631.54 L314.59,631.53 L315.00,631.53 L315.42,631.53 L315.83,631.52 L316.24,631.52 L316.66,631.52 L317.07,631.51 L317.48,631.51 L317.89,631.51 L318.31,631.50 L318.72,631.50 L319.13,631.50 L319.55,631.49 L319.96,631.49 L320.37,631.49 L320.78,631.49 L321.20,631.48 L321.61,631.48 L322.02,631.48 L322.44,631.47 L322.85,631.47 L323.26,631.47 L323.67,631.47 L324.09,631.46 L324.50,631.46" fill="none" stroke="#44c41e" stroke-width="1"/><path d="M35.50,634.50 L35.91,634.52 L36.33,634.53 L36.74,634.55 L37.15,634.56 L37.56,634.58 L37.98,634.59 L38.39,634.61 L38.80,634.62 L39.22,634.64 L39.63,634.65 L40.04,634.67 L40.45,634.69 L40.87,634.70 L41.28,634.72 L41.69,634.73 L42.11,634.75 L42.52,634.77 L42.93,634.79 L43.34,634.80 L43.76,634.82 L44.17,634.84 L44.58,634.86 L45.00,634.87 L45.41,634.89 L45.82,634.91 L46.23,634.93 L46.65,634.95 L47.06,634.96 L47.47,634.98 L47.89,635.00 L48.30,635.02 L48.71,635.04 L49.12,635.06 L49.54,635.08 L49.95,635.10 L50.36,635.12 L50.78,635.14 L51.19,635.16 L51.60,635.18 L52.01,635.20 L52.43,635.22 L52.84,635.24 L53.25,635.27 L53.67,635.29 L54.08,635.31 L54.49,635.33 L54.90,635.35 L55.32,635.38 L55.73,635.40 L56.14,635.42 L56.56,635.45 L56.97,635.47 L57.38,635.49 L57.79,635.52 L58.21,635.54 L58.62,635.57 L59.03,635.59 L59.45,635.62 L59.86,635.64 L60.27,635.67 L60.68,635.69 L61.10,635.72 L61.51,635.75 L61.92,635.77 L62.34,635.80 L62.75,635.83 L63.16,635.86 L63.57,635.88 L63.99,635.91 L64.40,635.94 L64.81,635.97 L65.23,636.00 L65.64,636.03 L66.05,636.06 L66.46,636.09 L66.88,636.12 L67.29,636.15 L67.70,636.18 L68.12,636.21 L68.53,636.25 L68.94,636.28 L69.35,636.31 L69.77,636.34 L70.18,636.38 L70.59,636.41 L71.01,636.45 L71.42,636.48 L71.83,636.52 L72.24,636.55 L72.66,636.59 L73.07,636.63 L73.48,636.66 L73.90,636.70 L74.31,636.74 L74.72,636.78 L75.13,636.82 L75.55,636.86 L75.96,636.90 L76.37,636.94 L76.79,636.98 L77.20,637.02 L77.61,637.06 L78.02,637.11 L78.44,637.15 L78.85,637.19 L79.26,637.24 L79.68,637.28 L80.09,637.33 L80.50,637.38 L80.91,637.42 L81.33,637.47 L81.74,637.52 L82.15,637.57 L82.57,637.62 L82.98,637.67 L83.39,637.72 L83.80,637.77 L84.22,637.82 L84.63,637.88 L85.04,637.93 L85.46,637.99 L85.87,638.04 L86.28,638.10 L86.69,638.16 L87.11,638.22 L87.52,638.28 L87.93,638.34 L88.35,638.40 L88.76,638.46 L89.17,638.53 L89.58,638.59 L90.00,638.66 L90.41,638.72 L90.82,638.79 L91.24,638.86 L91.65,638.93 L92.06,639.00 L92.47,639.07 L92.89,639.15 L93.30,639.22 L93.71,639.29 L94.13,639.36 L94.54,639.43 L94.95,639.51 L95.36,639.58 L95.78,639.66 L96.19,639.74 L96.60,639.82 L97.02,639.90 L97.43,639.98 L97.84,640.07 L98.25,640.15 L98.67,640.24 L99.08,640.33 L99.49,640.42 L99.91,640.51 L100.32,640.61 L100.73,640.71 L101.14,640.81 L101.56,640.91 L101.97,641.01 L102.38,641.11 L102.80,641.22 L103.21,641.33 L103.62,641.44 L104.03,641.56 L104.45,641.67 L104.86,641.79 L105.27,641.92 L105.69,642.04 L106.10,642.17 L106.51,642.30 L106.92,642.43 L107.34,642.57 L107.75,642.71 L108.16,642.85 L108.58,643.00 L108.99,643.15 L109.40,643.30 L109.81,643.46 L110.23,643.62 L110.64,643.79 L111.05,643.96 L111.47,644.14 L111.88,644.31 L112.29,644.50 L112.70,644.69 L113.12,644.88 L113.53,645.08 L113.94,645.29 L114.36,645.50 L114.77,645.71 L115.18,645.94 L115.59,646.16 L116.01,646.40 L116.42,646.64 L116.83,646.89 L117.25,647.15 L117.66,647.41 L118.07,647.69 L118.48,647.97 L118.90,648.26 L119.31,648.56 L119.72,648.87 L120.14,649.19 L120.55,649.52 L120.96,649.86 L121.37,650.21 L121.79,650.58 L122.20,650.96 L122.61,651.35 L123.03,651.75 L123.44,652.17 L123.85,652.61 L124.26,653.06 L124.68,653.53 L125.09,654.01 L125.50,654.52 L125.92,655.04 L126.33,655.59 L126.74,656.15 L127.15,656.74 L127.57,657.36 L127.98,658.00 L128.39,658.66 L128.81,659.36 L129.22,660.09 L129.63,660.85 L130.04,661.64 L130.46,662.47 L130.87,663.33 L131.28,664.24 L131.70,665.19 L132.11,666.19 L132.52,667.23 L132.93,668.33 L133.35,669.48 L133.76,670.69 L134.17,671.96 L134.59,673.30 L135.00,674.71 L135.41,676.20 L135.82,677.76 L136.24,679.41 L136.65,681.16 L137.06,683.00 L137.48,684.95 L137.89,687.01 L138.30,689.19 L138.71,691.50 L139.13,693.94 L139.54,696.53 L139.95,699.27 L140.37,702.18 L140.78,705.26 L141.19,708.52 L141.60,711.98 L142.02,715.64 L142.43,719.51 L142.84,723.61 L143.26,727.93 L143.67,732.48 L144.08,737.27 L144.49,742.30 L144.91,747.55 L145.32,753.01 L145.73,758.67 L146.15,764.50 L146.56,770.47 L146.97,776.51 L147.38,782.58 L147.80,788.59 L148.21,794.47 L148.62,800.09 L149.04,805.36 L149.45,810.16 L149.86,814.36 L150.27,817.84 L150.69,820.50 L151.10,822.23 L151.51,822.99 L151.93,822.71 L152.34,821.41 L152.75,819.11 L153.16,815.87 L153.58,811.77 L153.99,806.94 L154.40,801.49 L154.82,795.55 L155.23,789.25 L155.64,782.72 L156.05,776.07 L156.47,769.39 L156.88,762.77 L157.29,756.27 L157.71,749.96 L158.12,743.88 L158.53,738.04 L158.94,732.48 L159.36,727.20 L159.77,722.20 L160.18,717.49 L160.60,713.05 L161.01,708.89 L161.42,704.99 L161.83,701.34 L162.25,697.92 L162.66,694.73 L163.07,691.75 L163.49,688.97 L163.90,686.37 L164.31,683.95 L164.72,681.69 L165.14,679.58 L165.55,677.61 L165.96,675.77 L166.38,674.06 L166.79,672.45 L167.20,670.96 L167.61,669.56 L168.03,668.26 L168.44,667.05 L168.85,665.91 L169.27,664.85 L169.68,663.86 L170.09,662.94 L170.50,662.08 L170.92,661.28 L171.33,660.53 L171.74,659.83 L172.16,659.19 L172.57,658.59 L172.98,658.03 L173.39,657.51 L173.81,657.04 L174.22,656.60 L174.63,656.19 L175.05,655.82 L175.46,655.48 L175.87,655.18 L176.28,654.90 L176.70,654.65 L177.11,654.43 L177.52,654.23 L177.94,654.06 L178.35,653.92 L178.76,653.80 L179.17,653.70 L179.59,653.63 L180.00,653.58 L180.41,653.55 L180.83,653.54 L181.24,653.56 L181.65,653.60 L182.06,653.66 L182.48,653.74 L182.89,653.85 L183.30,653.97 L183.72,654.12 L184.13,654.29 L184.54,654.48 L184.95,654.70 L185.37,654.94 L185.78,655.21 L186.19,655.49 L186.61,655.81 L187.02,656.15 L187.43,656.52 L187.84,656.91 L188.26,657.34 L188.67,657.79 L189.08,658.28 L189.50,658.80 L189.91,659.35 L190.32,659.94 L190.73,660.57 L191.15,661.24 L191.56,661.95 L191.97,662.70 L192.39,663.50 L192.80,664.34 L193.21,665.24 L193.62,666.20 L194.04,667.21 L194.45,668.28 L194.86,669.42 L195.28,670.63 L195.69,671.91 L196.10,673.27 L196.51,674.71 L196.93,676.25 L197.34,677.88 L197.75,679.61 L198.17,681.44 L198.58,683.40 L198.99,685.47 L199.40,687.68 L199.82,690.02 L200.23,692.51 L200.64,695.16 L201.06,697.97 L201.47,700.96 L201.88,704.12 L202.29,707.48 L202.71,711.04 L203.12,714.80 L203.53,718.76 L203.95,722.94 L204.36,727.32 L204.77,731.91 L205.18,736.69 L205.60,741.64 L206.01,746.74 L206.42,751.96 L206.84,757.26 L207.25,762.57 L207.66,767.83 L208.07,772.96 L208.49,777.87 L208.90,782.46 L209.31,786.63 L209.73,790.27 L210.14,793.26 L210.55,795.52 L210.96,796.97 L211.38,797.54 L211.79,797.20 L212.20,795.95 L212.62,793.83 L213.03,790.87 L213.44,787.17 L213.85,782.82 L214.27,777.93 L214.68,772.61 L215.09,766.98 L215.51,761.15 L215.92,755.21 L216.33,749.26 L216.74,743.35 L217.16,737.57 L217.57,731.94 L217.98,726.50 L218.40,721.29 L218.81,716.32 L219.22,711.59 L219.63,707.11 L220.05,702.89 L220.46,698.90 L220.87,695.15 L221.29,691.63 L221.70,688.33 L222.11,685.24 L222.52,682.34 L222.94,679.62 L223.35,677.07 L223.76,674.69 L224.18,672.46 L224.59,670.37 L225.00,668.40 L225.41,666.57 L225.83,664.84 L226.24,663.22 L226.65,661.70 L227.07,660.27 L227.48,658.93 L227.89,657.66 L228.30,656.47 L228.72,655.35 L229.13,654.29 L229.54,653.29 L229.96,652.35 L230.37,651.46 L230.78,650.61 L231.19,649.82 L231.61,649.06 L232.02,648.35 L232.43,647.67 L232.85,647.02 L233.26,646.41 L233.67,645.83 L234.08,645.28 L234.50,644.75 L234.91,644.25 L235.32,643.78 L235.74,643.32 L236.15,642.89 L236.56,642.48 L236.97,642.09 L237.39,641.72 L237.80,641.36 L238.21,641.02 L238.63,640.70 L239.04,640.39 L239.45,640.09 L239.86,639.80 L240.28,639.53 L240.69,639.27 L241.10,639.02 L241.52,638.77 L241.93,638.54 L242.34,638.32 L242.75,638.11 L243.17,637.90 L243.58,637.70 L243.99,637.51 L244.41,637.33 L244.82,637.15 L245.23,636.98 L245.64,636.82 L246.06,636.66 L246.47,636.51 L246.88,636.36 L247.30,636.22 L247.71,636.09 L248.12,635.95 L248.53,635.83 L248.95,635.70 L249.36,635.58 L249.77,635.47 L250.19,635.36 L250.60,635.25 L251.01,635.15 L251.42,635.05 L251.84,634.95 L252.25,634.85 L252.66,634.76 L253.08,634.67 L253.49,634.59 L253.90,634.51 L254.31,634.43 L254.73,634.35 L255.14,634.27 L255.55,634.20 L255.97,634.13 L256.38,634.06 L256.79,633.99 L257.20,633.92 L257.62,633.86 L258.03,633.80 L258.44,633.74 L258.86,633.68 L259.27,633.62 L259.68,633.57 L260.09,633.52 L260.51,633.46 L260.92,633.41 L261.33,633.36 L261.75,633.32 L262.16,633.27 L262.57,633.22 L262.98,633.18 L263.40,633.14 L263.81,633.09 L264.22,633.05 L264.64,633.01 L265.05,632.97 L265.46,632.94 L265.87,632.90 L266.29,632.86 L266.70,632.83 L267.11,632.79 L267.53,632.76 L267.94,632.73 L268.35,632.70 L268.76,632.67 L269.18,632.63 L269.59,632.61 L270.00,632.58 L270.42,632.55 L270.83,632.52 L271.24,632.49 L271.65,632.47 L272.07,632.44 L272.48,632.42 L272.89,632.39 L273.31,632.37 L273.72,632.34 L274.13,632.32 L274.54,632.30 L274.96,632.28 L275.37,632.26 L275.78,632.23 L276.20,632.21 L276.61,632.19 L277.02,632.17 L277.43,632.16 L277.85,632.14 L278.26,632.12 L278.67,632.10 L279.09,632.08 L279.50,632.07 L279.91,632.05 L280.32,632.03 L280.74,632.02 L281.15,632.00 L281.56,631.98 L281.98,631.97 L282.39,631.95 L282.80,631.94 L283.21,631.93 L283.63,631.91 L284.04,631.90 L284.45,631.88 L284.87,631.87 L285.28,631.86 L285.69,631.85 L286.10,631.83 L286.52,631.82 L286.93,631.81 L287.34,631.80 L287.76,631.79 L288.17,631.78 L288.58,631.76 L288.99,631.75 L289.41,631.74 L289.82,631.73 L290.23,631.72 L290.65,631.71 L291.06,631.70 L291.47,631.69 L291.88,631.68 L292.30,631.67 L292.71,631.67 L293.12,631.66 L293.54,631.65 L293.95,631.64 L294.36,631.63 L294.77,631.62 L295.19,631.61 L295.60,631.61 L296.01,631.60 L296.43,631.59 L296.84,631.59 L297.25,631.59 L297.66,631.58 L298.08,631.58 L298.49,631.57 L298.90,631.57 L299.32,631.57 L299.73,631.56 L300.14,631.56 L300.55,631.55 L300.97,631.55 L301.38,631.55 L301.79,631.54 L302.21,631.54 L302.62,631.54 L303.03,631.53 L303.44,631.53 L303.86,631.53 L304.27,631.52 L304.68,631.52 L305.10,631.52 L305.51,631.51 L305.92,631.51 L306.33,631.51 L306.75,631.50 L307.16,631.50 L307.57,631.50 L307.99,631.50 L308.40,631.49 L308.81,631.49 L309.22,631.49 L309.64,631.48 L310.05,631.48 L310.46,631.48 L310.88,631.48 L311.29,631.47 L311.70,631.47 L312.11,631.47 L312.53,631.46 L312.94,631.46 L313.35,631.46 L313.77,631.46 L314.18,631.45 L314.59,631.45 L315.00,631.45 L315.42,631.45 L315.83,631.44 L316.24,631.44 L316.66,631.44 L317.07,631.44 L317.48,631.43 L317.89,631.43 L318.31,631.43 L318.72,631.43 L319.13,631.43 L319.55,631.42 L319.96,631.42 L320.37,631.42 L320.78,631.42 L321.20,631.42 L321.61,631.41 L322.02,631.41 L322.44,631.41 L322.85,631.41 L323.26,631.40 L323.67,631.40 L324.09,631.40 L324.50,631.40" fill="none" stroke="#b34cff" stroke-width="1"/><path d="M35.50,634.23 L35.91,634.25 L36.33,634.27 L36.74,634.29 L37.15,634.31 L37.56,634.33 L37.98,634.34 L38.39,634.36 L38.80,634.38 L39.22,634.40 L39.63,634.42 L40.04,634.44 L40.45,634.46 L40.87,634.48 L41.28,634.51 L41.69,634.53 L42.11,634.55 L42.52,634.57 L42.93,634.59 L43.34,634.61 L43.76,634.63 L44.17,634.66 L44.58,634.68 L45.00,634.70 L45.41,634.72 L45.82,634.75 L46.23,634.77 L46.65,634.79 L47.06,634.82 L47.47,634.84 L47.89,634.86 L48.30,634.88 L48.71,634.90 L49.12,634.92 L49.54,634.94 L49.95,634.95 L50.36,634.97 L50.78,634.99 L51.19,635.01 L51.60,635.03 L52.01,635.04 L52.43,635.06 L52.84,635.08 L53.25,635.10 L53.67,635.12 L54.08,635.14 L54.49,635.16 L54.90,635.18 L55.32,635.20 L55.73,635.22 L56.14,635.24 L56.56,635.26 L56.97,635.28 L57.38,635.30 L57.79,635.32 L58.21,635.34 L58.62,635.37 L59.03,635.39 L59.45,635.41 L59.86,635.43 L60.27,635.45 L60.68,635.48 L61.10,635.50 L61.51,635.52 L61.92,635.54 L62.34,635.57 L62.75,635.59 L63.16,635.62 L63.57,635.64 L63.99,635.66 L64.40,635.69 L64.81,635.71 L65.23,635.74 L65.64,635.76 L66.05,635.79 L66.46,635.82 L66.88,635.84 L67.29,635.87 L67.70,635.90 L68.12,635.92 L68.53,635.95 L68.94,635.98 L69.35,636.00 L69.77,636.03 L70.18,636.06 L70.59,636.09 L71.01,636.12 L71.42,636.15 L71.83,636.18 L72.24,636.21 L72.66,636.24 L73.07,636.27 L73.48,636.30 L73.90,636.33 L74.31,636.36 L74.72,636.39 L75.13,636.43 L75.55,636.46 L75.96,636.49 L76.37,636.53 L76.79,636.56 L77.20,636.59 L77.61,636.62 L78.02,636.65 L78.44,636.68 L78.85,636.71 L79.26,636.74 L79.68,636.77 L80.09,636.80 L80.50,636.83 L80.91,636.86 L81.33,636.90 L81.74,636.93 L82.15,636.96 L82.57,637.00 L82.98,637.03 L83.39,637.06 L83.80,637.10 L84.22,637.13 L84.63,637.17 L85.04,637.20 L85.46,637.24 L85.87,637.28 L86.28,637.31 L86.69,637.35 L87.11,637.39 L87.52,637.43 L87.93,637.47 L88.35,637.51 L88.76,637.55 L89.17,637.59 L89.58,637.63 L90.00,637.67 L90.41,637.71 L90.82,637.76 L91.24,637.80 L91.65,637.84 L92.06,637.89 L92.47,637.93 L92.89,637.98 L93.30,638.03 L93.71,638.07 L94.13,638.12 L94.54,638.17 L94.95,638.22 L95.36,638.27 L95.78,638.32 L96.19,638.37 L96.60,638.42 L97.02,638.48 L97.43,638.53 L97.84,638.58 L98.25,638.64 L98.67,638.70 L99.08,638.75 L99.49,638.81 L99.91,638.87 L100.32,638.93 L100.73,638.99 L101.14,639.05 L101.56,639.11 L101.97,639.17 L102.38,639.24 L102.80,639.30 L103.21,639.37 L103.62,639.44 L104.03,639.51 L104.45,639.58 L104.86,639.65 L105.27,639.72 L105.69,639.79 L106.10,639.87 L106.51,639.94 L106.92,640.02 L107.34,640.10 L107.75,640.18 L108.16,640.26 L108.58,640.34 L108.99,640.42 L109.40,640.51 L109.81,640.59 L110.23,640.68 L110.64,640.77 L111.05,640.86 L111.47,640.96 L111.88,641.05 L112.29,641.15 L112.70,641.25 L113.12,641.35 L113.53,641.45 L113.94,641.55 L114.36,641.66 L114.77,641.77 L115.18,641.88 L115.59,641.99 L116.01,642.11 L116.42,642.23 L116.83,642.35 L117.25,642.47 L117.66,642.59 L118.07,642.72 L118.48,642.85 L118.90,642.98 L119.31,643.12 L119.72,643.26 L120.14,643.40 L120.55,643.54 L120.96,643.69 L121.37,643.84 L121.79,644.00 L122.20,644.16 L122.61,644.32 L123.03,644.49 L123.44,644.66 L123.85,644.83 L124.26,645.01 L124.68,645.19 L125.09,645.38 L125.50,645.57 L125.92,645.76 L126.33,645.97 L126.74,646.17 L127.15,646.38 L127.57,646.60 L127.98,646.82 L128.39,647.05 L128.81,647.29 L129.22,647.53 L129.63,647.78 L130.04,648.03 L130.46,648.29 L130.87,648.56 L131.28,648.84 L131.70,649.13 L132.11,649.42 L132.52,649.72 L132.93,650.03 L133.35,650.35 L133.76,650.69 L134.17,651.03 L134.59,651.38 L135.00,651.74 L135.41,652.12 L135.82,652.50 L136.24,652.90 L136.65,653.31 L137.06,653.74 L137.48,654.18 L137.89,654.64 L138.30,655.11 L138.71,655.60 L139.13,656.11 L139.54,656.63 L139.95,657.18 L140.37,657.75 L140.78,658.33 L141.19,658.94 L141.60,659.58 L142.02,660.23 L142.43,660.92 L142.84,661.63 L143.26,662.38 L143.67,663.15 L144.08,663.96 L144.49,664.80 L144.91,665.68 L145.32,666.59 L145.73,667.55 L146.15,668.55 L146.56,669.60 L146.97,670.70 L147.38,671.85 L147.80,673.05 L148.21,674.31 L148.62,675.64 L149.04,677.03 L149.45,678.50 L149.86,680.04 L150.27,681.66 L150.69,683.37 L151.10,685.16 L151.51,687.06 L151.93,689.06 L152.34,691.17 L152.75,693.40 L153.16,695.76 L153.58,698.25 L153.99,700.88 L154.40,703.67 L154.82,706.62 L155.23,709.74 L155.64,713.04 L156.05,716.53 L156.47,720.22 L156.88,724.12 L157.29,728.25 L157.71,732.60 L158.12,737.18 L158.53,742.00 L158.94,747.05 L159.36,752.33 L159.77,757.84 L160.18,763.56 L160.60,769.46 L161.01,775.52 L161.42,781.68 L161.83,787.90 L162.25,794.10 L162.66,800.21 L163.07,806.12 L163.49,811.74 L163.90,816.94 L164.31,821.61 L164.72,825.62 L165.14,828.85 L165.55,831.21 L165.96,832.61 L166.38,833.00 L166.79,832.36 L167.20,830.70 L167.61,828.06 L168.03,824.52 L168.44,820.19 L168.85,815.18 L169.27,809.63 L169.68,803.67 L170.09,797.43 L170.50,791.02 L170.92,784.57 L171.33,778.16 L171.74,771.87 L172.16,765.77 L172.57,759.90 L172.98,754.31 L173.39,749.01 L173.81,744.02 L174.22,739.36 L174.63,735.02 L175.05,731.00 L175.46,727.30 L175.87,723.91 L176.28,720.82 L176.70,718.01 L177.11,715.49 L177.52,713.24 L177.94,711.24 L178.35,709.49 L178.76,707.98 L179.17,706.70 L179.59,705.64 L180.00,704.80 L180.41,704.17 L180.83,703.75 L181.24,703.54 L181.65,703.52 L182.06,703.70 L182.48,704.09 L182.89,704.67 L183.30,705.45 L183.72,706.44 L184.13,707.63 L184.54,709.03 L184.95,710.65 L185.37,712.48 L185.78,714.53 L186.19,716.81 L186.61,719.31 L187.02,722.05 L187.43,725.02 L187.84,728.22 L188.26,731.65 L188.67,735.30 L189.08,739.15 L189.50,743.19 L189.91,747.40 L190.32,751.73 L190.73,756.15 L191.15,760.60 L191.56,765.02 L191.97,769.33 L192.39,773.44 L192.80,777.27 L193.21,780.71 L193.62,783.66 L194.04,786.03 L194.45,787.73 L194.86,788.70 L195.28,788.87 L195.69,788.23 L196.10,786.78 L196.51,784.55 L196.93,781.59 L197.34,777.98 L197.75,773.81 L198.17,769.17 L198.58,764.18 L198.99,758.92 L199.40,753.51 L199.82,748.02 L200.23,742.52 L200.64,737.09 L201.06,731.77 L201.47,726.60 L201.88,721.62 L202.29,716.84 L202.71,712.27 L203.12,707.93 L203.53,703.82 L203.95,699.94 L204.36,696.27 L204.77,692.82 L205.18,689.57 L205.60,686.52 L206.01,683.65 L206.42,680.97 L206.84,678.44 L207.25,676.08 L207.66,673.85 L208.07,671.77 L208.49,669.81 L208.90,667.97 L209.31,666.24 L209.73,664.62 L210.14,663.09 L210.55,661.65 L210.96,660.30 L211.38,659.02 L211.79,657.82 L212.20,656.68 L212.62,655.61 L213.03,654.59 L213.44,653.63 L213.85,652.73 L214.27,651.87 L214.68,651.05 L215.09,650.28 L215.51,649.55 L215.92,648.85 L216.33,648.19 L216.74,647.56 L217.16,646.96 L217.57,646.39 L217.98,645.85 L218.40,645.33 L218.81,644.84 L219.22,644.37 L219.63,643.92 L220.05,643.49 L220.46,643.08 L220.87,642.68 L221.29,642.31 L221.70,641.95 L222.11,641.60 L222.52,641.27 L222.94,640.95 L223.35,640.65 L223.76,640.36 L224.18,640.08 L224.59,639.81 L225.00,639.55 L225.41,639.30 L225.83,639.06 L226.24,638.83 L226.65,638.60 L227.07,638.39 L227.48,638.18 L227.89,637.99 L228.30,637.79 L228.72,637.61 L229.13,637.43 L229.54,637.26 L229.96,637.09 L230.37,636.93 L230.78,636.78 L231.19,636.63 L231.61,636.48 L232.02,636.34 L232.43,636.21 L232.85,636.07 L233.26,635.95 L233.67,635.82 L234.08,635.71 L234.50,635.59 L234.91,635.48 L235.32,635.37 L235.74,635.26 L236.15,635.16 L236.56,635.06 L236.97,634.97 L237.39,634.87 L237.80,634.78 L238.21,634.70 L238.63,634.61 L239.04,634.53 L239.45,634.45 L239.86,634.37 L240.28,634.29 L240.69,634.22 L241.10,634.15 L241.52,634.08 L241.93,634.01 L242.34,633.94 L242.75,633.88 L243.17,633.82 L243.58,633.76 L243.99,633.70 L244.41,633.64 L244.82,633.58 L245.23,633.53 L245.64,633.47 L246.06,633.42 L246.47,633.37 L246.88,633.32 L247.30,633.27 L247.71,633.23 L248.12,633.18 L248.53,633.14 L248.95,633.09 L249.36,633.05 L249.77,633.01 L250.19,632.97 L250.60,632.93 L251.01,632.89 L251.42,632.86 L251.84,632.83 L252.25,632.79 L252.66,632.76 L253.08,632.73 L253.49,632.70 L253.90,632.67 L254.31,632.64 L254.73,632.62 L255.14,632.59 L255.55,632.56 L255.97,632.54 L256.38,632.51 L256.79,632.49 L257.20,632.46 L257.62,632.44 L258.03,632.42 L258.44,632.39 L258.86,632.37 L259.27,632.35 L259.68,632.33 L260.09,632.31 L260.51,632.29 L260.92,632.27 L261.33,632.25 L261.75,632.23 L262.16,632.21 L262.57,632.19 L262.98,632.17 L263.40,632.15 L263.81,632.14 L264.22,632.12 L264.64,632.10 L265.05,632.09 L265.46,632.07 L265.87,632.06 L266.29,632.04 L266.70,632.03 L267.11,632.01 L267.53,632.00 L267.94,631.98 L268.35,631.97 L268.76,631.95 L269.18,631.94 L269.59,631.93 L270.00,631.92 L270.42,631.90 L270.83,631.89 L271.24,631.88 L271.65,631.87 L272.07,631.85 L272.48,631.84 L272.89,631.83 L273.31,631.82 L273.72,631.81 L274.13,631.80 L274.54,631.79 L274.96,631.78 L275.37,631.77 L275.78,631.76 L276.20,631.75 L276.61,631.74 L277.02,631.73 L277.43,631.72 L277.85,631.71 L278.26,631.70 L278.67,631.69 L279.09,631.69 L279.50,631.68 L279.91,631.67 L280.32,631.67 L280.74,631.66 L281.15,631.66 L281.56,631.65 L281.98,631.65 L282.39,631.64 L282.80,631.64 L283.21,631.63 L283.63,631.63 L284.04,631.62 L284.45,631.62 L284.87,631.62 L285.28,631.61 L285.69,631.61 L286.10,631.60 L286.52,631.60 L286.93,631.60 L287.34,631.59 L287.76,631.59 L288.17,631.58 L288.58,631.58 L288.99,631.58 L289.41,631.57 L289.82,631.57 L290.23,631.56 L290.65,631.56 L291.06,631.56 L291.47,631.55 L291.88,631.55 L292.30,631.55 L292.71,631.54 L293.12,631.54 L293.54,631.54 L293.95,631.53 L294.36,631.53 L294.77,631.53 L295.19,631.52 L295.60,631.52 L296.01,631.52 L296.43,631.52 L296.84,631.51 L297.25,631.51 L297.66,631.51 L298.08,631.50 L298.49,631.50 L298.90,631.50 L299.32,631.49 L299.73,631.49 L300.14,631.49 L300.55,631.49 L300.97,631.48 L301.38,631.48 L301.79,631.48 L302.21,631.48 L302.62,631.47 L303.03,631.47 L303.44,631.47 L303.86,631.47 L304.27,631.46 L304.68,631.46 L305.10,631.46 L305.51,631.46 L305.92,631.45 L306.33,631.45 L306.75,631.45 L307.16,631.45 L307.57,631.44 L307.99,631.44 L308.40,631.44 L308.81,631.44 L309.22,631.43 L309.64,631.43 L310.05,631.43 L310.46,631.43 L310.88,631.43 L311.29,631.42 L311.70,631.42 L312.11,631.42 L312.53,631.42 L312.94,631.42 L313.35,631.41 L313.77,631.41 L314.18,631.41 L314.59,631.41 L315.00,631.41 L315.42,631.40 L315.83,631.40 L316.24,631.40 L316.66,631.40 L317.07,631.40 L317.48,631.39 L317.89,631.39 L318.31,631.39 L318.72,631.39 L319.13,631.39 L319.55,631.39 L319.96,631.38 L320.37,631.38 L320.78,631.38 L321.20,631.38 L321.61,631.38 L322.02,631.38 L322.44,631.37 L322.85,631.37 L323.26,631.37 L323.67,631.37 L324.09,631.37 L324.50,631.37" fill="none" stroke="#e0702a" stroke-width="1"/><path d="M35.50,634.70 L35.91,634.72 L36.33,634.74 L36.74,634.76 L37.15,634.78 L37.56,634.80 L37.98,634.83 L38.39,634.85 L38.80,634.87 L39.22,634.89 L39.63,634.92 L40.04,634.94 L40.45,634.96 L40.87,634.98 L41.28,635.01 L41.69,635.03 L42.11,635.05 L42.52,635.08 L42.93,635.10 L43.34,635.13 L43.76,635.15 L44.17,635.18 L44.58,635.20 L45.00,635.23 L45.41,635.25 L45.82,635.28 L46.23,635.30 L46.65,635.33 L47.06,635.36 L47.47,635.38 L47.89,635.41 L48.30,635.44 L48.71,635.47 L49.12,635.49 L49.54,635.52 L49.95,635.55 L50.36,635.58 L50.78,635.61 L51.19,635.64 L51.60,635.67 L52.01,635.70 L52.43,635.73 L52.84,635.76 L53.25,635.79 L53.67,635.82 L54.08,635.85 L54.49,635.88 L54.90,635.91 L55.32,635.94 L55.73,635.98 L56.14,636.01 L56.56,636.04 L56.97,636.08 L57.38,636.11 L57.79,636.14 L58.21,636.18 L58.62,636.20 L59.03,636.22 L59.45,636.24 L59.86,636.26 L60.27,636.28 L60.68,636.30 L61.10,636.32 L61.51,636.35 L61.92,636.37 L62.34,636.39 L62.75,636.41 L63.16,636.43 L63.57,636.46 L63.99,636.48 L64.40,636.50 L64.81,636.53 L65.23,636.55 L65.64,636.58 L66.05,636.60 L66.46,636.62 L66.88,636.65 L67.29,636.67 L67.70,636.70 L68.12,636.72 L68.53,636.75 L68.94,636.77 L69.35,636.80 L69.77,636.83 L70.18,636.85 L70.59,636.88 L71.01,636.91 L71.42,636.94 L71.83,636.96 L72.24,636.99 L72.66,637.02 L73.07,637.05 L73.48,637.08 L73.90,637.11 L74.31,637.14 L74.72,637.16 L75.13,637.19 L75.55,637.23 L75.96,637.26 L76.37,637.29 L76.79,637.32 L77.20,637.35 L77.61,637.38 L78.02,637.41 L78.44,637.45 L78.85,637.48 L79.26,637.51 L79.68,637.55 L80.09,637.58 L80.50,637.62 L80.91,637.65 L81.33,637.69 L81.74,637.72 L82.15,637.76 L82.57,637.79 L82.98,637.83 L83.39,637.87 L83.80,637.91 L84.22,637.94 L84.63,637.98 L85.04,638.02 L85.46,638.06 L85.87,638.10 L86.28,638.14 L86.69,638.18 L87.11,638.22 L87.52,638.27 L87.93,638.31 L88.35,638.35 L88.76,638.40 L89.17,638.44 L89.58,638.48 L90.00,638.53 L90.41,638.57 L90.82,638.62 L91.24,638.67 L91.65,638.72 L92.06,638.76 L92.47,638.81 L92.89,638.86 L93.30,638.91 L93.71,638.96 L94.13,639.01 L94.54,639.06 L94.95,639.12 L95.36,639.17 L95.78,639.22 L96.19,639.28 L96.60,639.33 L97.02,639.39 L97.43,639.45 L97.84,639.50 L98.25,639.56 L98.67,639.62 L99.08,639.68 L99.49,639.74 L99.91,639.80 L100.32,639.87 L100.73,639.93 L101.14,639.99 L101.56,640.06 L101.97,640.13 L102.38,640.19 L102.80,640.26 L103.21,640.33 L103.62,640.40 L104.03,640.47 L104.45,640.54 L104.86,640.62 L105.27,640.69 L105.69,640.77 L106.10,640.84 L106.51,640.92 L106.92,641.00 L107.34,641.08 L107.75,641.16 L108.16,641.24 L108.58,641.33 L108.99,641.41 L109.40,641.50 L109.81,641.59 L110.23,641.68 L110.64,641.77 L111.05,641.86 L111.47,641.96 L111.88,642.05 L112.29,642.15 L112.70,642.25 L113.12,642.35 L113.53,642.45 L113.94,642.55 L114.36,642.66 L114.77,642.77 L115.18,642.88 L115.59,642.99 L116.01,643.10 L116.42,643.22 L116.83,643.33 L117.25,643.45 L117.66,643.57 L118.07,643.70 L118.48,643.82 L118.90,643.95 L119.31,644.08 L119.72,644.22 L120.14,644.35 L120.55,644.49 L120.96,644.63 L121.37,644.77 L121.79,644.92 L122.20,645.07 L122.61,645.22 L123.03,645.38 L123.44,645.54 L123.85,645.70 L124.26,645.86 L124.68,646.03 L125.09,646.20 L125.50,646.38 L125.92,646.56 L126.33,646.74 L126.74,646.93 L127.15,647.12 L127.57,647.31 L127.98,647.51 L128.39,647.71 L128.81,647.92 L129.22,648.14 L129.63,648.35 L130.04,648.57 L130.46,648.80 L130.87,649.03 L131.28,649.27 L131.70,649.52 L132.11,649.77 L132.52,650.02 L132.93,650.28 L133.35,650.55 L133.76,650.82 L134.17,651.10 L134.59,651.39 L135.00,651.69 L135.41,651.99 L135.82,652.30 L136.24,652.62 L136.65,652.94 L137.06,653.28 L137.48,653.62 L137.89,653.98 L138.30,654.34 L138.71,654.71 L139.13,655.09 L139.54,655.49 L139.95,655.89 L140.37,656.31 L140.78,656.73 L141.19,657.17 L141.60,657.63 L142.02,658.09 L142.43,658.57 L142.84,659.06 L143.26,659.57 L143.67,660.10 L144.08,660.64 L144.49,661.19 L144.91,661.77 L145.32,662.36 L145.73,662.97 L146.15,663.60 L146.56,664.25 L146.97,664.92 L147.38,665.62 L147.80,666.34 L148.21,667.08 L148.62,667.85 L149.04,668.64 L149.45,669.47 L149.86,670.32 L150.27,671.20 L150.69,672.11 L151.10,673.06 L151.51,674.04 L151.93,675.06 L152.34,676.11 L152.75,677.21 L153.16,678.35 L153.58,679.53 L153.99,680.75 L154.40,682.03 L154.82,683.35 L155.23,684.73 L155.64,686.17 L156.05,687.66 L156.47,689.21 L156.88,690.83 L157.29,692.51 L157.71,694.27 L158.12,696.10 L158.53,698.00 L158.94,699.99 L159.36,702.06 L159.77,704.23 L160.18,706.48 L160.60,708.84 L161.01,711.29 L161.42,713.85 L161.83,716.53 L162.25,719.32 L162.66,722.23 L163.07,725.26 L163.49,728.43 L163.90,731.73 L164.31,735.16 L164.72,738.74 L165.14,742.46 L165.55,746.33 L165.96,750.34 L166.38,754.50 L166.79,758.81 L167.20,763.26 L167.61,767.85 L168.03,772.57 L168.44,777.41 L168.85,782.37 L169.27,787.41 L169.68,792.54 L170.09,797.71 L170.50,802.90 L170.92,808.09 L171.33,813.23 L171.74,818.27 L172.16,823.18 L172.57,827.91 L172.98,832.39 L173.39,836.58 L173.81,840.40 L174.22,843.82 L174.63,846.76 L175.05,849.18 L175.46,851.02 L175.87,852.26 L176.28,852.86 L176.70,852.79 L177.11,852.06 L177.52,850.66 L177.94,848.61 L178.35,845.93 L178.76,842.67 L179.17,838.87 L179.59,834.58 L180.00,829.87 L180.41,824.79 L180.83,819.41 L181.24,813.79 L181.65,807.99 L182.06,802.07 L182.48,796.08 L182.89,790.07 L183.30,784.09 L183.72,778.16 L184.13,772.32 L184.54,766.61 L184.95,761.03 L185.37,755.61 L185.78,750.35 L186.19,745.28 L186.61,740.39 L187.02,735.69 L187.43,731.17 L187.84,726.85 L188.26,722.71 L188.67,718.76 L189.08,714.99 L189.50,711.39 L189.91,707.96 L190.32,704.69 L190.73,701.58 L191.15,698.62 L191.56,695.80 L191.97,693.11 L192.39,690.56 L192.80,688.13 L193.21,685.82 L193.62,683.62 L194.04,681.53 L194.45,679.54 L194.86,677.64 L195.28,675.83 L195.69,674.11 L196.10,672.47 L196.51,670.91 L196.93,669.42 L197.34,668.00 L197.75,666.64 L198.17,665.35 L198.58,664.12 L198.99,662.94 L199.40,661.81 L199.82,660.73 L200.23,659.70 L200.64,658.72 L201.06,657.78 L201.47,656.87 L201.88,656.01 L202.29,655.18 L202.71,654.39 L203.12,653.63 L203.53,652.90 L203.95,652.20 L204.36,651.53 L204.77,650.89 L205.18,650.27 L205.60,649.67 L206.01,649.10 L206.42,648.55 L206.84,648.03 L207.25,647.52 L207.66,647.03 L208.07,646.56 L208.49,646.10 L208.90,645.67 L209.31,645.25 L209.73,644.84 L210.14,644.45 L210.55,644.07 L210.96,643.71 L211.38,643.36 L211.79,643.02 L212.20,642.69 L212.62,642.37 L213.03,642.07 L213.44,641.77 L213.85,641.49 L214.27,641.21 L214.68,640.95 L215.09,640.69 L215.51,640.44 L215.92,640.19 L216.33,639.96 L216.74,639.73 L217.16,639.51 L217.57,639.30 L217.98,639.09 L218.40,638.89 L218.81,638.70 L219.22,638.51 L219.63,638.33 L220.05,638.15 L220.46,637.98 L220.87,637.81 L221.29,637.65 L221.70,637.50 L222.11,637.34 L222.52,637.20 L222.94,637.05 L223.35,636.91 L223.76,636.78 L224.18,636.64 L224.59,636.51 L225.00,636.39 L225.41,636.27 L225.83,636.15 L226.24,636.04 L226.65,635.92 L227.07,635.81 L227.48,635.71 L227.89,635.61 L228.30,635.50 L228.72,635.41 L229.13,635.31 L229.54,635.22 L229.96,635.13 L230.37,635.04 L230.78,634.95 L231.19,634.87 L231.61,634.79 L232.02,634.71 L232.43,634.63 L232.85,634.56 L233.26,634.48 L233.67,634.41 L234.08,634.34 L234.50,634.27 L234.91,634.20 L235.32,634.14 L235.74,634.08 L236.15,634.01 L236.56,633.95 L236.97,633.89 L237.39,633.83 L237.80,633.78 L238.21,633.72 L238.63,633.67 L239.04,633.62 L239.45,633.56 L239.86,633.51 L240.28,633.47 L240.69,633.42 L241.10,633.37 L241.52,633.32 L241.93,633.28 L242.34,633.24 L242.75,633.19 L243.17,633.15 L243.58,633.11 L243.99,633.07 L244.41,633.03 L244.82,632.99 L245.23,632.95 L245.64,632.92 L246.06,632.88 L246.47,632.85 L246.88,632.81 L247.30,632.78 L247.71,632.74 L248.12,632.71 L248.53,632.68 L248.95,632.65 L249.36,632.62 L249.77,632.59 L250.19,632.56 L250.60,632.53 L251.01,632.50 L251.42,632.48 L251.84,632.45 L252.25,632.42 L252.66,632.40 L253.08,632.37 L253.49,632.35 L253.90,632.32 L254.31,632.30 L254.73,632.28 L255.14,632.25 L255.55,632.23 L255.97,632.21 L256.38,632.19 L256.79,632.17 L257.20,632.15 L257.62,632.13 L258.03,632.11 L258.44,632.09 L258.86,632.07 L259.27,632.05 L259.68,632.03 L260.09,632.01 L260.51,632.00 L260.92,631.98 L261.33,631.97 L261.75,631.96 L262.16,631.95 L262.57,631.94 L262.98,631.94 L263.40,631.93 L263.81,631.92 L264.22,631.91 L264.64,631.91 L265.05,631.90 L265.46,631.89 L265.87,631.88 L266.29,631.88 L266.70,631.87 L267.11,631.86 L267.53,631.86 L267.94,631.85 L268.35,631.84 L268.76,631.84 L269.18,631.83 L269.59,631.82 L270.00,631.82 L270.42,631.81 L270.83,631.80 L271.24,631.80 L271.65,631.79 L272.07,631.79 L272.48,631.78 L272.89,631.77 L273.31,631.77 L273.72,631.76 L274.13,631.76 L274.54,631.75 L274.96,631.75 L275.37,631.74 L275.78,631.74 L276.20,631.73 L276.61,631.72 L277.02,631.72 L277.43,631.71 L277.85,631.71 L278.26,631.70 L278.67,631.70 L279.09,631.70 L279.50,631.69 L279.91,631.69 L280.32,631.68 L280.74,631.68 L281.15,631.67 L281.56,631.67 L281.98,631.66 L282.39,631.66 L282.80,631.65 L283.21,631.65 L283.63,631.65 L284.04,631.64 L284.45,631.64 L284.87,631.63 L285.28,631.63 L285.69,631.63 L286.10,631.62 L286.52,631.62 L286.93,631.61 L287.34,631.61 L287.76,631.61 L288.17,631.60 L288.58,631.60 L288.99,631.60 L289.41,631.59 L289.82,631.59 L290.23,631.58 L290.65,631.58 L291.06,631.58 L291.47,631.57 L291.88,631.57 L292.30,631.57 L292.71,631.56 L293.12,631.56 L293.54,631.56 L293.95,631.55 L294.36,631.55 L294.77,631.55 L295.19,631.55 L295.60,631.54 L296.01,631.54 L296.43,631.54 L296.84,631.53 L297.25,631.53 L297.66,631.53 L298.08,631.52 L298.49,631.52 L298.90,631.52 L299.32,631.52 L299.73,631.51 L300.14,631.51 L300.55,631.51 L300.97,631.50 L301.38,631.50 L301.79,631.50 L302.21,631.50 L302.62,631.49 L303.03,631.49 L303.44,631.49 L303.86,631.49 L304.27,631.48 L304.68,631.48 L305.10,631.48 L305.51,631.48 L305.92,631.47 L306.33,631.47 L306.75,631.47 L307.16,631.47 L307.57,631.47 L307.99,631.46 L308.40,631.46 L308.81,631.46 L309.22,631.46 L309.64,631.45 L310.05,631.45 L310.46,631.45 L310.88,631.45 L311.29,631.45 L311.70,631.44 L312.11,631.44 L312.53,631.44 L312.94,631.44 L313.35,631.43 L313.77,631.43 L314.18,631.43 L314.59,631.43 L315.00,631.43 L315.42,631.43 L315.83,631.42 L316.24,631.42 L316.66,631.42 L317.07,631.42 L317.48,631.42 L317.89,631.41 L318.31,631.41 L318.72,631.41 L319.13,631.41 L319.55,631.41 L319.96,631.40 L320.37,631.40 L320.78,631.40 L321.20,631.40 L321.61,631.40 L322.02,631.40 L322.44,631.39 L322.85,631.39 L323.26,631.39 L323.67,631.39 L324.09,631.39 L324.50,631.39" fill="none" stroke="#222" stroke-width="1"/></g>
<clipPath id="clipd"><rect x="35.5" y="630.1" width="289.0" height="228.5"/></clipPath>
<path d="M175.5,851 C168,830 150,814 106,815.3" fill="none" stroke="#f01818" stroke-width="1.1" stroke-dasharray="2.6,1.6"/>
<polygon points="101.50,815.30 107.50,812.20 107.50,818.40" fill="#f01818" stroke="none" stroke-width="1" />
<path d="M193.6,783.5 C197,800 220,806 251,811" fill="none" stroke="#f01818" stroke-width="1.1" stroke-dasharray="2.6,1.6"/>
<polygon points="256.80,811.80 250.60,808.30 250.00,814.50" fill="#f01818" stroke="none" stroke-width="1" />
<rect x="35.5" y="631.1" width="289.0" height="227.5" fill="none" stroke="#8a8a8a" stroke-width="1.3"/>
<line x1="70.99" y1="858.60" x2="70.99" y2="855.10" stroke="#8a8a8a" stroke-width="1" />
<line x1="70.99" y1="631.10" x2="70.99" y2="634.60" stroke="#8a8a8a" stroke-width="1" />
<line x1="121.69" y1="858.60" x2="121.69" y2="855.10" stroke="#8a8a8a" stroke-width="1" />
<line x1="121.69" y1="631.10" x2="121.69" y2="634.60" stroke="#8a8a8a" stroke-width="1" />
<line x1="172.39" y1="858.60" x2="172.39" y2="855.10" stroke="#8a8a8a" stroke-width="1" />
<line x1="172.39" y1="631.10" x2="172.39" y2="634.60" stroke="#8a8a8a" stroke-width="1" />
<line x1="223.10" y1="858.60" x2="223.10" y2="855.10" stroke="#8a8a8a" stroke-width="1" />
<line x1="223.10" y1="631.10" x2="223.10" y2="634.60" stroke="#8a8a8a" stroke-width="1" />
<line x1="273.80" y1="858.60" x2="273.80" y2="855.10" stroke="#8a8a8a" stroke-width="1" />
<line x1="273.80" y1="631.10" x2="273.80" y2="634.60" stroke="#8a8a8a" stroke-width="1" />
<line x1="35.50" y1="813.10" x2="39.00" y2="813.10" stroke="#8a8a8a" stroke-width="1" />
<line x1="324.50" y1="813.10" x2="321.00" y2="813.10" stroke="#8a8a8a" stroke-width="1" />
<line x1="35.50" y1="767.60" x2="39.00" y2="767.60" stroke="#8a8a8a" stroke-width="1" />
<line x1="324.50" y1="767.60" x2="321.00" y2="767.60" stroke="#8a8a8a" stroke-width="1" />
<line x1="35.50" y1="722.10" x2="39.00" y2="722.10" stroke="#8a8a8a" stroke-width="1" />
<line x1="324.50" y1="722.10" x2="321.00" y2="722.10" stroke="#8a8a8a" stroke-width="1" />
<line x1="35.50" y1="676.60" x2="39.00" y2="676.60" stroke="#8a8a8a" stroke-width="1" />
<line x1="324.50" y1="676.60" x2="321.00" y2="676.60" stroke="#8a8a8a" stroke-width="1" />
<text x="31.50" y="862.40" font-family="Liberation Sans" font-size="10.8" text-anchor="end" fill="#000" font-weight="normal" >0</text>
<text x="31.50" y="816.90" font-family="Liberation Sans" font-size="10.8" text-anchor="end" fill="#000" font-weight="normal" >0.2</text>
<text x="31.50" y="771.40" font-family="Liberation Sans" font-size="10.8" text-anchor="end" fill="#000" font-weight="normal" >0.4</text>
<text x="31.50" y="725.90" font-family="Liberation Sans" font-size="10.8" text-anchor="end" fill="#000" font-weight="normal" >0.6</text>
<text x="31.50" y="680.40" font-family="Liberation Sans" font-size="10.8" text-anchor="end" fill="#000" font-weight="normal" >0.8</text>
<text x="31.50" y="634.90" font-family="Liberation Sans" font-size="10.8" text-anchor="end" fill="#000" font-weight="normal" >1</text>
<text x="70.99" y="875.20" font-family="Liberation Sans" font-size="10.8" text-anchor="middle" fill="#000" font-weight="normal" >38.5</text>
<text x="121.69" y="875.20" font-family="Liberation Sans" font-size="10.8" text-anchor="middle" fill="#000" font-weight="normal" >38.6</text>
<text x="172.39" y="875.20" font-family="Liberation Sans" font-size="10.8" text-anchor="middle" fill="#000" font-weight="normal" >38.7</text>
<text x="223.10" y="875.20" font-family="Liberation Sans" font-size="10.8" text-anchor="middle" fill="#000" font-weight="normal" >38.8</text>
<text x="273.80" y="875.20" font-family="Liberation Sans" font-size="10.8" text-anchor="middle" fill="#000" font-weight="normal" >38.9</text>
<text x="324.50" y="875.20" font-family="Liberation Sans" font-size="10.8" text-anchor="middle" fill="#000" font-weight="normal" >39</text>
<text x="166.00" y="895.30" font-family="Liberation Sans" font-size="10.2" text-anchor="middle" fill="#000" font-weight="normal" >Frequency / MHz</text>
<text x="8.80" y="744.50" font-family="Liberation Sans" font-size="10.6" text-anchor="middle" fill="#000" font-weight="normal" transform="rotate(-90 8.80 744.50)" >Transmission</text>
<line x1="248.70" y1="786.60" x2="265.20" y2="786.60" stroke="#222" stroke-width="1.1" />
<text x="268.60" y="789.90" font-family="Liberation Sans" font-size="9.2" text-anchor="start" fill="#222" font-weight="normal" ><tspan font-family="Liberation Serif" font-size="10">Ω</tspan><tspan font-size="6.5" dy="2">z</tspan><tspan dy="-2"> = 0</tspan></text>
<line x1="248.70" y1="800.00" x2="265.20" y2="800.00" stroke="#e0702a" stroke-width="1.1" />
<text x="268.60" y="803.30" font-family="Liberation Sans" font-size="9.2" text-anchor="start" fill="#e0702a" font-weight="normal" ><tspan font-family="Liberation Serif" font-size="10">Ω</tspan><tspan font-size="6.5" dy="2">z</tspan><tspan dy="-2"> = 0.001</tspan><tspan font-family="Liberation Serif" font-size="10">ω</tspan><tspan font-size="6.5" dy="2">0</tspan></text>
<line x1="248.70" y1="813.30" x2="265.20" y2="813.30" stroke="#b34cff" stroke-width="1.1" />
<text x="268.60" y="816.60" font-family="Liberation Sans" font-size="9.2" text-anchor="start" fill="#b34cff" font-weight="normal" ><tspan font-family="Liberation Serif" font-size="10">Ω</tspan><tspan font-size="6.5" dy="2">z</tspan><tspan dy="-2"> = 0.002</tspan><tspan font-family="Liberation Serif" font-size="10">ω</tspan><tspan font-size="6.5" dy="2">0</tspan></text>
<line x1="248.70" y1="826.40" x2="265.20" y2="826.40" stroke="#44c41e" stroke-width="1.1" />
<text x="268.60" y="829.70" font-family="Liberation Sans" font-size="9.2" text-anchor="start" fill="#44c41e" font-weight="normal" ><tspan font-family="Liberation Serif" font-size="10">Ω</tspan><tspan font-size="6.5" dy="2">z</tspan><tspan dy="-2"> = 0.003</tspan><tspan font-family="Liberation Serif" font-size="10">ω</tspan><tspan font-size="6.5" dy="2">0</tspan></text>
<line x1="248.70" y1="839.60" x2="265.20" y2="839.60" stroke="#ff30c8" stroke-width="1.1" />
<text x="268.60" y="842.90" font-family="Liberation Sans" font-size="9.2" text-anchor="start" fill="#ff30c8" font-weight="normal" ><tspan font-family="Liberation Serif" font-size="10">Ω</tspan><tspan font-size="6.5" dy="2">z</tspan><tspan dy="-2"> = 0.004</tspan><tspan font-family="Liberation Serif" font-size="10">ω</tspan><tspan font-size="6.5" dy="2">0</tspan></text>
<line x1="248.70" y1="852.80" x2="265.20" y2="852.80" stroke="#21a6ec" stroke-width="1.1" />
<text x="268.60" y="856.10" font-family="Liberation Sans" font-size="9.2" text-anchor="start" fill="#21a6ec" font-weight="normal" ><tspan font-family="Liberation Serif" font-size="10">Ω</tspan><tspan font-size="6.5" dy="2">z</tspan><tspan dy="-2"> = 0.005</tspan><tspan font-family="Liberation Serif" font-size="10">ω</tspan><tspan font-size="6.5" dy="2">0</tspan></text>
<text x="337.50" y="637.30" font-family="Liberation Sans" font-size="15" text-anchor="start" fill="#000" font-weight="bold" >e</text>
<rect x="394.4" y="633.6" width="143.6" height="47.60" fill="#fff" stroke="#333" stroke-width="0.8" stroke-dasharray="1,1"/>
<line x1="390.90" y1="726.53" x2="681.30" y2="656.83" stroke="#111" stroke-width="0.9"  stroke-dasharray="7,3.4"/>
<line x1="390.90" y1="759.92" x2="681.30" y2="828.17" stroke="#111" stroke-width="0.9"  stroke-dasharray="7,3.4"/>
<line x1="390.90" y1="726.89" x2="681.30" y2="642.46" stroke="#ff1f1f" stroke-width="1.1" />
<line x1="390.90" y1="725.58" x2="681.30" y2="640.86" stroke="#1515ff" stroke-width="1.1" />
<line x1="390.90" y1="770.81" x2="681.30" y2="855.90" stroke="#1515ff" stroke-width="1.1" />
<line x1="390.90" y1="770.31" x2="681.30" y2="852.63" stroke="#ff1f1f" stroke-width="1.1" />
<line x1="503.40" y1="702.50" x2="503.40" y2="781.50" stroke="#111" stroke-width="0.9" />
<polygon points="503.40,698.50 500.60,705.00 506.20,705.00" fill="#111" stroke="none" stroke-width="1" />
<polygon points="503.40,785.30 500.60,778.80 506.20,778.80" fill="#111" stroke="none" stroke-width="1" />
<line x1="622.30" y1="662.00" x2="622.30" y2="834.00" stroke="#1515ff" stroke-width="0.9" />
<polygon points="622.30,658.00 619.50,664.50 625.10,664.50" fill="#1515ff" stroke="none" stroke-width="1" />
<polygon points="622.30,838.00 619.50,831.50 625.10,831.50" fill="#1515ff" stroke="none" stroke-width="1" />
<rect x="427.2" y="732.6" width="127.6" height="22.3" fill="#fff" stroke="#777" stroke-width="0.9"/>
<text x="491.00" y="747.00" font-family="Liberation Sans" font-size="9.2" text-anchor="middle" fill="#000" font-weight="normal" >Theoretical κ = 0.59</text>
<rect x="555.6" y="732.6" width="127.4" height="22.3" fill="#fff" stroke="#aab0f2" stroke-width="1"/>
<text x="617.20" y="747.00" font-family="Liberation Sans" font-size="9.2" text-anchor="middle" fill="#1515ff" font-weight="normal" >Simulation κ = 0.58</text>
<rect x="390.9" y="633.60" width="291.40" height="225.06" fill="none" stroke="#8a8a8a" stroke-width="1.2"/>
<line x1="427.20" y1="858.66" x2="427.20" y2="855.16" stroke="#8a8a8a" stroke-width="1" />
<line x1="427.20" y1="633.60" x2="427.20" y2="637.10" stroke="#8a8a8a" stroke-width="1" />
<line x1="463.50" y1="858.66" x2="463.50" y2="855.16" stroke="#8a8a8a" stroke-width="1" />
<line x1="463.50" y1="633.60" x2="463.50" y2="637.10" stroke="#8a8a8a" stroke-width="1" />
<line x1="499.80" y1="858.66" x2="499.80" y2="855.16" stroke="#8a8a8a" stroke-width="1" />
<line x1="499.80" y1="633.60" x2="499.80" y2="637.10" stroke="#8a8a8a" stroke-width="1" />
<line x1="536.10" y1="858.66" x2="536.10" y2="855.16" stroke="#8a8a8a" stroke-width="1" />
<line x1="536.10" y1="633.60" x2="536.10" y2="637.10" stroke="#8a8a8a" stroke-width="1" />
<line x1="572.40" y1="858.66" x2="572.40" y2="855.16" stroke="#8a8a8a" stroke-width="1" />
<line x1="572.40" y1="633.60" x2="572.40" y2="637.10" stroke="#8a8a8a" stroke-width="1" />
<line x1="608.70" y1="858.66" x2="608.70" y2="855.16" stroke="#8a8a8a" stroke-width="1" />
<line x1="608.70" y1="633.60" x2="608.70" y2="637.10" stroke="#8a8a8a" stroke-width="1" />
<line x1="645.00" y1="858.66" x2="645.00" y2="855.16" stroke="#8a8a8a" stroke-width="1" />
<line x1="645.00" y1="633.60" x2="645.00" y2="637.10" stroke="#8a8a8a" stroke-width="1" />
<line x1="390.90" y1="851.40" x2="394.40" y2="851.40" stroke="#8a8a8a" stroke-width="1" />
<line x1="682.30" y1="851.40" x2="678.80" y2="851.40" stroke="#8a8a8a" stroke-width="1" />
<line x1="390.90" y1="815.10" x2="394.40" y2="815.10" stroke="#8a8a8a" stroke-width="1" />
<line x1="682.30" y1="815.10" x2="678.80" y2="815.10" stroke="#8a8a8a" stroke-width="1" />
<line x1="390.90" y1="778.80" x2="394.40" y2="778.80" stroke="#8a8a8a" stroke-width="1" />
<line x1="682.30" y1="778.80" x2="678.80" y2="778.80" stroke="#8a8a8a" stroke-width="1" />
<line x1="390.90" y1="742.50" x2="394.40" y2="742.50" stroke="#8a8a8a" stroke-width="1" />
<line x1="682.30" y1="742.50" x2="678.80" y2="742.50" stroke="#8a8a8a" stroke-width="1" />
<line x1="390.90" y1="706.20" x2="394.40" y2="706.20" stroke="#8a8a8a" stroke-width="1" />
<line x1="682.30" y1="706.20" x2="678.80" y2="706.20" stroke="#8a8a8a" stroke-width="1" />
<line x1="390.90" y1="669.90" x2="394.40" y2="669.90" stroke="#8a8a8a" stroke-width="1" />
<line x1="682.30" y1="669.90" x2="678.80" y2="669.90" stroke="#8a8a8a" stroke-width="1" />
<text x="383.80" y="855.20" font-family="Liberation Sans" font-size="10.8" text-anchor="end" fill="#000" font-weight="normal" >−0.15</text>
<text x="383.80" y="818.90" font-family="Liberation Sans" font-size="10.8" text-anchor="end" fill="#000" font-weight="normal" >−0.1</text>
<text x="383.80" y="782.60" font-family="Liberation Sans" font-size="10.8" text-anchor="end" fill="#000" font-weight="normal" >−0.05</text>
<text x="383.80" y="746.30" font-family="Liberation Sans" font-size="10.8" text-anchor="end" fill="#000" font-weight="normal" >0</text>
<text x="383.80" y="710.00" font-family="Liberation Sans" font-size="10.8" text-anchor="end" fill="#000" font-weight="normal" >0.05</text>
<text x="383.80" y="673.70" font-family="Liberation Sans" font-size="10.8" text-anchor="end" fill="#000" font-weight="normal" >0.1</text>
<text x="383.80" y="637.40" font-family="Liberation Sans" font-size="10.8" text-anchor="end" fill="#000" font-weight="normal" >0.15</text>
<text x="390.90" y="874.60" font-family="Liberation Sans" font-size="10.8" text-anchor="middle" fill="#000" font-weight="normal" >1</text>
<text x="427.20" y="874.60" font-family="Liberation Sans" font-size="10.8" text-anchor="middle" fill="#000" font-weight="normal" >1.5</text>
<text x="463.50" y="874.60" font-family="Liberation Sans" font-size="10.8" text-anchor="middle" fill="#000" font-weight="normal" >2</text>
<text x="499.80" y="874.60" font-family="Liberation Sans" font-size="10.8" text-anchor="middle" fill="#000" font-weight="normal" >2.5</text>
<text x="536.10" y="874.60" font-family="Liberation Sans" font-size="10.8" text-anchor="middle" fill="#000" font-weight="normal" >3</text>
<text x="572.40" y="874.60" font-family="Liberation Sans" font-size="10.8" text-anchor="middle" fill="#000" font-weight="normal" >3.5</text>
<text x="608.70" y="874.60" font-family="Liberation Sans" font-size="10.8" text-anchor="middle" fill="#000" font-weight="normal" >4</text>
<text x="645.00" y="874.60" font-family="Liberation Sans" font-size="10.8" text-anchor="middle" fill="#000" font-weight="normal" >4.5</text>
<text x="681.30" y="874.60" font-family="Liberation Sans" font-size="10.8" text-anchor="middle" fill="#000" font-weight="normal" >5</text>
<text x="346.40" y="742.70" font-family="Liberation Sans" font-size="10.6" text-anchor="middle" fill="#000" font-weight="normal" transform="rotate(-90 346.40 742.70)" >Frequency shift / MHz</text>
<text x="532.40" y="894.00" font-family="Liberation Sans" font-size="10.2" text-anchor="start" fill="#000" font-weight="normal" ><tspan font-family="Liberation Serif" font-size="11">Ω</tspan><tspan font-size="7" dy="2">z</tspan><tspan dy="-2"> / </tspan><tspan font-family="Liberation Serif" font-size="11">ω</tspan><tspan font-size="7" dy="2">0</tspan></text>
<text x="656.60" y="894.50" font-family="Liberation Sans" font-size="10.2" text-anchor="start" fill="#000" font-weight="normal" >×10<tspan font-size="7" dy="-4">−3</tspan></text>
<line x1="398.50" y1="643.40" x2="422.80" y2="643.40" stroke="#1515ff" stroke-width="1.1" />
<text x="428.20" y="646.70" font-family="Liberation Sans" font-size="9.2" text-anchor="start" fill="#1515ff" font-weight="normal" ><tspan font-family="Liberation Serif" font-size="10">Ω</tspan><tspan font-size="6.5" dy="2">z</tspan><tspan dy="-2"> = 11 cells</tspan></text>
<line x1="398.50" y1="656.30" x2="422.80" y2="656.30" stroke="#ff1f1f" stroke-width="1.1" />
<text x="428.20" y="659.60" font-family="Liberation Sans" font-size="9.2" text-anchor="start" fill="#ff1f1f" font-weight="normal" ><tspan font-family="Liberation Serif" font-size="10">Ω</tspan><tspan font-size="6.5" dy="2">z</tspan><tspan dy="-2"> = 50 cells</tspan></text>
<line x1="398.50" y1="670.90" x2="422.80" y2="670.90" stroke="#111" stroke-width="0.9" stroke-dasharray="2.6,1.6"/>
<text x="428.20" y="674.20" font-family="Liberation Sans" font-size="9.2" text-anchor="start" fill="#000" font-weight="normal" >Theoretical result</text>
</svg></body></html>
